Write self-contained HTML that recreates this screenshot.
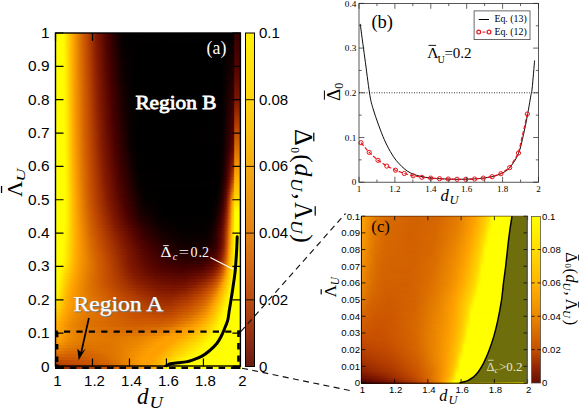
<!DOCTYPE html>
<html><head><meta charset="utf-8"><title>fig</title>
<style>
html,body{margin:0;padding:0;background:#fff;}
svg{display:block;}
text{font-family:"Liberation Sans",sans-serif;}
.se,.se text{font-family:"Liberation Serif",serif;}
</style></head><body>
<svg width="581" height="410" viewBox="0 0 581 410">
<rect width="581" height="410" fill="#fff"/>

<g id="pa">
<clipPath id="clipa"><rect x="55" y="32.5" width="186" height="336.5"/></clipPath><g clip-path="url(#clipa)">
<defs><linearGradient id="ga0"><stop offset="0.000" stop-color="#ffff00"/><stop offset="0.032" stop-color="#ffff00"/><stop offset="0.048" stop-color="#fffa00"/><stop offset="0.095" stop-color="#ffa900"/><stop offset="0.143" stop-color="#d66700"/><stop offset="0.175" stop-color="#bd4600"/><stop offset="0.222" stop-color="#831a00"/><stop offset="0.270" stop-color="#550500"/><stop offset="0.286" stop-color="#470000"/><stop offset="0.349" stop-color="#0d0000"/><stop offset="0.365" stop-color="#040000"/><stop offset="0.476" stop-color="#000000"/><stop offset="0.937" stop-color="#020000"/><stop offset="1.000" stop-color="#040000"/></linearGradient><linearGradient id="ga1"><stop offset="0.000" stop-color="#ffff00"/><stop offset="0.032" stop-color="#ffff00"/><stop offset="0.048" stop-color="#fffa00"/><stop offset="0.079" stop-color="#ffc500"/><stop offset="0.095" stop-color="#ffa900"/><stop offset="0.143" stop-color="#d66700"/><stop offset="0.175" stop-color="#bd4600"/><stop offset="0.222" stop-color="#841a00"/><stop offset="0.270" stop-color="#560500"/><stop offset="0.286" stop-color="#470000"/><stop offset="0.349" stop-color="#0e0000"/><stop offset="0.365" stop-color="#050000"/><stop offset="0.444" stop-color="#000000"/><stop offset="0.921" stop-color="#020000"/><stop offset="1.000" stop-color="#060000"/></linearGradient><linearGradient id="ga2"><stop offset="0.000" stop-color="#ffff00"/><stop offset="0.032" stop-color="#ffff00"/><stop offset="0.048" stop-color="#fffa00"/><stop offset="0.079" stop-color="#ffc600"/><stop offset="0.095" stop-color="#ffa900"/><stop offset="0.143" stop-color="#d66800"/><stop offset="0.175" stop-color="#bd4700"/><stop offset="0.222" stop-color="#841b00"/><stop offset="0.270" stop-color="#560500"/><stop offset="0.317" stop-color="#2a0000"/><stop offset="0.349" stop-color="#0e0000"/><stop offset="0.381" stop-color="#020000"/><stop offset="0.921" stop-color="#020000"/><stop offset="1.000" stop-color="#080000"/></linearGradient><linearGradient id="ga3"><stop offset="0.000" stop-color="#ffff00"/><stop offset="0.032" stop-color="#ffff00"/><stop offset="0.048" stop-color="#fffa00"/><stop offset="0.079" stop-color="#ffc600"/><stop offset="0.095" stop-color="#ffa900"/><stop offset="0.143" stop-color="#d76800"/><stop offset="0.175" stop-color="#be4700"/><stop offset="0.222" stop-color="#851b00"/><stop offset="0.270" stop-color="#570600"/><stop offset="0.302" stop-color="#3a0000"/><stop offset="0.349" stop-color="#0f0000"/><stop offset="0.365" stop-color="#060000"/><stop offset="0.429" stop-color="#000000"/><stop offset="0.905" stop-color="#010000"/><stop offset="0.984" stop-color="#0a0000"/><stop offset="1.000" stop-color="#0a0000"/></linearGradient><linearGradient id="ga4"><stop offset="0.000" stop-color="#ffff00"/><stop offset="0.032" stop-color="#ffff00"/><stop offset="0.048" stop-color="#fffa00"/><stop offset="0.079" stop-color="#ffc600"/><stop offset="0.095" stop-color="#ffaa00"/><stop offset="0.143" stop-color="#d76800"/><stop offset="0.175" stop-color="#be4700"/><stop offset="0.222" stop-color="#861c00"/><stop offset="0.270" stop-color="#580600"/><stop offset="0.302" stop-color="#3b0000"/><stop offset="0.349" stop-color="#100000"/><stop offset="0.365" stop-color="#070000"/><stop offset="0.444" stop-color="#000000"/><stop offset="0.905" stop-color="#010000"/><stop offset="0.984" stop-color="#0d0000"/><stop offset="1.000" stop-color="#0d0000"/></linearGradient><linearGradient id="ga5"><stop offset="0.000" stop-color="#ffff00"/><stop offset="0.032" stop-color="#ffff00"/><stop offset="0.048" stop-color="#fffa00"/><stop offset="0.063" stop-color="#ffe300"/><stop offset="0.095" stop-color="#ffaa00"/><stop offset="0.143" stop-color="#d76900"/><stop offset="0.175" stop-color="#be4800"/><stop offset="0.222" stop-color="#871c00"/><stop offset="0.286" stop-color="#4a0100"/><stop offset="0.349" stop-color="#110000"/><stop offset="0.381" stop-color="#040000"/><stop offset="0.508" stop-color="#000000"/><stop offset="0.905" stop-color="#020000"/><stop offset="0.968" stop-color="#0f0000"/><stop offset="1.000" stop-color="#100000"/></linearGradient><linearGradient id="ga6"><stop offset="0.000" stop-color="#ffff00"/><stop offset="0.032" stop-color="#ffff00"/><stop offset="0.048" stop-color="#fffa00"/><stop offset="0.063" stop-color="#ffe300"/><stop offset="0.095" stop-color="#ffaa00"/><stop offset="0.143" stop-color="#d76900"/><stop offset="0.175" stop-color="#bf4800"/><stop offset="0.222" stop-color="#871d00"/><stop offset="0.270" stop-color="#5a0700"/><stop offset="0.302" stop-color="#3d0000"/><stop offset="0.349" stop-color="#120000"/><stop offset="0.381" stop-color="#050000"/><stop offset="0.476" stop-color="#000000"/><stop offset="0.905" stop-color="#020000"/><stop offset="0.984" stop-color="#120000"/><stop offset="1.000" stop-color="#120000"/></linearGradient><linearGradient id="ga7"><stop offset="0.000" stop-color="#ffff00"/><stop offset="0.032" stop-color="#ffff00"/><stop offset="0.048" stop-color="#fffa00"/><stop offset="0.079" stop-color="#ffc700"/><stop offset="0.095" stop-color="#ffaa00"/><stop offset="0.143" stop-color="#d76900"/><stop offset="0.175" stop-color="#bf4900"/><stop offset="0.222" stop-color="#881d00"/><stop offset="0.286" stop-color="#4c0200"/><stop offset="0.349" stop-color="#140000"/><stop offset="0.365" stop-color="#0a0000"/><stop offset="0.429" stop-color="#000000"/><stop offset="0.905" stop-color="#020000"/><stop offset="0.968" stop-color="#140000"/><stop offset="1.000" stop-color="#150000"/></linearGradient><linearGradient id="ga8"><stop offset="0.000" stop-color="#ffff00"/><stop offset="0.032" stop-color="#ffff00"/><stop offset="0.048" stop-color="#fffb00"/><stop offset="0.063" stop-color="#ffe400"/><stop offset="0.095" stop-color="#ffaa00"/><stop offset="0.143" stop-color="#d86a00"/><stop offset="0.175" stop-color="#c04900"/><stop offset="0.222" stop-color="#891e00"/><stop offset="0.270" stop-color="#5b0700"/><stop offset="0.302" stop-color="#3f0000"/><stop offset="0.349" stop-color="#150000"/><stop offset="0.381" stop-color="#060000"/><stop offset="0.444" stop-color="#000000"/><stop offset="0.889" stop-color="#010000"/><stop offset="0.937" stop-color="#0d0000"/><stop offset="0.968" stop-color="#170000"/><stop offset="1.000" stop-color="#180000"/></linearGradient><linearGradient id="ga9"><stop offset="0.000" stop-color="#ffff00"/><stop offset="0.032" stop-color="#ffff00"/><stop offset="0.048" stop-color="#fffb00"/><stop offset="0.063" stop-color="#ffe400"/><stop offset="0.095" stop-color="#ffab00"/><stop offset="0.143" stop-color="#d86a00"/><stop offset="0.175" stop-color="#c04900"/><stop offset="0.222" stop-color="#8a1f00"/><stop offset="0.270" stop-color="#5c0700"/><stop offset="0.317" stop-color="#310000"/><stop offset="0.365" stop-color="#0c0000"/><stop offset="0.429" stop-color="#000000"/><stop offset="0.889" stop-color="#010000"/><stop offset="0.937" stop-color="#0e0000"/><stop offset="0.968" stop-color="#190000"/><stop offset="1.000" stop-color="#1b0000"/></linearGradient><linearGradient id="ga10"><stop offset="0.000" stop-color="#ffff00"/><stop offset="0.032" stop-color="#ffff00"/><stop offset="0.048" stop-color="#fffb00"/><stop offset="0.063" stop-color="#ffe400"/><stop offset="0.095" stop-color="#ffab00"/><stop offset="0.111" stop-color="#f59300"/><stop offset="0.143" stop-color="#d86a00"/><stop offset="0.175" stop-color="#c14a00"/><stop offset="0.222" stop-color="#8b1f00"/><stop offset="0.270" stop-color="#5d0800"/><stop offset="0.302" stop-color="#410000"/><stop offset="0.349" stop-color="#170000"/><stop offset="0.381" stop-color="#080000"/><stop offset="0.429" stop-color="#000000"/><stop offset="0.889" stop-color="#010000"/><stop offset="0.921" stop-color="#090000"/><stop offset="0.968" stop-color="#1c0000"/><stop offset="1.000" stop-color="#1e0000"/></linearGradient><linearGradient id="ga11"><stop offset="0.000" stop-color="#ffff00"/><stop offset="0.032" stop-color="#ffff00"/><stop offset="0.048" stop-color="#fffb00"/><stop offset="0.063" stop-color="#ffe500"/><stop offset="0.095" stop-color="#ffab00"/><stop offset="0.127" stop-color="#e67f00"/><stop offset="0.175" stop-color="#c14a00"/><stop offset="0.222" stop-color="#8c2000"/><stop offset="0.270" stop-color="#5e0800"/><stop offset="0.302" stop-color="#420000"/><stop offset="0.349" stop-color="#180000"/><stop offset="0.381" stop-color="#090000"/><stop offset="0.429" stop-color="#000000"/><stop offset="0.889" stop-color="#010000"/><stop offset="0.921" stop-color="#0a0000"/><stop offset="0.968" stop-color="#1f0000"/><stop offset="1.000" stop-color="#200000"/></linearGradient><linearGradient id="ga12"><stop offset="0.000" stop-color="#ffff00"/><stop offset="0.032" stop-color="#ffff00"/><stop offset="0.048" stop-color="#fffb00"/><stop offset="0.063" stop-color="#ffe500"/><stop offset="0.095" stop-color="#ffab00"/><stop offset="0.127" stop-color="#e67f00"/><stop offset="0.159" stop-color="#ce5a00"/><stop offset="0.175" stop-color="#c24b00"/><stop offset="0.222" stop-color="#8c2000"/><stop offset="0.270" stop-color="#5f0800"/><stop offset="0.302" stop-color="#430000"/><stop offset="0.349" stop-color="#190000"/><stop offset="0.381" stop-color="#090000"/><stop offset="0.429" stop-color="#000000"/><stop offset="0.889" stop-color="#010000"/><stop offset="0.921" stop-color="#0b0000"/><stop offset="0.968" stop-color="#210000"/><stop offset="1.000" stop-color="#230000"/></linearGradient><linearGradient id="ga13"><stop offset="0.000" stop-color="#ffff00"/><stop offset="0.032" stop-color="#ffff00"/><stop offset="0.048" stop-color="#fffb00"/><stop offset="0.063" stop-color="#ffe500"/><stop offset="0.095" stop-color="#ffac00"/><stop offset="0.127" stop-color="#e67f00"/><stop offset="0.159" stop-color="#ce5a00"/><stop offset="0.175" stop-color="#c24b00"/><stop offset="0.222" stop-color="#8d2100"/><stop offset="0.254" stop-color="#6e0f00"/><stop offset="0.302" stop-color="#440000"/><stop offset="0.349" stop-color="#1a0000"/><stop offset="0.381" stop-color="#0a0000"/><stop offset="0.429" stop-color="#000000"/><stop offset="0.889" stop-color="#010000"/><stop offset="0.921" stop-color="#0b0000"/><stop offset="0.968" stop-color="#240000"/><stop offset="1.000" stop-color="#260000"/></linearGradient><linearGradient id="ga14"><stop offset="0.000" stop-color="#ffff00"/><stop offset="0.032" stop-color="#ffff00"/><stop offset="0.048" stop-color="#fffb00"/><stop offset="0.063" stop-color="#ffe600"/><stop offset="0.095" stop-color="#ffac00"/><stop offset="0.127" stop-color="#e67f00"/><stop offset="0.175" stop-color="#c34b00"/><stop offset="0.222" stop-color="#8e2200"/><stop offset="0.254" stop-color="#6f1000"/><stop offset="0.302" stop-color="#450000"/><stop offset="0.349" stop-color="#1b0000"/><stop offset="0.381" stop-color="#0b0000"/><stop offset="0.429" stop-color="#000000"/><stop offset="0.889" stop-color="#010000"/><stop offset="0.921" stop-color="#0c0000"/><stop offset="0.968" stop-color="#270000"/><stop offset="1.000" stop-color="#290000"/></linearGradient><linearGradient id="ga15"><stop offset="0.000" stop-color="#ffff00"/><stop offset="0.032" stop-color="#ffff00"/><stop offset="0.048" stop-color="#fffb00"/><stop offset="0.063" stop-color="#ffe600"/><stop offset="0.095" stop-color="#ffac00"/><stop offset="0.127" stop-color="#e68000"/><stop offset="0.159" stop-color="#cf5b00"/><stop offset="0.175" stop-color="#c34c00"/><stop offset="0.222" stop-color="#8f2200"/><stop offset="0.254" stop-color="#701000"/><stop offset="0.302" stop-color="#460000"/><stop offset="0.349" stop-color="#1c0000"/><stop offset="0.381" stop-color="#0b0000"/><stop offset="0.429" stop-color="#000000"/><stop offset="0.889" stop-color="#010000"/><stop offset="0.921" stop-color="#0d0000"/><stop offset="0.968" stop-color="#290000"/><stop offset="1.000" stop-color="#2c0000"/></linearGradient><linearGradient id="ga16"><stop offset="0.000" stop-color="#ffff00"/><stop offset="0.032" stop-color="#ffff00"/><stop offset="0.048" stop-color="#fffb00"/><stop offset="0.063" stop-color="#ffe600"/><stop offset="0.095" stop-color="#ffac00"/><stop offset="0.111" stop-color="#f69400"/><stop offset="0.143" stop-color="#da6d00"/><stop offset="0.175" stop-color="#c44c00"/><stop offset="0.222" stop-color="#902300"/><stop offset="0.270" stop-color="#620900"/><stop offset="0.302" stop-color="#470000"/><stop offset="0.349" stop-color="#1d0000"/><stop offset="0.381" stop-color="#0c0000"/><stop offset="0.429" stop-color="#000000"/><stop offset="0.889" stop-color="#010000"/><stop offset="0.921" stop-color="#0e0000"/><stop offset="0.952" stop-color="#250000"/><stop offset="0.968" stop-color="#2c0000"/><stop offset="1.000" stop-color="#2e0000"/></linearGradient><linearGradient id="ga17"><stop offset="0.000" stop-color="#ffff00"/><stop offset="0.048" stop-color="#fffc00"/><stop offset="0.063" stop-color="#ffe700"/><stop offset="0.095" stop-color="#ffac00"/><stop offset="0.111" stop-color="#f69400"/><stop offset="0.159" stop-color="#cf5c00"/><stop offset="0.175" stop-color="#c44d00"/><stop offset="0.222" stop-color="#902300"/><stop offset="0.254" stop-color="#721100"/><stop offset="0.302" stop-color="#480100"/><stop offset="0.349" stop-color="#1e0000"/><stop offset="0.397" stop-color="#070000"/><stop offset="0.429" stop-color="#000000"/><stop offset="0.889" stop-color="#010000"/><stop offset="0.921" stop-color="#0f0000"/><stop offset="0.952" stop-color="#270000"/><stop offset="0.968" stop-color="#2f0000"/><stop offset="1.000" stop-color="#310000"/></linearGradient><linearGradient id="ga18"><stop offset="0.000" stop-color="#ffff00"/><stop offset="0.048" stop-color="#fffc00"/><stop offset="0.063" stop-color="#ffe700"/><stop offset="0.095" stop-color="#ffad00"/><stop offset="0.111" stop-color="#f69500"/><stop offset="0.159" stop-color="#cf5c00"/><stop offset="0.175" stop-color="#c54d00"/><stop offset="0.222" stop-color="#912400"/><stop offset="0.254" stop-color="#721100"/><stop offset="0.302" stop-color="#490100"/><stop offset="0.365" stop-color="#150000"/><stop offset="0.413" stop-color="#030000"/><stop offset="0.508" stop-color="#000000"/><stop offset="0.889" stop-color="#010000"/><stop offset="0.921" stop-color="#100000"/><stop offset="0.952" stop-color="#290000"/><stop offset="0.968" stop-color="#310000"/><stop offset="1.000" stop-color="#340000"/></linearGradient><linearGradient id="ga19"><stop offset="0.000" stop-color="#ffff00"/><stop offset="0.048" stop-color="#fffc00"/><stop offset="0.063" stop-color="#ffe700"/><stop offset="0.095" stop-color="#ffad00"/><stop offset="0.111" stop-color="#f69500"/><stop offset="0.143" stop-color="#da6e00"/><stop offset="0.175" stop-color="#c54d00"/><stop offset="0.238" stop-color="#811900"/><stop offset="0.302" stop-color="#4a0100"/><stop offset="0.365" stop-color="#160000"/><stop offset="0.413" stop-color="#030000"/><stop offset="0.508" stop-color="#000000"/><stop offset="0.889" stop-color="#010000"/><stop offset="0.905" stop-color="#060000"/><stop offset="0.968" stop-color="#340000"/><stop offset="1.000" stop-color="#370000"/></linearGradient><linearGradient id="ga20"><stop offset="0.000" stop-color="#ffff00"/><stop offset="0.048" stop-color="#fffc00"/><stop offset="0.063" stop-color="#ffe800"/><stop offset="0.095" stop-color="#ffad00"/><stop offset="0.111" stop-color="#f69500"/><stop offset="0.159" stop-color="#d05d00"/><stop offset="0.175" stop-color="#c64e00"/><stop offset="0.222" stop-color="#932500"/><stop offset="0.254" stop-color="#741200"/><stop offset="0.302" stop-color="#4b0200"/><stop offset="0.365" stop-color="#170000"/><stop offset="0.413" stop-color="#030000"/><stop offset="0.603" stop-color="#000000"/><stop offset="0.889" stop-color="#010000"/><stop offset="0.921" stop-color="#110000"/><stop offset="0.952" stop-color="#2d0000"/><stop offset="0.968" stop-color="#370000"/><stop offset="1.000" stop-color="#3a0000"/></linearGradient><linearGradient id="ga21"><stop offset="0.000" stop-color="#ffff00"/><stop offset="0.048" stop-color="#fffc00"/><stop offset="0.063" stop-color="#ffe800"/><stop offset="0.095" stop-color="#ffad00"/><stop offset="0.111" stop-color="#f69500"/><stop offset="0.159" stop-color="#d05d00"/><stop offset="0.175" stop-color="#c64e00"/><stop offset="0.238" stop-color="#831a00"/><stop offset="0.286" stop-color="#590600"/><stop offset="0.333" stop-color="#300000"/><stop offset="0.365" stop-color="#180000"/><stop offset="0.413" stop-color="#030000"/><stop offset="0.603" stop-color="#000000"/><stop offset="0.889" stop-color="#010000"/><stop offset="0.921" stop-color="#120000"/><stop offset="0.952" stop-color="#300000"/><stop offset="0.968" stop-color="#390000"/><stop offset="1.000" stop-color="#3c0000"/></linearGradient><linearGradient id="ga22"><stop offset="0.000" stop-color="#ffff00"/><stop offset="0.048" stop-color="#fffc00"/><stop offset="0.063" stop-color="#ffe800"/><stop offset="0.095" stop-color="#ffae00"/><stop offset="0.111" stop-color="#f79600"/><stop offset="0.143" stop-color="#db6f00"/><stop offset="0.175" stop-color="#c64f00"/><stop offset="0.222" stop-color="#942600"/><stop offset="0.254" stop-color="#761300"/><stop offset="0.302" stop-color="#4d0200"/><stop offset="0.365" stop-color="#190000"/><stop offset="0.413" stop-color="#030000"/><stop offset="0.603" stop-color="#000000"/><stop offset="0.889" stop-color="#010000"/><stop offset="0.905" stop-color="#070000"/><stop offset="0.952" stop-color="#320000"/><stop offset="0.968" stop-color="#3c0000"/><stop offset="1.000" stop-color="#3f0000"/></linearGradient><linearGradient id="ga23"><stop offset="0.000" stop-color="#ffff00"/><stop offset="0.048" stop-color="#fffc00"/><stop offset="0.063" stop-color="#ffe900"/><stop offset="0.095" stop-color="#ffae00"/><stop offset="0.111" stop-color="#f79600"/><stop offset="0.159" stop-color="#d05e00"/><stop offset="0.175" stop-color="#c74f00"/><stop offset="0.238" stop-color="#851b00"/><stop offset="0.286" stop-color="#5b0700"/><stop offset="0.333" stop-color="#320000"/><stop offset="0.381" stop-color="#110000"/><stop offset="0.413" stop-color="#030000"/><stop offset="0.603" stop-color="#000000"/><stop offset="0.889" stop-color="#010000"/><stop offset="0.905" stop-color="#070000"/><stop offset="0.952" stop-color="#340000"/><stop offset="0.968" stop-color="#3f0000"/><stop offset="1.000" stop-color="#420000"/></linearGradient><linearGradient id="ga24"><stop offset="0.000" stop-color="#ffff00"/><stop offset="0.048" stop-color="#fffc00"/><stop offset="0.063" stop-color="#ffe900"/><stop offset="0.095" stop-color="#ffae00"/><stop offset="0.111" stop-color="#f79600"/><stop offset="0.143" stop-color="#db6f00"/><stop offset="0.175" stop-color="#c74f00"/><stop offset="0.222" stop-color="#962700"/><stop offset="0.270" stop-color="#690d00"/><stop offset="0.317" stop-color="#410000"/><stop offset="0.365" stop-color="#1b0000"/><stop offset="0.413" stop-color="#030000"/><stop offset="0.603" stop-color="#000000"/><stop offset="0.889" stop-color="#020000"/><stop offset="0.905" stop-color="#080000"/><stop offset="0.952" stop-color="#360000"/><stop offset="0.968" stop-color="#410000"/><stop offset="1.000" stop-color="#450000"/></linearGradient><linearGradient id="ga25"><stop offset="0.000" stop-color="#ffff00"/><stop offset="0.048" stop-color="#fffc00"/><stop offset="0.063" stop-color="#ffe900"/><stop offset="0.095" stop-color="#ffae00"/><stop offset="0.111" stop-color="#f79600"/><stop offset="0.159" stop-color="#d15f00"/><stop offset="0.175" stop-color="#c85000"/><stop offset="0.238" stop-color="#871c00"/><stop offset="0.286" stop-color="#5d0800"/><stop offset="0.317" stop-color="#420000"/><stop offset="0.365" stop-color="#1c0000"/><stop offset="0.413" stop-color="#040000"/><stop offset="0.492" stop-color="#000000"/><stop offset="0.889" stop-color="#020000"/><stop offset="0.905" stop-color="#080000"/><stop offset="0.952" stop-color="#380000"/><stop offset="0.968" stop-color="#440000"/><stop offset="1.000" stop-color="#470000"/></linearGradient><linearGradient id="ga26"><stop offset="0.000" stop-color="#ffff00"/><stop offset="0.048" stop-color="#fffc00"/><stop offset="0.063" stop-color="#ffea00"/><stop offset="0.095" stop-color="#ffae00"/><stop offset="0.111" stop-color="#f79600"/><stop offset="0.159" stop-color="#d15f00"/><stop offset="0.175" stop-color="#c85000"/><stop offset="0.238" stop-color="#881d00"/><stop offset="0.286" stop-color="#5e0800"/><stop offset="0.317" stop-color="#430000"/><stop offset="0.365" stop-color="#1d0000"/><stop offset="0.413" stop-color="#040000"/><stop offset="0.492" stop-color="#000000"/><stop offset="0.889" stop-color="#020000"/><stop offset="0.905" stop-color="#080000"/><stop offset="0.937" stop-color="#280000"/><stop offset="0.952" stop-color="#3b0000"/><stop offset="0.968" stop-color="#470000"/><stop offset="1.000" stop-color="#4a0100"/></linearGradient><linearGradient id="ga27"><stop offset="0.000" stop-color="#ffff00"/><stop offset="0.048" stop-color="#fffd00"/><stop offset="0.063" stop-color="#ffea00"/><stop offset="0.095" stop-color="#ffaf00"/><stop offset="0.111" stop-color="#f89700"/><stop offset="0.143" stop-color="#dc7000"/><stop offset="0.175" stop-color="#c85100"/><stop offset="0.222" stop-color="#982900"/><stop offset="0.270" stop-color="#6c0e00"/><stop offset="0.317" stop-color="#440000"/><stop offset="0.365" stop-color="#1e0000"/><stop offset="0.413" stop-color="#040000"/><stop offset="0.492" stop-color="#000000"/><stop offset="0.889" stop-color="#020000"/><stop offset="0.905" stop-color="#090000"/><stop offset="0.937" stop-color="#2a0000"/><stop offset="0.952" stop-color="#3d0000"/><stop offset="0.968" stop-color="#490100"/><stop offset="1.000" stop-color="#4c0200"/></linearGradient><linearGradient id="ga28"><stop offset="0.000" stop-color="#ffff00"/><stop offset="0.048" stop-color="#fffd00"/><stop offset="0.063" stop-color="#ffea00"/><stop offset="0.095" stop-color="#ffaf00"/><stop offset="0.111" stop-color="#f89700"/><stop offset="0.159" stop-color="#d16000"/><stop offset="0.175" stop-color="#c95100"/><stop offset="0.238" stop-color="#891e00"/><stop offset="0.286" stop-color="#5f0800"/><stop offset="0.317" stop-color="#450000"/><stop offset="0.365" stop-color="#1f0000"/><stop offset="0.413" stop-color="#040000"/><stop offset="0.492" stop-color="#000000"/><stop offset="0.889" stop-color="#020000"/><stop offset="0.905" stop-color="#090000"/><stop offset="0.937" stop-color="#2b0000"/><stop offset="0.952" stop-color="#3f0000"/><stop offset="0.968" stop-color="#4b0200"/><stop offset="1.000" stop-color="#4f0300"/></linearGradient><linearGradient id="ga29"><stop offset="0.000" stop-color="#ffff00"/><stop offset="0.048" stop-color="#fffd00"/><stop offset="0.063" stop-color="#ffeb00"/><stop offset="0.095" stop-color="#ffaf00"/><stop offset="0.111" stop-color="#f89700"/><stop offset="0.159" stop-color="#d26000"/><stop offset="0.175" stop-color="#c95200"/><stop offset="0.222" stop-color="#9a2a00"/><stop offset="0.270" stop-color="#6e0f00"/><stop offset="0.317" stop-color="#460000"/><stop offset="0.365" stop-color="#200000"/><stop offset="0.413" stop-color="#040000"/><stop offset="0.492" stop-color="#000000"/><stop offset="0.889" stop-color="#020000"/><stop offset="0.905" stop-color="#090000"/><stop offset="0.937" stop-color="#2d0000"/><stop offset="0.952" stop-color="#410000"/><stop offset="0.968" stop-color="#4d0200"/><stop offset="1.000" stop-color="#510400"/></linearGradient><linearGradient id="ga30"><stop offset="0.000" stop-color="#ffff00"/><stop offset="0.048" stop-color="#fffd00"/><stop offset="0.063" stop-color="#ffeb00"/><stop offset="0.095" stop-color="#ffaf00"/><stop offset="0.111" stop-color="#f89700"/><stop offset="0.159" stop-color="#d26000"/><stop offset="0.175" stop-color="#c95200"/><stop offset="0.238" stop-color="#8b2000"/><stop offset="0.286" stop-color="#610900"/><stop offset="0.317" stop-color="#470000"/><stop offset="0.381" stop-color="#160000"/><stop offset="0.413" stop-color="#040000"/><stop offset="0.492" stop-color="#000000"/><stop offset="0.889" stop-color="#020000"/><stop offset="0.905" stop-color="#0a0000"/><stop offset="0.937" stop-color="#2e0000"/><stop offset="0.952" stop-color="#440000"/><stop offset="0.968" stop-color="#500300"/><stop offset="1.000" stop-color="#540500"/></linearGradient><linearGradient id="ga31"><stop offset="0.000" stop-color="#ffff00"/><stop offset="0.048" stop-color="#fffd00"/><stop offset="0.063" stop-color="#ffeb00"/><stop offset="0.095" stop-color="#ffaf00"/><stop offset="0.111" stop-color="#f89800"/><stop offset="0.159" stop-color="#d26100"/><stop offset="0.175" stop-color="#ca5300"/><stop offset="0.238" stop-color="#8c2000"/><stop offset="0.286" stop-color="#620900"/><stop offset="0.333" stop-color="#3b0000"/><stop offset="0.397" stop-color="#0d0000"/><stop offset="0.413" stop-color="#040000"/><stop offset="0.492" stop-color="#000000"/><stop offset="0.889" stop-color="#020000"/><stop offset="0.905" stop-color="#0a0000"/><stop offset="0.937" stop-color="#300000"/><stop offset="0.952" stop-color="#460000"/><stop offset="0.968" stop-color="#520400"/><stop offset="1.000" stop-color="#560500"/></linearGradient><linearGradient id="ga32"><stop offset="0.000" stop-color="#ffff00"/><stop offset="0.048" stop-color="#fffd00"/><stop offset="0.063" stop-color="#ffec00"/><stop offset="0.095" stop-color="#ffb000"/><stop offset="0.111" stop-color="#f89800"/><stop offset="0.159" stop-color="#d26100"/><stop offset="0.175" stop-color="#ca5300"/><stop offset="0.238" stop-color="#8d2100"/><stop offset="0.286" stop-color="#630a00"/><stop offset="0.333" stop-color="#3c0000"/><stop offset="0.397" stop-color="#0d0000"/><stop offset="0.429" stop-color="#010000"/><stop offset="0.889" stop-color="#020000"/><stop offset="0.905" stop-color="#0a0000"/><stop offset="0.937" stop-color="#320000"/><stop offset="0.952" stop-color="#480100"/><stop offset="0.968" stop-color="#540500"/><stop offset="1.000" stop-color="#580600"/></linearGradient><linearGradient id="ga33"><stop offset="0.000" stop-color="#ffff00"/><stop offset="0.048" stop-color="#fffd00"/><stop offset="0.063" stop-color="#ffec00"/><stop offset="0.095" stop-color="#ffb000"/><stop offset="0.111" stop-color="#f99800"/><stop offset="0.159" stop-color="#d26100"/><stop offset="0.175" stop-color="#ca5300"/><stop offset="0.254" stop-color="#7f1700"/><stop offset="0.317" stop-color="#4a0100"/><stop offset="0.397" stop-color="#0e0000"/><stop offset="0.413" stop-color="#050000"/><stop offset="0.460" stop-color="#000000"/><stop offset="0.889" stop-color="#020000"/><stop offset="0.905" stop-color="#0b0000"/><stop offset="0.921" stop-color="#1c0000"/><stop offset="0.952" stop-color="#4a0100"/><stop offset="0.968" stop-color="#570600"/><stop offset="1.000" stop-color="#5b0700"/></linearGradient><linearGradient id="ga34"><stop offset="0.000" stop-color="#ffff00"/><stop offset="0.048" stop-color="#fffd00"/><stop offset="0.063" stop-color="#ffec00"/><stop offset="0.095" stop-color="#ffb000"/><stop offset="0.111" stop-color="#f99800"/><stop offset="0.159" stop-color="#d36200"/><stop offset="0.190" stop-color="#bd4700"/><stop offset="0.254" stop-color="#801800"/><stop offset="0.317" stop-color="#4b0200"/><stop offset="0.397" stop-color="#0e0000"/><stop offset="0.413" stop-color="#050000"/><stop offset="0.460" stop-color="#000000"/><stop offset="0.889" stop-color="#020000"/><stop offset="0.905" stop-color="#0b0000"/><stop offset="0.937" stop-color="#350000"/><stop offset="0.952" stop-color="#4c0200"/><stop offset="0.968" stop-color="#5a0700"/><stop offset="1.000" stop-color="#5e0800"/></linearGradient><linearGradient id="ga35"><stop offset="0.000" stop-color="#ffff00"/><stop offset="0.048" stop-color="#fffd00"/><stop offset="0.063" stop-color="#ffed00"/><stop offset="0.095" stop-color="#ffb000"/><stop offset="0.111" stop-color="#f99900"/><stop offset="0.159" stop-color="#d36200"/><stop offset="0.175" stop-color="#cb5400"/><stop offset="0.254" stop-color="#811800"/><stop offset="0.317" stop-color="#4c0200"/><stop offset="0.397" stop-color="#0f0000"/><stop offset="0.429" stop-color="#010000"/><stop offset="0.889" stop-color="#020000"/><stop offset="0.905" stop-color="#0c0000"/><stop offset="0.937" stop-color="#370000"/><stop offset="0.952" stop-color="#4f0300"/><stop offset="0.968" stop-color="#5e0800"/><stop offset="1.000" stop-color="#620900"/></linearGradient><linearGradient id="ga36"><stop offset="0.000" stop-color="#ffff00"/><stop offset="0.048" stop-color="#fffd00"/><stop offset="0.063" stop-color="#ffed00"/><stop offset="0.095" stop-color="#ffb100"/><stop offset="0.111" stop-color="#f99900"/><stop offset="0.159" stop-color="#d36300"/><stop offset="0.175" stop-color="#cb5500"/><stop offset="0.238" stop-color="#912300"/><stop offset="0.286" stop-color="#670c00"/><stop offset="0.333" stop-color="#400000"/><stop offset="0.413" stop-color="#060000"/><stop offset="0.460" stop-color="#000000"/><stop offset="0.889" stop-color="#020000"/><stop offset="0.905" stop-color="#0c0000"/><stop offset="0.921" stop-color="#200000"/><stop offset="0.952" stop-color="#520400"/><stop offset="0.968" stop-color="#620900"/><stop offset="1.000" stop-color="#670b00"/></linearGradient><linearGradient id="ga37"><stop offset="0.000" stop-color="#ffff00"/><stop offset="0.048" stop-color="#fffe00"/><stop offset="0.063" stop-color="#ffed00"/><stop offset="0.095" stop-color="#ffb100"/><stop offset="0.111" stop-color="#fa9900"/><stop offset="0.143" stop-color="#df7400"/><stop offset="0.190" stop-color="#bf4800"/><stop offset="0.254" stop-color="#821900"/><stop offset="0.317" stop-color="#4e0300"/><stop offset="0.397" stop-color="#110000"/><stop offset="0.413" stop-color="#070000"/><stop offset="0.444" stop-color="#010000"/><stop offset="0.873" stop-color="#000000"/><stop offset="0.889" stop-color="#030000"/><stop offset="0.905" stop-color="#0d0000"/><stop offset="0.921" stop-color="#220000"/><stop offset="0.937" stop-color="#3d0000"/><stop offset="0.952" stop-color="#570600"/><stop offset="0.968" stop-color="#670c00"/><stop offset="1.000" stop-color="#6d0e00"/></linearGradient><linearGradient id="ga38"><stop offset="0.000" stop-color="#ffff00"/><stop offset="0.048" stop-color="#fffe00"/><stop offset="0.063" stop-color="#ffee00"/><stop offset="0.095" stop-color="#ffb200"/><stop offset="0.111" stop-color="#fa9a00"/><stop offset="0.159" stop-color="#d46300"/><stop offset="0.190" stop-color="#c04900"/><stop offset="0.254" stop-color="#841a00"/><stop offset="0.317" stop-color="#500300"/><stop offset="0.397" stop-color="#120000"/><stop offset="0.413" stop-color="#080000"/><stop offset="0.460" stop-color="#000000"/><stop offset="0.873" stop-color="#000000"/><stop offset="0.889" stop-color="#030000"/><stop offset="0.905" stop-color="#0e0000"/><stop offset="0.921" stop-color="#240000"/><stop offset="0.937" stop-color="#400000"/><stop offset="0.952" stop-color="#5c0700"/><stop offset="0.968" stop-color="#6e0f00"/><stop offset="0.984" stop-color="#741200"/><stop offset="1.000" stop-color="#741200"/></linearGradient><linearGradient id="ga39"><stop offset="0.000" stop-color="#ffff00"/><stop offset="0.048" stop-color="#fffe00"/><stop offset="0.063" stop-color="#ffee00"/><stop offset="0.095" stop-color="#ffb200"/><stop offset="0.111" stop-color="#fa9a00"/><stop offset="0.159" stop-color="#d46400"/><stop offset="0.190" stop-color="#c04900"/><stop offset="0.254" stop-color="#851b00"/><stop offset="0.302" stop-color="#5e0800"/><stop offset="0.333" stop-color="#450000"/><stop offset="0.413" stop-color="#0a0000"/><stop offset="0.444" stop-color="#020000"/><stop offset="0.873" stop-color="#000000"/><stop offset="0.889" stop-color="#030000"/><stop offset="0.905" stop-color="#0f0000"/><stop offset="0.921" stop-color="#260000"/><stop offset="0.937" stop-color="#450000"/><stop offset="0.952" stop-color="#610900"/><stop offset="0.968" stop-color="#761300"/><stop offset="0.984" stop-color="#7c1600"/><stop offset="1.000" stop-color="#7c1600"/></linearGradient><linearGradient id="ga40"><stop offset="0.000" stop-color="#ffff00"/><stop offset="0.048" stop-color="#fffe00"/><stop offset="0.063" stop-color="#ffee00"/><stop offset="0.095" stop-color="#ffb300"/><stop offset="0.111" stop-color="#fb9b00"/><stop offset="0.159" stop-color="#d46500"/><stop offset="0.190" stop-color="#c14a00"/><stop offset="0.254" stop-color="#861c00"/><stop offset="0.317" stop-color="#530400"/><stop offset="0.349" stop-color="#3a0000"/><stop offset="0.413" stop-color="#0c0000"/><stop offset="0.444" stop-color="#020000"/><stop offset="0.873" stop-color="#000000"/><stop offset="0.889" stop-color="#040000"/><stop offset="0.905" stop-color="#100000"/><stop offset="0.921" stop-color="#280000"/><stop offset="0.937" stop-color="#490100"/><stop offset="0.952" stop-color="#680c00"/><stop offset="0.968" stop-color="#7e1700"/><stop offset="0.984" stop-color="#861c00"/><stop offset="1.000" stop-color="#861c00"/></linearGradient><linearGradient id="ga41"><stop offset="0.000" stop-color="#ffff00"/><stop offset="0.048" stop-color="#fffe00"/><stop offset="0.063" stop-color="#ffef00"/><stop offset="0.095" stop-color="#ffb400"/><stop offset="0.111" stop-color="#fb9c00"/><stop offset="0.159" stop-color="#d56500"/><stop offset="0.190" stop-color="#c24b00"/><stop offset="0.254" stop-color="#871d00"/><stop offset="0.317" stop-color="#540500"/><stop offset="0.365" stop-color="#300000"/><stop offset="0.413" stop-color="#0d0000"/><stop offset="0.460" stop-color="#010000"/><stop offset="0.873" stop-color="#000000"/><stop offset="0.889" stop-color="#040000"/><stop offset="0.905" stop-color="#120000"/><stop offset="0.921" stop-color="#2b0000"/><stop offset="0.937" stop-color="#4d0200"/><stop offset="0.952" stop-color="#6e0f00"/><stop offset="0.968" stop-color="#881d00"/><stop offset="0.984" stop-color="#912400"/><stop offset="1.000" stop-color="#922400"/></linearGradient><linearGradient id="ga42"><stop offset="0.000" stop-color="#ffff00"/><stop offset="0.048" stop-color="#fffe00"/><stop offset="0.063" stop-color="#ffef00"/><stop offset="0.095" stop-color="#ffb400"/><stop offset="0.111" stop-color="#fc9c00"/><stop offset="0.159" stop-color="#d56600"/><stop offset="0.190" stop-color="#c24b00"/><stop offset="0.254" stop-color="#891e00"/><stop offset="0.302" stop-color="#620900"/><stop offset="0.349" stop-color="#3e0000"/><stop offset="0.413" stop-color="#0f0000"/><stop offset="0.444" stop-color="#030000"/><stop offset="0.635" stop-color="#000000"/><stop offset="0.873" stop-color="#000000"/><stop offset="0.889" stop-color="#040000"/><stop offset="0.905" stop-color="#130000"/><stop offset="0.921" stop-color="#2d0000"/><stop offset="0.937" stop-color="#510400"/><stop offset="0.952" stop-color="#751300"/><stop offset="0.968" stop-color="#932500"/><stop offset="0.984" stop-color="#9d2c00"/><stop offset="1.000" stop-color="#9e2d00"/></linearGradient><linearGradient id="ga43"><stop offset="0.000" stop-color="#ffff00"/><stop offset="0.048" stop-color="#fffe00"/><stop offset="0.063" stop-color="#ffef00"/><stop offset="0.095" stop-color="#ffb500"/><stop offset="0.111" stop-color="#fc9d00"/><stop offset="0.159" stop-color="#d66700"/><stop offset="0.190" stop-color="#c34c00"/><stop offset="0.254" stop-color="#8a1f00"/><stop offset="0.302" stop-color="#640a00"/><stop offset="0.349" stop-color="#400000"/><stop offset="0.413" stop-color="#110000"/><stop offset="0.444" stop-color="#040000"/><stop offset="0.524" stop-color="#000000"/><stop offset="0.873" stop-color="#000000"/><stop offset="0.889" stop-color="#050000"/><stop offset="0.905" stop-color="#140000"/><stop offset="0.921" stop-color="#300000"/><stop offset="0.937" stop-color="#550500"/><stop offset="0.952" stop-color="#7c1600"/><stop offset="0.968" stop-color="#9e2d00"/><stop offset="0.984" stop-color="#a93500"/><stop offset="1.000" stop-color="#aa3600"/></linearGradient><linearGradient id="ga44"><stop offset="0.000" stop-color="#ffff00"/><stop offset="0.048" stop-color="#fffe00"/><stop offset="0.063" stop-color="#fff000"/><stop offset="0.095" stop-color="#ffb600"/><stop offset="0.111" stop-color="#fd9d00"/><stop offset="0.143" stop-color="#e27900"/><stop offset="0.175" stop-color="#ce5900"/><stop offset="0.206" stop-color="#b64000"/><stop offset="0.270" stop-color="#7e1700"/><stop offset="0.333" stop-color="#4d0200"/><stop offset="0.413" stop-color="#130000"/><stop offset="0.444" stop-color="#040000"/><stop offset="0.524" stop-color="#000000"/><stop offset="0.873" stop-color="#000000"/><stop offset="0.889" stop-color="#050000"/><stop offset="0.905" stop-color="#160000"/><stop offset="0.921" stop-color="#330000"/><stop offset="0.937" stop-color="#5a0700"/><stop offset="0.952" stop-color="#841a00"/><stop offset="0.968" stop-color="#a93500"/><stop offset="0.984" stop-color="#b53f00"/><stop offset="1.000" stop-color="#b64000"/></linearGradient><linearGradient id="ga45"><stop offset="0.000" stop-color="#ffff00"/><stop offset="0.048" stop-color="#fffe00"/><stop offset="0.063" stop-color="#fff000"/><stop offset="0.095" stop-color="#ffb600"/><stop offset="0.111" stop-color="#fe9e00"/><stop offset="0.143" stop-color="#e27900"/><stop offset="0.190" stop-color="#c44d00"/><stop offset="0.254" stop-color="#8d2100"/><stop offset="0.302" stop-color="#670b00"/><stop offset="0.349" stop-color="#430000"/><stop offset="0.429" stop-color="#0c0000"/><stop offset="0.460" stop-color="#010000"/><stop offset="0.873" stop-color="#010000"/><stop offset="0.889" stop-color="#060000"/><stop offset="0.905" stop-color="#170000"/><stop offset="0.921" stop-color="#360000"/><stop offset="0.937" stop-color="#5e0800"/><stop offset="0.952" stop-color="#8c2000"/><stop offset="0.968" stop-color="#b43f00"/><stop offset="0.984" stop-color="#c14a00"/><stop offset="1.000" stop-color="#c24b00"/></linearGradient><linearGradient id="ga46"><stop offset="0.000" stop-color="#ffff00"/><stop offset="0.048" stop-color="#fffe00"/><stop offset="0.063" stop-color="#fff000"/><stop offset="0.095" stop-color="#ffb700"/><stop offset="0.111" stop-color="#fe9f00"/><stop offset="0.143" stop-color="#e27a00"/><stop offset="0.175" stop-color="#ce5a00"/><stop offset="0.206" stop-color="#b74200"/><stop offset="0.270" stop-color="#801800"/><stop offset="0.333" stop-color="#510400"/><stop offset="0.365" stop-color="#390000"/><stop offset="0.429" stop-color="#0e0000"/><stop offset="0.460" stop-color="#020000"/><stop offset="0.873" stop-color="#010000"/><stop offset="0.889" stop-color="#070000"/><stop offset="0.905" stop-color="#190000"/><stop offset="0.921" stop-color="#390000"/><stop offset="0.937" stop-color="#630a00"/><stop offset="0.952" stop-color="#952700"/><stop offset="0.968" stop-color="#c04900"/><stop offset="0.984" stop-color="#cb5500"/><stop offset="1.000" stop-color="#cc5600"/></linearGradient><linearGradient id="ga47"><stop offset="0.000" stop-color="#ffff00"/><stop offset="0.048" stop-color="#fffe00"/><stop offset="0.063" stop-color="#fff100"/><stop offset="0.095" stop-color="#ffb800"/><stop offset="0.111" stop-color="#ff9f00"/><stop offset="0.143" stop-color="#e37b00"/><stop offset="0.190" stop-color="#c64e00"/><stop offset="0.270" stop-color="#821900"/><stop offset="0.349" stop-color="#470000"/><stop offset="0.429" stop-color="#0f0000"/><stop offset="0.460" stop-color="#020000"/><stop offset="0.873" stop-color="#010000"/><stop offset="0.889" stop-color="#080000"/><stop offset="0.905" stop-color="#1b0000"/><stop offset="0.921" stop-color="#3d0000"/><stop offset="0.937" stop-color="#690c00"/><stop offset="0.952" stop-color="#9f2e00"/><stop offset="0.968" stop-color="#ca5400"/><stop offset="0.984" stop-color="#d26100"/><stop offset="1.000" stop-color="#d36300"/></linearGradient><linearGradient id="ga48"><stop offset="0.000" stop-color="#ffff00"/><stop offset="0.048" stop-color="#fffe00"/><stop offset="0.063" stop-color="#fff100"/><stop offset="0.095" stop-color="#ffb800"/><stop offset="0.111" stop-color="#ffa000"/><stop offset="0.143" stop-color="#e37b00"/><stop offset="0.190" stop-color="#c74f00"/><stop offset="0.270" stop-color="#831a00"/><stop offset="0.349" stop-color="#490100"/><stop offset="0.429" stop-color="#110000"/><stop offset="0.460" stop-color="#030000"/><stop offset="0.651" stop-color="#000000"/><stop offset="0.873" stop-color="#010000"/><stop offset="0.889" stop-color="#090000"/><stop offset="0.905" stop-color="#1e0000"/><stop offset="0.921" stop-color="#420000"/><stop offset="0.937" stop-color="#6f1000"/><stop offset="0.952" stop-color="#aa3600"/><stop offset="0.968" stop-color="#d26000"/><stop offset="0.984" stop-color="#dd7100"/><stop offset="1.000" stop-color="#de7300"/></linearGradient><linearGradient id="ga49"><stop offset="0.000" stop-color="#ffff00"/><stop offset="0.048" stop-color="#fffe00"/><stop offset="0.063" stop-color="#fff100"/><stop offset="0.095" stop-color="#ffb900"/><stop offset="0.111" stop-color="#ffa100"/><stop offset="0.159" stop-color="#d96b00"/><stop offset="0.190" stop-color="#c74f00"/><stop offset="0.270" stop-color="#851b00"/><stop offset="0.333" stop-color="#560500"/><stop offset="0.397" stop-color="#290000"/><stop offset="0.444" stop-color="#0a0000"/><stop offset="0.476" stop-color="#010000"/><stop offset="0.873" stop-color="#020000"/><stop offset="0.889" stop-color="#0a0000"/><stop offset="0.905" stop-color="#210000"/><stop offset="0.921" stop-color="#470000"/><stop offset="0.937" stop-color="#771300"/><stop offset="0.952" stop-color="#b64000"/><stop offset="0.968" stop-color="#dc6f00"/><stop offset="0.984" stop-color="#e88300"/><stop offset="1.000" stop-color="#e98400"/></linearGradient><linearGradient id="ga50"><stop offset="0.000" stop-color="#ffff00"/><stop offset="0.048" stop-color="#fffe00"/><stop offset="0.063" stop-color="#fff200"/><stop offset="0.095" stop-color="#ffba00"/><stop offset="0.111" stop-color="#ffa200"/><stop offset="0.159" stop-color="#d96c00"/><stop offset="0.190" stop-color="#c85000"/><stop offset="0.270" stop-color="#861c00"/><stop offset="0.333" stop-color="#580600"/><stop offset="0.381" stop-color="#360000"/><stop offset="0.444" stop-color="#0c0000"/><stop offset="0.476" stop-color="#020000"/><stop offset="0.873" stop-color="#020000"/><stop offset="0.889" stop-color="#0d0000"/><stop offset="0.905" stop-color="#250000"/><stop offset="0.921" stop-color="#4c0200"/><stop offset="0.937" stop-color="#7f1800"/><stop offset="0.952" stop-color="#c34b00"/><stop offset="0.968" stop-color="#e78100"/><stop offset="0.984" stop-color="#f59400"/><stop offset="1.000" stop-color="#f79500"/></linearGradient><linearGradient id="ga51"><stop offset="0.000" stop-color="#ffff00"/><stop offset="0.048" stop-color="#fffe00"/><stop offset="0.063" stop-color="#fff200"/><stop offset="0.111" stop-color="#ffa200"/><stop offset="0.159" stop-color="#da6d00"/><stop offset="0.190" stop-color="#c95100"/><stop offset="0.270" stop-color="#881d00"/><stop offset="0.333" stop-color="#5a0700"/><stop offset="0.381" stop-color="#380000"/><stop offset="0.444" stop-color="#0e0000"/><stop offset="0.476" stop-color="#020000"/><stop offset="0.857" stop-color="#000000"/><stop offset="0.873" stop-color="#030000"/><stop offset="0.889" stop-color="#0f0000"/><stop offset="0.905" stop-color="#290000"/><stop offset="0.921" stop-color="#520400"/><stop offset="0.937" stop-color="#891e00"/><stop offset="0.952" stop-color="#cd5800"/><stop offset="0.968" stop-color="#f49300"/><stop offset="0.984" stop-color="#ffa500"/><stop offset="1.000" stop-color="#ffa600"/></linearGradient><linearGradient id="ga52"><stop offset="0.000" stop-color="#ffff00"/><stop offset="0.048" stop-color="#fffe00"/><stop offset="0.063" stop-color="#fff200"/><stop offset="0.111" stop-color="#ffa300"/><stop offset="0.159" stop-color="#da6e00"/><stop offset="0.190" stop-color="#c95200"/><stop offset="0.270" stop-color="#8a1e00"/><stop offset="0.333" stop-color="#5c0700"/><stop offset="0.381" stop-color="#3a0000"/><stop offset="0.460" stop-color="#080000"/><stop offset="0.508" stop-color="#000000"/><stop offset="0.857" stop-color="#010000"/><stop offset="0.873" stop-color="#040000"/><stop offset="0.889" stop-color="#120000"/><stop offset="0.905" stop-color="#2d0000"/><stop offset="0.921" stop-color="#580600"/><stop offset="0.937" stop-color="#942600"/><stop offset="0.952" stop-color="#d56500"/><stop offset="0.968" stop-color="#ffa300"/><stop offset="0.984" stop-color="#ffb400"/><stop offset="1.000" stop-color="#ffb500"/></linearGradient><linearGradient id="ga53"><stop offset="0.000" stop-color="#ffff00"/><stop offset="0.048" stop-color="#fffe00"/><stop offset="0.063" stop-color="#fff300"/><stop offset="0.095" stop-color="#ffbc00"/><stop offset="0.111" stop-color="#ffa400"/><stop offset="0.159" stop-color="#db6e00"/><stop offset="0.206" stop-color="#be4700"/><stop offset="0.286" stop-color="#7f1800"/><stop offset="0.349" stop-color="#530400"/><stop offset="0.429" stop-color="#1d0000"/><stop offset="0.476" stop-color="#040000"/><stop offset="0.635" stop-color="#000000"/><stop offset="0.857" stop-color="#010000"/><stop offset="0.873" stop-color="#060000"/><stop offset="0.889" stop-color="#150000"/><stop offset="0.905" stop-color="#320000"/><stop offset="0.921" stop-color="#5e0800"/><stop offset="0.937" stop-color="#9e2d00"/><stop offset="0.952" stop-color="#e07600"/><stop offset="0.968" stop-color="#ffb200"/><stop offset="0.984" stop-color="#ffc200"/><stop offset="1.000" stop-color="#ffc400"/></linearGradient><linearGradient id="ga54"><stop offset="0.000" stop-color="#ffff00"/><stop offset="0.048" stop-color="#fffe00"/><stop offset="0.063" stop-color="#fff300"/><stop offset="0.111" stop-color="#ffa400"/><stop offset="0.159" stop-color="#dc6f00"/><stop offset="0.206" stop-color="#bf4800"/><stop offset="0.286" stop-color="#811800"/><stop offset="0.365" stop-color="#4a0100"/><stop offset="0.460" stop-color="#0c0000"/><stop offset="0.492" stop-color="#020000"/><stop offset="0.857" stop-color="#010000"/><stop offset="0.873" stop-color="#070000"/><stop offset="0.889" stop-color="#180000"/><stop offset="0.905" stop-color="#370000"/><stop offset="0.921" stop-color="#650a00"/><stop offset="0.937" stop-color="#a93500"/><stop offset="0.952" stop-color="#ea8500"/><stop offset="0.968" stop-color="#ffbf00"/><stop offset="0.984" stop-color="#ffcf00"/><stop offset="1.000" stop-color="#ffd100"/></linearGradient><linearGradient id="ga55"><stop offset="0.000" stop-color="#ffff00"/><stop offset="0.048" stop-color="#fffe00"/><stop offset="0.063" stop-color="#fff300"/><stop offset="0.111" stop-color="#ffa500"/><stop offset="0.175" stop-color="#d26100"/><stop offset="0.206" stop-color="#c04900"/><stop offset="0.286" stop-color="#831a00"/><stop offset="0.349" stop-color="#570600"/><stop offset="0.397" stop-color="#370000"/><stop offset="0.460" stop-color="#0f0000"/><stop offset="0.492" stop-color="#040000"/><stop offset="0.698" stop-color="#000000"/><stop offset="0.857" stop-color="#020000"/><stop offset="0.873" stop-color="#090000"/><stop offset="0.889" stop-color="#1c0000"/><stop offset="0.905" stop-color="#3c0000"/><stop offset="0.921" stop-color="#6b0d00"/><stop offset="0.937" stop-color="#b23d00"/><stop offset="0.952" stop-color="#f39100"/><stop offset="0.968" stop-color="#ffca00"/><stop offset="0.984" stop-color="#ffda00"/><stop offset="1.000" stop-color="#ffdb00"/></linearGradient><linearGradient id="ga56"><stop offset="0.000" stop-color="#ffff00"/><stop offset="0.048" stop-color="#fffe00"/><stop offset="0.063" stop-color="#fff300"/><stop offset="0.111" stop-color="#ffa600"/><stop offset="0.175" stop-color="#d36200"/><stop offset="0.222" stop-color="#b54000"/><stop offset="0.302" stop-color="#7a1500"/><stop offset="0.365" stop-color="#4f0300"/><stop offset="0.444" stop-color="#1a0000"/><stop offset="0.476" stop-color="#0a0000"/><stop offset="0.556" stop-color="#010000"/><stop offset="0.841" stop-color="#010000"/><stop offset="0.857" stop-color="#030000"/><stop offset="0.873" stop-color="#0c0000"/><stop offset="0.889" stop-color="#200000"/><stop offset="0.905" stop-color="#420000"/><stop offset="0.921" stop-color="#711000"/><stop offset="0.937" stop-color="#bb4500"/><stop offset="0.952" stop-color="#fc9c00"/><stop offset="0.968" stop-color="#ffd200"/><stop offset="0.984" stop-color="#ffe600"/><stop offset="1.000" stop-color="#ffe900"/></linearGradient><linearGradient id="ga57"><stop offset="0.000" stop-color="#ffff00"/><stop offset="0.048" stop-color="#fffe00"/><stop offset="0.063" stop-color="#fff300"/><stop offset="0.095" stop-color="#ffbe00"/><stop offset="0.111" stop-color="#ffa700"/><stop offset="0.143" stop-color="#e88300"/><stop offset="0.175" stop-color="#d36300"/><stop offset="0.206" stop-color="#c34c00"/><stop offset="0.286" stop-color="#881d00"/><stop offset="0.381" stop-color="#470000"/><stop offset="0.460" stop-color="#140000"/><stop offset="0.492" stop-color="#080000"/><stop offset="0.619" stop-color="#000000"/><stop offset="0.841" stop-color="#010000"/><stop offset="0.857" stop-color="#050000"/><stop offset="0.873" stop-color="#0f0000"/><stop offset="0.889" stop-color="#250000"/><stop offset="0.905" stop-color="#470000"/><stop offset="0.921" stop-color="#771300"/><stop offset="0.937" stop-color="#c24b00"/><stop offset="0.952" stop-color="#ffa400"/><stop offset="0.968" stop-color="#ffd800"/><stop offset="0.984" stop-color="#fff100"/><stop offset="1.000" stop-color="#fff300"/></linearGradient><linearGradient id="ga58"><stop offset="0.000" stop-color="#ffff00"/><stop offset="0.048" stop-color="#fffe00"/><stop offset="0.063" stop-color="#fff300"/><stop offset="0.095" stop-color="#ffbf00"/><stop offset="0.111" stop-color="#ffa700"/><stop offset="0.175" stop-color="#d46400"/><stop offset="0.206" stop-color="#c54d00"/><stop offset="0.302" stop-color="#801800"/><stop offset="0.381" stop-color="#4a0100"/><stop offset="0.460" stop-color="#170000"/><stop offset="0.492" stop-color="#0b0000"/><stop offset="0.603" stop-color="#000000"/><stop offset="0.841" stop-color="#020000"/><stop offset="0.857" stop-color="#070000"/><stop offset="0.873" stop-color="#130000"/><stop offset="0.889" stop-color="#290000"/><stop offset="0.905" stop-color="#4c0200"/><stop offset="0.921" stop-color="#7c1600"/><stop offset="0.937" stop-color="#c95100"/><stop offset="0.952" stop-color="#ffaa00"/><stop offset="0.968" stop-color="#ffdc00"/><stop offset="0.984" stop-color="#fff700"/><stop offset="1.000" stop-color="#fffa00"/></linearGradient><linearGradient id="ga59"><stop offset="0.000" stop-color="#ffff00"/><stop offset="0.048" stop-color="#fffe00"/><stop offset="0.063" stop-color="#fff300"/><stop offset="0.095" stop-color="#ffbf00"/><stop offset="0.111" stop-color="#ffa800"/><stop offset="0.159" stop-color="#e07600"/><stop offset="0.190" stop-color="#ce5a00"/><stop offset="0.254" stop-color="#a43100"/><stop offset="0.317" stop-color="#781400"/><stop offset="0.381" stop-color="#4d0200"/><stop offset="0.460" stop-color="#1a0000"/><stop offset="0.508" stop-color="#0b0000"/><stop offset="0.603" stop-color="#000000"/><stop offset="0.841" stop-color="#020000"/><stop offset="0.857" stop-color="#090000"/><stop offset="0.873" stop-color="#170000"/><stop offset="0.889" stop-color="#2f0000"/><stop offset="0.905" stop-color="#510400"/><stop offset="0.921" stop-color="#821900"/><stop offset="0.937" stop-color="#cc5700"/><stop offset="0.952" stop-color="#ffaf00"/><stop offset="0.968" stop-color="#ffe000"/><stop offset="0.984" stop-color="#fffb00"/><stop offset="1.000" stop-color="#fffd00"/></linearGradient><linearGradient id="ga60"><stop offset="0.000" stop-color="#ffff00"/><stop offset="0.048" stop-color="#fffe00"/><stop offset="0.063" stop-color="#fff300"/><stop offset="0.079" stop-color="#ffd700"/><stop offset="0.111" stop-color="#ffa900"/><stop offset="0.159" stop-color="#e17700"/><stop offset="0.206" stop-color="#c85000"/><stop offset="0.270" stop-color="#9c2b00"/><stop offset="0.349" stop-color="#660b00"/><stop offset="0.397" stop-color="#460000"/><stop offset="0.460" stop-color="#1d0000"/><stop offset="0.524" stop-color="#0b0000"/><stop offset="0.587" stop-color="#010000"/><stop offset="0.825" stop-color="#010000"/><stop offset="0.841" stop-color="#030000"/><stop offset="0.857" stop-color="#0b0000"/><stop offset="0.873" stop-color="#1b0000"/><stop offset="0.889" stop-color="#340000"/><stop offset="0.905" stop-color="#570600"/><stop offset="0.921" stop-color="#881e00"/><stop offset="0.937" stop-color="#d05d00"/><stop offset="0.952" stop-color="#ffb300"/><stop offset="0.968" stop-color="#ffe400"/><stop offset="0.984" stop-color="#fffc00"/><stop offset="1.000" stop-color="#fffe00"/></linearGradient><linearGradient id="ga61"><stop offset="0.000" stop-color="#ffff00"/><stop offset="0.048" stop-color="#fffe00"/><stop offset="0.063" stop-color="#fff300"/><stop offset="0.079" stop-color="#ffd700"/><stop offset="0.111" stop-color="#ffaa00"/><stop offset="0.143" stop-color="#ec8800"/><stop offset="0.190" stop-color="#d05d00"/><stop offset="0.238" stop-color="#b43f00"/><stop offset="0.317" stop-color="#7e1700"/><stop offset="0.397" stop-color="#490100"/><stop offset="0.460" stop-color="#220000"/><stop offset="0.540" stop-color="#0a0000"/><stop offset="0.603" stop-color="#020000"/><stop offset="0.825" stop-color="#020000"/><stop offset="0.841" stop-color="#050000"/><stop offset="0.857" stop-color="#0e0000"/><stop offset="0.873" stop-color="#200000"/><stop offset="0.889" stop-color="#3a0000"/><stop offset="0.905" stop-color="#5c0700"/><stop offset="0.921" stop-color="#8f2200"/><stop offset="0.937" stop-color="#d36200"/><stop offset="0.952" stop-color="#ffb700"/><stop offset="0.968" stop-color="#ffe700"/><stop offset="0.984" stop-color="#fffd00"/><stop offset="1.000" stop-color="#ffff00"/></linearGradient><linearGradient id="ga62"><stop offset="0.000" stop-color="#ffff00"/><stop offset="0.048" stop-color="#fffe00"/><stop offset="0.063" stop-color="#fff200"/><stop offset="0.095" stop-color="#ffc000"/><stop offset="0.111" stop-color="#ffaa00"/><stop offset="0.127" stop-color="#f99800"/><stop offset="0.190" stop-color="#d15f00"/><stop offset="0.238" stop-color="#b64100"/><stop offset="0.317" stop-color="#821900"/><stop offset="0.397" stop-color="#4d0200"/><stop offset="0.460" stop-color="#260000"/><stop offset="0.556" stop-color="#090000"/><stop offset="0.635" stop-color="#020000"/><stop offset="0.825" stop-color="#030000"/><stop offset="0.841" stop-color="#070000"/><stop offset="0.857" stop-color="#120000"/><stop offset="0.873" stop-color="#250000"/><stop offset="0.889" stop-color="#3f0000"/><stop offset="0.905" stop-color="#620900"/><stop offset="0.921" stop-color="#952700"/><stop offset="0.937" stop-color="#d76800"/><stop offset="0.952" stop-color="#ffba00"/><stop offset="0.968" stop-color="#ffe900"/><stop offset="0.984" stop-color="#fffd00"/><stop offset="1.000" stop-color="#ffff00"/></linearGradient><linearGradient id="ga63"><stop offset="0.000" stop-color="#ffff00"/><stop offset="0.048" stop-color="#fffe00"/><stop offset="0.063" stop-color="#fff200"/><stop offset="0.095" stop-color="#ffc000"/><stop offset="0.127" stop-color="#fa9900"/><stop offset="0.190" stop-color="#d26000"/><stop offset="0.238" stop-color="#b84300"/><stop offset="0.317" stop-color="#851b00"/><stop offset="0.397" stop-color="#520400"/><stop offset="0.476" stop-color="#250000"/><stop offset="0.571" stop-color="#080000"/><stop offset="0.714" stop-color="#020000"/><stop offset="0.825" stop-color="#040000"/><stop offset="0.841" stop-color="#0a0000"/><stop offset="0.857" stop-color="#160000"/><stop offset="0.873" stop-color="#2a0000"/><stop offset="0.889" stop-color="#450000"/><stop offset="0.905" stop-color="#670c00"/><stop offset="0.921" stop-color="#9c2b00"/><stop offset="0.937" stop-color="#db6f00"/><stop offset="0.952" stop-color="#ffbe00"/><stop offset="0.968" stop-color="#ffeb00"/><stop offset="0.984" stop-color="#fffe00"/><stop offset="1.000" stop-color="#ffff00"/></linearGradient><linearGradient id="ga64"><stop offset="0.000" stop-color="#ffff00"/><stop offset="0.048" stop-color="#fffd00"/><stop offset="0.063" stop-color="#fff100"/><stop offset="0.095" stop-color="#ffc100"/><stop offset="0.127" stop-color="#fa9a00"/><stop offset="0.190" stop-color="#d36200"/><stop offset="0.238" stop-color="#bb4500"/><stop offset="0.333" stop-color="#7f1700"/><stop offset="0.429" stop-color="#450000"/><stop offset="0.476" stop-color="#2b0000"/><stop offset="0.571" stop-color="#0c0000"/><stop offset="0.683" stop-color="#030000"/><stop offset="0.825" stop-color="#060000"/><stop offset="0.841" stop-color="#0d0000"/><stop offset="0.857" stop-color="#1a0000"/><stop offset="0.873" stop-color="#2f0000"/><stop offset="0.889" stop-color="#4a0100"/><stop offset="0.905" stop-color="#6d0e00"/><stop offset="0.921" stop-color="#a23000"/><stop offset="0.937" stop-color="#df7500"/><stop offset="0.952" stop-color="#ffc100"/><stop offset="0.968" stop-color="#ffed00"/><stop offset="0.984" stop-color="#fffe00"/><stop offset="1.000" stop-color="#ffff00"/></linearGradient><linearGradient id="ga65"><stop offset="0.000" stop-color="#ffff00"/><stop offset="0.048" stop-color="#fffd00"/><stop offset="0.063" stop-color="#fff000"/><stop offset="0.079" stop-color="#ffd600"/><stop offset="0.111" stop-color="#ffac00"/><stop offset="0.127" stop-color="#fb9b00"/><stop offset="0.190" stop-color="#d46300"/><stop offset="0.238" stop-color="#bd4700"/><stop offset="0.333" stop-color="#831a00"/><stop offset="0.413" stop-color="#540500"/><stop offset="0.476" stop-color="#310000"/><stop offset="0.571" stop-color="#100000"/><stop offset="0.667" stop-color="#050000"/><stop offset="0.810" stop-color="#050000"/><stop offset="0.841" stop-color="#110000"/><stop offset="0.857" stop-color="#1e0000"/><stop offset="0.873" stop-color="#330000"/><stop offset="0.889" stop-color="#4f0300"/><stop offset="0.905" stop-color="#711100"/><stop offset="0.921" stop-color="#a83400"/><stop offset="0.937" stop-color="#e37b00"/><stop offset="0.952" stop-color="#ffc400"/><stop offset="0.968" stop-color="#ffef00"/><stop offset="0.984" stop-color="#fffe00"/><stop offset="1.000" stop-color="#ffff00"/></linearGradient><linearGradient id="ga66"><stop offset="0.000" stop-color="#ffff00"/><stop offset="0.048" stop-color="#fffd00"/><stop offset="0.063" stop-color="#ffef00"/><stop offset="0.095" stop-color="#ffc100"/><stop offset="0.127" stop-color="#fc9c00"/><stop offset="0.190" stop-color="#d56500"/><stop offset="0.222" stop-color="#c95100"/><stop offset="0.333" stop-color="#871d00"/><stop offset="0.413" stop-color="#590600"/><stop offset="0.476" stop-color="#370000"/><stop offset="0.571" stop-color="#140000"/><stop offset="0.683" stop-color="#060000"/><stop offset="0.810" stop-color="#070000"/><stop offset="0.841" stop-color="#130000"/><stop offset="0.857" stop-color="#220000"/><stop offset="0.873" stop-color="#370000"/><stop offset="0.889" stop-color="#520400"/><stop offset="0.905" stop-color="#751300"/><stop offset="0.921" stop-color="#ac3800"/><stop offset="0.937" stop-color="#e68000"/><stop offset="0.952" stop-color="#ffc600"/><stop offset="0.968" stop-color="#fff000"/><stop offset="0.984" stop-color="#fffe00"/><stop offset="1.000" stop-color="#ffff00"/></linearGradient><linearGradient id="ga67"><stop offset="0.000" stop-color="#ffff00"/><stop offset="0.048" stop-color="#fffc00"/><stop offset="0.063" stop-color="#ffee00"/><stop offset="0.079" stop-color="#ffd500"/><stop offset="0.111" stop-color="#ffad00"/><stop offset="0.127" stop-color="#fc9d00"/><stop offset="0.190" stop-color="#d66700"/><stop offset="0.238" stop-color="#c24b00"/><stop offset="0.317" stop-color="#952600"/><stop offset="0.381" stop-color="#701000"/><stop offset="0.460" stop-color="#450000"/><stop offset="0.524" stop-color="#290000"/><stop offset="0.603" stop-color="#120000"/><stop offset="0.698" stop-color="#080000"/><stop offset="0.810" stop-color="#090000"/><stop offset="0.841" stop-color="#160000"/><stop offset="0.857" stop-color="#240000"/><stop offset="0.889" stop-color="#550500"/><stop offset="0.905" stop-color="#791400"/><stop offset="0.921" stop-color="#b03c00"/><stop offset="0.937" stop-color="#e98400"/><stop offset="0.952" stop-color="#ffc900"/><stop offset="0.968" stop-color="#fff200"/><stop offset="0.984" stop-color="#fffe00"/><stop offset="1.000" stop-color="#ffff00"/></linearGradient><linearGradient id="ga68"><stop offset="0.000" stop-color="#ffff00"/><stop offset="0.048" stop-color="#fffc00"/><stop offset="0.063" stop-color="#ffec00"/><stop offset="0.111" stop-color="#ffae00"/><stop offset="0.127" stop-color="#fd9d00"/><stop offset="0.175" stop-color="#e07600"/><stop offset="0.222" stop-color="#cb5500"/><stop offset="0.333" stop-color="#8f2200"/><stop offset="0.413" stop-color="#630a00"/><stop offset="0.476" stop-color="#410000"/><stop offset="0.587" stop-color="#190000"/><stop offset="0.698" stop-color="#0a0000"/><stop offset="0.810" stop-color="#0b0000"/><stop offset="0.841" stop-color="#180000"/><stop offset="0.857" stop-color="#260000"/><stop offset="0.873" stop-color="#3c0000"/><stop offset="0.889" stop-color="#570600"/><stop offset="0.905" stop-color="#7b1600"/><stop offset="0.921" stop-color="#b43f00"/><stop offset="0.937" stop-color="#ec8800"/><stop offset="0.952" stop-color="#ffcb00"/><stop offset="0.968" stop-color="#fff300"/><stop offset="0.984" stop-color="#fffe00"/><stop offset="1.000" stop-color="#ffff00"/></linearGradient><linearGradient id="ga69"><stop offset="0.000" stop-color="#ffff00"/><stop offset="0.032" stop-color="#ffff00"/><stop offset="0.048" stop-color="#fffb00"/><stop offset="0.063" stop-color="#ffeb00"/><stop offset="0.095" stop-color="#ffc000"/><stop offset="0.127" stop-color="#fd9e00"/><stop offset="0.190" stop-color="#d96c00"/><stop offset="0.238" stop-color="#c64f00"/><stop offset="0.365" stop-color="#811800"/><stop offset="0.444" stop-color="#560500"/><stop offset="0.508" stop-color="#390000"/><stop offset="0.603" stop-color="#1a0000"/><stop offset="0.698" stop-color="#0d0000"/><stop offset="0.810" stop-color="#0f0000"/><stop offset="0.841" stop-color="#1b0000"/><stop offset="0.857" stop-color="#290000"/><stop offset="0.873" stop-color="#3e0000"/><stop offset="0.889" stop-color="#5a0700"/><stop offset="0.905" stop-color="#7e1700"/><stop offset="0.921" stop-color="#b74200"/><stop offset="0.937" stop-color="#ef8c00"/><stop offset="0.952" stop-color="#ffcd00"/><stop offset="0.968" stop-color="#fff500"/><stop offset="0.984" stop-color="#fffe00"/><stop offset="1.000" stop-color="#ffff00"/></linearGradient><linearGradient id="ga70"><stop offset="0.000" stop-color="#ffff00"/><stop offset="0.032" stop-color="#ffff00"/><stop offset="0.048" stop-color="#fffb00"/><stop offset="0.111" stop-color="#ffae00"/><stop offset="0.127" stop-color="#fd9e00"/><stop offset="0.206" stop-color="#d36200"/><stop offset="0.254" stop-color="#c04900"/><stop offset="0.365" stop-color="#841a00"/><stop offset="0.460" stop-color="#510400"/><stop offset="0.540" stop-color="#320000"/><stop offset="0.619" stop-color="#1c0000"/><stop offset="0.698" stop-color="#100000"/><stop offset="0.810" stop-color="#130000"/><stop offset="0.841" stop-color="#1f0000"/><stop offset="0.857" stop-color="#2d0000"/><stop offset="0.873" stop-color="#420000"/><stop offset="0.889" stop-color="#5d0800"/><stop offset="0.905" stop-color="#821900"/><stop offset="0.921" stop-color="#bb4500"/><stop offset="0.937" stop-color="#f29000"/><stop offset="0.952" stop-color="#ffd000"/><stop offset="0.968" stop-color="#fff600"/><stop offset="0.984" stop-color="#ffff00"/><stop offset="1.000" stop-color="#ffff00"/></linearGradient><linearGradient id="ga71"><stop offset="0.000" stop-color="#ffff00"/><stop offset="0.032" stop-color="#ffff00"/><stop offset="0.048" stop-color="#fffa00"/><stop offset="0.111" stop-color="#ffae00"/><stop offset="0.127" stop-color="#fe9e00"/><stop offset="0.206" stop-color="#d46400"/><stop offset="0.254" stop-color="#c34b00"/><stop offset="0.381" stop-color="#7e1700"/><stop offset="0.476" stop-color="#4e0300"/><stop offset="0.587" stop-color="#280000"/><stop offset="0.698" stop-color="#140000"/><stop offset="0.794" stop-color="#160000"/><stop offset="0.841" stop-color="#250000"/><stop offset="0.857" stop-color="#320000"/><stop offset="0.873" stop-color="#470000"/><stop offset="0.889" stop-color="#620900"/><stop offset="0.905" stop-color="#881d00"/><stop offset="0.921" stop-color="#c14a00"/><stop offset="0.937" stop-color="#f69500"/><stop offset="0.952" stop-color="#ffd200"/><stop offset="0.968" stop-color="#fff700"/><stop offset="0.984" stop-color="#ffff00"/><stop offset="1.000" stop-color="#ffff00"/></linearGradient><linearGradient id="ga72"><stop offset="0.000" stop-color="#ffff00"/><stop offset="0.032" stop-color="#ffff00"/><stop offset="0.048" stop-color="#fffa00"/><stop offset="0.111" stop-color="#ffad00"/><stop offset="0.127" stop-color="#fe9e00"/><stop offset="0.175" stop-color="#e47c00"/><stop offset="0.222" stop-color="#d05d00"/><stop offset="0.286" stop-color="#b53f00"/><stop offset="0.397" stop-color="#791500"/><stop offset="0.492" stop-color="#4c0200"/><stop offset="0.603" stop-color="#290000"/><stop offset="0.698" stop-color="#190000"/><stop offset="0.794" stop-color="#1c0000"/><stop offset="0.841" stop-color="#2d0000"/><stop offset="0.857" stop-color="#3a0000"/><stop offset="0.873" stop-color="#4e0300"/><stop offset="0.889" stop-color="#680c00"/><stop offset="0.905" stop-color="#8f2200"/><stop offset="0.921" stop-color="#c85000"/><stop offset="0.937" stop-color="#fb9b00"/><stop offset="0.952" stop-color="#ffd500"/><stop offset="0.968" stop-color="#fff900"/><stop offset="0.984" stop-color="#ffff00"/><stop offset="1.000" stop-color="#ffff00"/></linearGradient><linearGradient id="ga73"><stop offset="0.000" stop-color="#ffff00"/><stop offset="0.032" stop-color="#fffe00"/><stop offset="0.048" stop-color="#fff900"/><stop offset="0.111" stop-color="#ffad00"/><stop offset="0.127" stop-color="#fe9e00"/><stop offset="0.206" stop-color="#d76900"/><stop offset="0.270" stop-color="#c04900"/><stop offset="0.381" stop-color="#841a00"/><stop offset="0.476" stop-color="#560500"/><stop offset="0.556" stop-color="#3b0000"/><stop offset="0.635" stop-color="#280000"/><stop offset="0.714" stop-color="#1e0000"/><stop offset="0.794" stop-color="#230000"/><stop offset="0.825" stop-color="#2e0000"/><stop offset="0.857" stop-color="#440000"/><stop offset="0.873" stop-color="#560500"/><stop offset="0.889" stop-color="#701000"/><stop offset="0.905" stop-color="#982900"/><stop offset="0.921" stop-color="#cc5700"/><stop offset="0.937" stop-color="#ffa200"/><stop offset="0.952" stop-color="#ffd800"/><stop offset="0.968" stop-color="#fffa00"/><stop offset="1.000" stop-color="#ffff00"/></linearGradient><linearGradient id="ga74"><stop offset="0.000" stop-color="#ffff00"/><stop offset="0.032" stop-color="#fffe00"/><stop offset="0.048" stop-color="#fff800"/><stop offset="0.111" stop-color="#ffac00"/><stop offset="0.127" stop-color="#fd9e00"/><stop offset="0.206" stop-color="#d86a00"/><stop offset="0.270" stop-color="#c24b00"/><stop offset="0.397" stop-color="#7e1700"/><stop offset="0.492" stop-color="#540500"/><stop offset="0.571" stop-color="#3b0000"/><stop offset="0.683" stop-color="#260000"/><stop offset="0.778" stop-color="#270000"/><stop offset="0.810" stop-color="#2f0000"/><stop offset="0.857" stop-color="#4d0200"/><stop offset="0.873" stop-color="#5f0800"/><stop offset="0.889" stop-color="#791400"/><stop offset="0.905" stop-color="#a23000"/><stop offset="0.921" stop-color="#d16000"/><stop offset="0.937" stop-color="#ffa800"/><stop offset="0.952" stop-color="#ffdb00"/><stop offset="0.968" stop-color="#fffb00"/><stop offset="1.000" stop-color="#ffff00"/></linearGradient><linearGradient id="ga75"><stop offset="0.000" stop-color="#ffff00"/><stop offset="0.032" stop-color="#fffe00"/><stop offset="0.048" stop-color="#fff700"/><stop offset="0.095" stop-color="#ffbc00"/><stop offset="0.127" stop-color="#fd9d00"/><stop offset="0.222" stop-color="#d36200"/><stop offset="0.286" stop-color="#bc4600"/><stop offset="0.397" stop-color="#801800"/><stop offset="0.492" stop-color="#570600"/><stop offset="0.587" stop-color="#3b0000"/><stop offset="0.698" stop-color="#2b0000"/><stop offset="0.778" stop-color="#2f0000"/><stop offset="0.810" stop-color="#380000"/><stop offset="0.857" stop-color="#560500"/><stop offset="0.873" stop-color="#680c00"/><stop offset="0.889" stop-color="#831900"/><stop offset="0.905" stop-color="#ac3800"/><stop offset="0.921" stop-color="#d86a00"/><stop offset="0.937" stop-color="#ffaf00"/><stop offset="0.952" stop-color="#ffdd00"/><stop offset="0.968" stop-color="#fffc00"/><stop offset="1.000" stop-color="#ffff00"/></linearGradient><linearGradient id="ga76"><stop offset="0.000" stop-color="#ffff00"/><stop offset="0.032" stop-color="#fffd00"/><stop offset="0.048" stop-color="#fff400"/><stop offset="0.079" stop-color="#ffcd00"/><stop offset="0.111" stop-color="#ffaa00"/><stop offset="0.143" stop-color="#f49200"/><stop offset="0.238" stop-color="#cf5c00"/><stop offset="0.286" stop-color="#be4700"/><stop offset="0.397" stop-color="#821900"/><stop offset="0.492" stop-color="#5a0700"/><stop offset="0.603" stop-color="#3d0000"/><stop offset="0.698" stop-color="#320000"/><stop offset="0.778" stop-color="#370000"/><stop offset="0.810" stop-color="#420000"/><stop offset="0.857" stop-color="#610900"/><stop offset="0.873" stop-color="#731100"/><stop offset="0.889" stop-color="#8f2200"/><stop offset="0.905" stop-color="#b84200"/><stop offset="0.921" stop-color="#e07600"/><stop offset="0.937" stop-color="#ffb600"/><stop offset="0.952" stop-color="#ffe100"/><stop offset="0.968" stop-color="#fffc00"/><stop offset="1.000" stop-color="#ffff00"/></linearGradient><linearGradient id="ga77"><stop offset="0.000" stop-color="#ffff00"/><stop offset="0.032" stop-color="#fffb00"/><stop offset="0.048" stop-color="#fff100"/><stop offset="0.079" stop-color="#ffca00"/><stop offset="0.111" stop-color="#ffa800"/><stop offset="0.159" stop-color="#ec8800"/><stop offset="0.238" stop-color="#d05d00"/><stop offset="0.286" stop-color="#bf4900"/><stop offset="0.397" stop-color="#851b00"/><stop offset="0.492" stop-color="#5e0800"/><stop offset="0.587" stop-color="#460000"/><stop offset="0.698" stop-color="#3a0000"/><stop offset="0.794" stop-color="#450000"/><stop offset="0.841" stop-color="#5f0800"/><stop offset="0.857" stop-color="#6c0e00"/><stop offset="0.873" stop-color="#7e1700"/><stop offset="0.889" stop-color="#9c2b00"/><stop offset="0.905" stop-color="#c34c00"/><stop offset="0.921" stop-color="#e88300"/><stop offset="0.937" stop-color="#ffbc00"/><stop offset="0.952" stop-color="#ffe600"/><stop offset="0.968" stop-color="#fffd00"/><stop offset="1.000" stop-color="#ffff00"/></linearGradient><linearGradient id="ga78"><stop offset="0.000" stop-color="#ffff00"/><stop offset="0.032" stop-color="#fff900"/><stop offset="0.048" stop-color="#ffec00"/><stop offset="0.095" stop-color="#ffb500"/><stop offset="0.127" stop-color="#fa9a00"/><stop offset="0.222" stop-color="#d46400"/><stop offset="0.286" stop-color="#c14a00"/><stop offset="0.413" stop-color="#801800"/><stop offset="0.508" stop-color="#5d0800"/><stop offset="0.587" stop-color="#4c0200"/><stop offset="0.698" stop-color="#430000"/><stop offset="0.794" stop-color="#500300"/><stop offset="0.841" stop-color="#6b0d00"/><stop offset="0.857" stop-color="#771400"/><stop offset="0.873" stop-color="#8c2000"/><stop offset="0.889" stop-color="#a93600"/><stop offset="0.905" stop-color="#cc5700"/><stop offset="0.921" stop-color="#f18f00"/><stop offset="0.937" stop-color="#ffc300"/><stop offset="0.952" stop-color="#ffea00"/><stop offset="0.968" stop-color="#fffd00"/><stop offset="1.000" stop-color="#ffff00"/></linearGradient><linearGradient id="ga79"><stop offset="0.000" stop-color="#ffff00"/><stop offset="0.032" stop-color="#fff600"/><stop offset="0.111" stop-color="#ffa400"/><stop offset="0.159" stop-color="#ea8600"/><stop offset="0.238" stop-color="#d05e00"/><stop offset="0.286" stop-color="#c14a00"/><stop offset="0.413" stop-color="#841a00"/><stop offset="0.508" stop-color="#630a00"/><stop offset="0.587" stop-color="#520400"/><stop offset="0.683" stop-color="#4b0200"/><stop offset="0.778" stop-color="#570600"/><stop offset="0.825" stop-color="#6d0f00"/><stop offset="0.857" stop-color="#851b00"/><stop offset="0.873" stop-color="#9b2b00"/><stop offset="0.889" stop-color="#b84200"/><stop offset="0.905" stop-color="#d46400"/><stop offset="0.921" stop-color="#fb9b00"/><stop offset="0.937" stop-color="#ffc900"/><stop offset="0.952" stop-color="#ffee00"/><stop offset="0.968" stop-color="#fffe00"/><stop offset="1.000" stop-color="#ffff00"/></linearGradient><linearGradient id="ga80"><stop offset="0.000" stop-color="#ffff00"/><stop offset="0.016" stop-color="#fffc00"/><stop offset="0.032" stop-color="#fff300"/><stop offset="0.079" stop-color="#ffbe00"/><stop offset="0.111" stop-color="#ffa100"/><stop offset="0.159" stop-color="#e98400"/><stop offset="0.254" stop-color="#cc5700"/><stop offset="0.286" stop-color="#c24b00"/><stop offset="0.413" stop-color="#881d00"/><stop offset="0.492" stop-color="#6d0e00"/><stop offset="0.571" stop-color="#5b0700"/><stop offset="0.683" stop-color="#540500"/><stop offset="0.762" stop-color="#600900"/><stop offset="0.810" stop-color="#711100"/><stop offset="0.841" stop-color="#861c00"/><stop offset="0.857" stop-color="#952700"/><stop offset="0.873" stop-color="#ab3700"/><stop offset="0.889" stop-color="#c74f00"/><stop offset="0.905" stop-color="#df7400"/><stop offset="0.921" stop-color="#ffa600"/><stop offset="0.937" stop-color="#ffd000"/><stop offset="0.952" stop-color="#fff100"/><stop offset="0.968" stop-color="#fffe00"/><stop offset="1.000" stop-color="#ffff00"/></linearGradient><linearGradient id="ga81"><stop offset="0.000" stop-color="#ffff00"/><stop offset="0.016" stop-color="#fffb00"/><stop offset="0.032" stop-color="#ffef00"/><stop offset="0.079" stop-color="#ffba00"/><stop offset="0.111" stop-color="#fe9e00"/><stop offset="0.175" stop-color="#e27a00"/><stop offset="0.238" stop-color="#d05d00"/><stop offset="0.286" stop-color="#c34c00"/><stop offset="0.429" stop-color="#861c00"/><stop offset="0.540" stop-color="#680c00"/><stop offset="0.635" stop-color="#5d0800"/><stop offset="0.698" stop-color="#5e0800"/><stop offset="0.778" stop-color="#711000"/><stop offset="0.810" stop-color="#7f1800"/><stop offset="0.841" stop-color="#962700"/><stop offset="0.857" stop-color="#a63200"/><stop offset="0.889" stop-color="#d05d00"/><stop offset="0.921" stop-color="#ffb100"/><stop offset="0.952" stop-color="#fff400"/><stop offset="0.968" stop-color="#fffe00"/><stop offset="1.000" stop-color="#ffff00"/></linearGradient><linearGradient id="ga82"><stop offset="0.000" stop-color="#ffff00"/><stop offset="0.016" stop-color="#fffa00"/><stop offset="0.095" stop-color="#ffa700"/><stop offset="0.159" stop-color="#e78100"/><stop offset="0.238" stop-color="#d05e00"/><stop offset="0.302" stop-color="#be4800"/><stop offset="0.444" stop-color="#871c00"/><stop offset="0.556" stop-color="#6c0e00"/><stop offset="0.651" stop-color="#650a00"/><stop offset="0.714" stop-color="#6a0d00"/><stop offset="0.794" stop-color="#851b00"/><stop offset="0.841" stop-color="#a63300"/><stop offset="0.857" stop-color="#b64000"/><stop offset="0.873" stop-color="#ca5300"/><stop offset="0.889" stop-color="#da6e00"/><stop offset="0.905" stop-color="#f59400"/><stop offset="0.921" stop-color="#ffbb00"/><stop offset="0.952" stop-color="#fff700"/><stop offset="0.968" stop-color="#fffe00"/><stop offset="1.000" stop-color="#ffff00"/></linearGradient><linearGradient id="ga83"><stop offset="0.000" stop-color="#fffe00"/><stop offset="0.016" stop-color="#fff900"/><stop offset="0.079" stop-color="#ffb200"/><stop offset="0.095" stop-color="#ffa400"/><stop offset="0.175" stop-color="#e17800"/><stop offset="0.254" stop-color="#cd5900"/><stop offset="0.317" stop-color="#bb4500"/><stop offset="0.444" stop-color="#8d2100"/><stop offset="0.540" stop-color="#761300"/><stop offset="0.635" stop-color="#6d0e00"/><stop offset="0.698" stop-color="#711000"/><stop offset="0.762" stop-color="#851b00"/><stop offset="0.810" stop-color="#9e2d00"/><stop offset="0.841" stop-color="#b54000"/><stop offset="0.857" stop-color="#c54e00"/><stop offset="0.873" stop-color="#d26100"/><stop offset="0.905" stop-color="#ffa200"/><stop offset="0.921" stop-color="#ffc400"/><stop offset="0.952" stop-color="#fffa00"/><stop offset="0.968" stop-color="#ffff00"/><stop offset="1.000" stop-color="#ffff00"/></linearGradient><linearGradient id="ga84"><stop offset="0.000" stop-color="#fffe00"/><stop offset="0.016" stop-color="#fff700"/><stop offset="0.079" stop-color="#ffae00"/><stop offset="0.095" stop-color="#ffa100"/><stop offset="0.175" stop-color="#e17800"/><stop offset="0.270" stop-color="#cb5500"/><stop offset="0.444" stop-color="#942600"/><stop offset="0.556" stop-color="#7a1500"/><stop offset="0.651" stop-color="#761300"/><stop offset="0.698" stop-color="#7b1500"/><stop offset="0.746" stop-color="#8b1f00"/><stop offset="0.810" stop-color="#ac3800"/><stop offset="0.841" stop-color="#c44c00"/><stop offset="0.857" stop-color="#ce5b00"/><stop offset="0.873" stop-color="#dd7100"/><stop offset="0.889" stop-color="#f28f00"/><stop offset="0.905" stop-color="#ffae00"/><stop offset="0.937" stop-color="#ffe900"/><stop offset="0.952" stop-color="#fffb00"/><stop offset="0.984" stop-color="#ffff00"/><stop offset="1.000" stop-color="#ffff00"/></linearGradient><linearGradient id="ga85"><stop offset="0.000" stop-color="#fffd00"/><stop offset="0.016" stop-color="#fff500"/><stop offset="0.032" stop-color="#ffde00"/><stop offset="0.079" stop-color="#ffab00"/><stop offset="0.095" stop-color="#fe9f00"/><stop offset="0.175" stop-color="#e17800"/><stop offset="0.286" stop-color="#ca5300"/><stop offset="0.444" stop-color="#9b2b00"/><stop offset="0.556" stop-color="#811800"/><stop offset="0.635" stop-color="#7d1600"/><stop offset="0.698" stop-color="#851b00"/><stop offset="0.778" stop-color="#a63300"/><stop offset="0.825" stop-color="#c44c00"/><stop offset="0.857" stop-color="#d76800"/><stop offset="0.873" stop-color="#e78100"/><stop offset="0.889" stop-color="#fd9e00"/><stop offset="0.937" stop-color="#ffef00"/><stop offset="0.952" stop-color="#fffd00"/><stop offset="1.000" stop-color="#ffff00"/></linearGradient><linearGradient id="ga86"><stop offset="0.000" stop-color="#fffb00"/><stop offset="0.016" stop-color="#fff200"/><stop offset="0.032" stop-color="#ffdb00"/><stop offset="0.079" stop-color="#ffa800"/><stop offset="0.095" stop-color="#fd9d00"/><stop offset="0.175" stop-color="#e27900"/><stop offset="0.302" stop-color="#c95200"/><stop offset="0.460" stop-color="#9e2d00"/><stop offset="0.571" stop-color="#861c00"/><stop offset="0.635" stop-color="#851b00"/><stop offset="0.698" stop-color="#902300"/><stop offset="0.778" stop-color="#b13c00"/><stop offset="0.825" stop-color="#cc5700"/><stop offset="0.841" stop-color="#d46300"/><stop offset="0.857" stop-color="#e07700"/><stop offset="0.889" stop-color="#ffaa00"/><stop offset="0.937" stop-color="#fff400"/><stop offset="0.952" stop-color="#fffe00"/><stop offset="1.000" stop-color="#ffff00"/></linearGradient><linearGradient id="ga87"><stop offset="0.000" stop-color="#fff800"/><stop offset="0.016" stop-color="#ffed00"/><stop offset="0.063" stop-color="#ffb400"/><stop offset="0.095" stop-color="#fb9b00"/><stop offset="0.190" stop-color="#df7500"/><stop offset="0.349" stop-color="#c14a00"/><stop offset="0.524" stop-color="#962700"/><stop offset="0.587" stop-color="#8d2100"/><stop offset="0.635" stop-color="#8e2100"/><stop offset="0.714" stop-color="#a02e00"/><stop offset="0.794" stop-color="#c44d00"/><stop offset="0.825" stop-color="#d26100"/><stop offset="0.857" stop-color="#e98400"/><stop offset="0.873" stop-color="#fb9b00"/><stop offset="0.905" stop-color="#ffcd00"/><stop offset="0.937" stop-color="#fff800"/><stop offset="0.968" stop-color="#ffff00"/><stop offset="1.000" stop-color="#ffff00"/></linearGradient><linearGradient id="ga88"><stop offset="0.000" stop-color="#fff200"/><stop offset="0.016" stop-color="#ffe600"/><stop offset="0.063" stop-color="#ffb100"/><stop offset="0.079" stop-color="#ffa300"/><stop offset="0.159" stop-color="#e78100"/><stop offset="0.302" stop-color="#cd5900"/><stop offset="0.381" stop-color="#be4700"/><stop offset="0.556" stop-color="#972800"/><stop offset="0.619" stop-color="#942600"/><stop offset="0.714" stop-color="#aa3600"/><stop offset="0.794" stop-color="#cb5600"/><stop offset="0.825" stop-color="#d96c00"/><stop offset="0.857" stop-color="#f29000"/><stop offset="0.873" stop-color="#ffa600"/><stop offset="0.921" stop-color="#ffeb00"/><stop offset="0.937" stop-color="#fffa00"/><stop offset="0.968" stop-color="#ffff00"/><stop offset="1.000" stop-color="#ffff00"/></linearGradient><linearGradient id="ga89"><stop offset="0.000" stop-color="#ffeb00"/><stop offset="0.032" stop-color="#ffcf00"/><stop offset="0.063" stop-color="#ffad00"/><stop offset="0.079" stop-color="#ffa100"/><stop offset="0.159" stop-color="#e78100"/><stop offset="0.333" stop-color="#cb5500"/><stop offset="0.556" stop-color="#9e2d00"/><stop offset="0.619" stop-color="#9c2c00"/><stop offset="0.714" stop-color="#b33e00"/><stop offset="0.778" stop-color="#cc5700"/><stop offset="0.810" stop-color="#d76900"/><stop offset="0.841" stop-color="#ec8800"/><stop offset="0.857" stop-color="#fb9b00"/><stop offset="0.889" stop-color="#ffc700"/><stop offset="0.921" stop-color="#fff200"/><stop offset="0.937" stop-color="#fffc00"/><stop offset="1.000" stop-color="#ffff00"/></linearGradient><linearGradient id="ga90"><stop offset="0.000" stop-color="#ffe200"/><stop offset="0.032" stop-color="#ffc900"/><stop offset="0.063" stop-color="#ffaa00"/><stop offset="0.095" stop-color="#f89700"/><stop offset="0.175" stop-color="#e47d00"/><stop offset="0.349" stop-color="#cb5500"/><stop offset="0.556" stop-color="#a53200"/><stop offset="0.619" stop-color="#a43100"/><stop offset="0.714" stop-color="#bd4600"/><stop offset="0.794" stop-color="#d66700"/><stop offset="0.825" stop-color="#e88200"/><stop offset="0.857" stop-color="#ffa600"/><stop offset="0.921" stop-color="#fff700"/><stop offset="0.952" stop-color="#ffff00"/><stop offset="1.000" stop-color="#ffff00"/></linearGradient><linearGradient id="ga91"><stop offset="0.000" stop-color="#ffdb00"/><stop offset="0.032" stop-color="#ffc400"/><stop offset="0.063" stop-color="#ffa600"/><stop offset="0.111" stop-color="#f28f00"/><stop offset="0.222" stop-color="#dd7100"/><stop offset="0.460" stop-color="#bc4500"/><stop offset="0.571" stop-color="#ab3700"/><stop offset="0.635" stop-color="#af3b00"/><stop offset="0.730" stop-color="#ca5300"/><stop offset="0.794" stop-color="#dd7200"/><stop offset="0.825" stop-color="#ef8c00"/><stop offset="0.841" stop-color="#fc9d00"/><stop offset="0.905" stop-color="#ffed00"/><stop offset="0.921" stop-color="#fffa00"/><stop offset="0.968" stop-color="#ffff00"/><stop offset="1.000" stop-color="#ffff00"/></linearGradient><linearGradient id="ga92"><stop offset="0.000" stop-color="#ffd500"/><stop offset="0.063" stop-color="#ffa300"/><stop offset="0.095" stop-color="#f49300"/><stop offset="0.175" stop-color="#e37b00"/><stop offset="0.365" stop-color="#cc5700"/><stop offset="0.556" stop-color="#b43f00"/><stop offset="0.619" stop-color="#b43f00"/><stop offset="0.714" stop-color="#cc5600"/><stop offset="0.762" stop-color="#d86a00"/><stop offset="0.810" stop-color="#ec8800"/><stop offset="0.841" stop-color="#ffa600"/><stop offset="0.889" stop-color="#ffdd00"/><stop offset="0.905" stop-color="#fff300"/><stop offset="0.921" stop-color="#fffc00"/><stop offset="1.000" stop-color="#ffff00"/></linearGradient><linearGradient id="ga93"><stop offset="0.000" stop-color="#ffce00"/><stop offset="0.032" stop-color="#ffb800"/><stop offset="0.063" stop-color="#fe9f00"/><stop offset="0.111" stop-color="#ee8b00"/><stop offset="0.175" stop-color="#e27900"/><stop offset="0.429" stop-color="#c85000"/><stop offset="0.571" stop-color="#bb4400"/><stop offset="0.619" stop-color="#bc4600"/><stop offset="0.698" stop-color="#ce5a00"/><stop offset="0.746" stop-color="#da6c00"/><stop offset="0.810" stop-color="#f49200"/><stop offset="0.825" stop-color="#ffa000"/><stop offset="0.873" stop-color="#ffd300"/><stop offset="0.905" stop-color="#fff800"/><stop offset="0.921" stop-color="#fffe00"/><stop offset="1.000" stop-color="#ffff00"/></linearGradient><linearGradient id="ga94"><stop offset="0.000" stop-color="#ffc800"/><stop offset="0.048" stop-color="#ffa600"/><stop offset="0.079" stop-color="#f59300"/><stop offset="0.159" stop-color="#e27a00"/><stop offset="0.429" stop-color="#ca5300"/><stop offset="0.587" stop-color="#c34b00"/><stop offset="0.635" stop-color="#c85100"/><stop offset="0.714" stop-color="#d76900"/><stop offset="0.794" stop-color="#f39200"/><stop offset="0.810" stop-color="#fd9d00"/><stop offset="0.873" stop-color="#ffda00"/><stop offset="0.889" stop-color="#ffef00"/><stop offset="0.905" stop-color="#fffb00"/><stop offset="0.984" stop-color="#ffff00"/><stop offset="1.000" stop-color="#ffff00"/></linearGradient><linearGradient id="ga95"><stop offset="0.000" stop-color="#ffc100"/><stop offset="0.032" stop-color="#ffad00"/><stop offset="0.048" stop-color="#ffa100"/><stop offset="0.095" stop-color="#ed8a00"/><stop offset="0.159" stop-color="#e17800"/><stop offset="0.413" stop-color="#cd5800"/><stop offset="0.571" stop-color="#c95200"/><stop offset="0.635" stop-color="#ce5900"/><stop offset="0.714" stop-color="#df7500"/><stop offset="0.778" stop-color="#f59300"/><stop offset="0.794" stop-color="#fd9d00"/><stop offset="0.841" stop-color="#ffc300"/><stop offset="0.873" stop-color="#ffe100"/><stop offset="0.889" stop-color="#fff500"/><stop offset="0.905" stop-color="#fffd00"/><stop offset="1.000" stop-color="#ffff00"/></linearGradient><linearGradient id="ga96"><stop offset="0.000" stop-color="#ffbb00"/><stop offset="0.048" stop-color="#fc9c00"/><stop offset="0.095" stop-color="#eb8700"/><stop offset="0.159" stop-color="#df7500"/><stop offset="0.413" stop-color="#ce5b00"/><stop offset="0.571" stop-color="#ce5900"/><stop offset="0.635" stop-color="#d36200"/><stop offset="0.746" stop-color="#f18f00"/><stop offset="0.778" stop-color="#fe9f00"/><stop offset="0.825" stop-color="#ffbf00"/><stop offset="0.857" stop-color="#ffd900"/><stop offset="0.889" stop-color="#fff900"/><stop offset="0.921" stop-color="#ffff00"/><stop offset="1.000" stop-color="#ffff00"/></linearGradient><linearGradient id="ga97"><stop offset="0.000" stop-color="#ffb500"/><stop offset="0.032" stop-color="#ffa300"/><stop offset="0.079" stop-color="#ed8900"/><stop offset="0.159" stop-color="#de7400"/><stop offset="0.413" stop-color="#d15e00"/><stop offset="0.571" stop-color="#d36200"/><stop offset="0.619" stop-color="#d86900"/><stop offset="0.730" stop-color="#f59400"/><stop offset="0.762" stop-color="#ffa200"/><stop offset="0.825" stop-color="#ffc900"/><stop offset="0.873" stop-color="#fff200"/><stop offset="0.889" stop-color="#fffc00"/><stop offset="1.000" stop-color="#ffff00"/></linearGradient><linearGradient id="ga98"><stop offset="0.000" stop-color="#ffb000"/><stop offset="0.032" stop-color="#ffa000"/><stop offset="0.095" stop-color="#ea8500"/><stop offset="0.159" stop-color="#e07600"/><stop offset="0.429" stop-color="#d46400"/><stop offset="0.571" stop-color="#db6f00"/><stop offset="0.651" stop-color="#ea8500"/><stop offset="0.714" stop-color="#fd9e00"/><stop offset="0.746" stop-color="#ffa500"/><stop offset="0.810" stop-color="#ffc800"/><stop offset="0.841" stop-color="#ffdd00"/><stop offset="0.873" stop-color="#fff800"/><stop offset="0.905" stop-color="#ffff00"/><stop offset="1.000" stop-color="#ffff00"/></linearGradient><linearGradient id="ga99"><stop offset="0.000" stop-color="#ffaa00"/><stop offset="0.016" stop-color="#ffa200"/><stop offset="0.032" stop-color="#ffa000"/><stop offset="0.095" stop-color="#ea8500"/><stop offset="0.159" stop-color="#e17800"/><stop offset="0.365" stop-color="#da6d00"/><stop offset="0.476" stop-color="#dc7000"/><stop offset="0.571" stop-color="#e47d00"/><stop offset="0.651" stop-color="#f69400"/><stop offset="0.683" stop-color="#ffa000"/><stop offset="0.714" stop-color="#ffa300"/><stop offset="0.794" stop-color="#ffc900"/><stop offset="0.825" stop-color="#ffdb00"/><stop offset="0.857" stop-color="#fff400"/><stop offset="0.889" stop-color="#fffe00"/><stop offset="1.000" stop-color="#ffff00"/></linearGradient><linearGradient id="ga100"><stop offset="0.000" stop-color="#ffa400"/><stop offset="0.032" stop-color="#ffa000"/><stop offset="0.079" stop-color="#ee8b00"/><stop offset="0.143" stop-color="#e37b00"/><stop offset="0.333" stop-color="#de7300"/><stop offset="0.460" stop-color="#e17800"/><stop offset="0.571" stop-color="#ed8a00"/><stop offset="0.651" stop-color="#ffa000"/><stop offset="0.683" stop-color="#ffa000"/><stop offset="0.810" stop-color="#ffda00"/><stop offset="0.841" stop-color="#fff200"/><stop offset="0.873" stop-color="#fffd00"/><stop offset="1.000" stop-color="#ffff00"/></linearGradient><linearGradient id="ga101"><stop offset="0.000" stop-color="#ffa000"/><stop offset="0.032" stop-color="#ffa000"/><stop offset="0.063" stop-color="#f29000"/><stop offset="0.127" stop-color="#e67f00"/><stop offset="0.302" stop-color="#e07600"/><stop offset="0.444" stop-color="#e57f00"/><stop offset="0.571" stop-color="#f79600"/><stop offset="0.603" stop-color="#ffa000"/><stop offset="0.667" stop-color="#ffa300"/><stop offset="0.810" stop-color="#ffe400"/><stop offset="0.841" stop-color="#fff800"/><stop offset="0.905" stop-color="#ffff00"/><stop offset="1.000" stop-color="#ffff00"/></linearGradient><linearGradient id="ga102"><stop offset="0.000" stop-color="#ffa000"/><stop offset="0.016" stop-color="#ffa000"/><stop offset="0.079" stop-color="#eb8700"/><stop offset="0.143" stop-color="#e37a00"/><stop offset="0.317" stop-color="#e17700"/><stop offset="0.460" stop-color="#ea8600"/><stop offset="0.587" stop-color="#ffa000"/><stop offset="0.635" stop-color="#ffa100"/><stop offset="0.778" stop-color="#ffdb00"/><stop offset="0.825" stop-color="#fff600"/><stop offset="0.873" stop-color="#ffff00"/><stop offset="1.000" stop-color="#ffff00"/></linearGradient><linearGradient id="ga103"><stop offset="0.000" stop-color="#ffa000"/><stop offset="0.063" stop-color="#ea8500"/><stop offset="0.143" stop-color="#e07600"/><stop offset="0.302" stop-color="#e07600"/><stop offset="0.444" stop-color="#eb8700"/><stop offset="0.556" stop-color="#ffa000"/><stop offset="0.619" stop-color="#ffa300"/><stop offset="0.778" stop-color="#ffe600"/><stop offset="0.810" stop-color="#fff600"/><stop offset="0.857" stop-color="#ffff00"/><stop offset="1.000" stop-color="#ffff00"/></linearGradient><linearGradient id="ga104"><stop offset="0.000" stop-color="#f89700"/><stop offset="0.048" stop-color="#e88200"/><stop offset="0.127" stop-color="#dd7200"/><stop offset="0.286" stop-color="#df7400"/><stop offset="0.429" stop-color="#ec8800"/><stop offset="0.540" stop-color="#ffa000"/><stop offset="0.587" stop-color="#ffa000"/><stop offset="0.810" stop-color="#fffa00"/><stop offset="0.905" stop-color="#ffff00"/><stop offset="1.000" stop-color="#ffff00"/></linearGradient><linearGradient id="ga105"><stop offset="0.000" stop-color="#ed8a00"/><stop offset="0.063" stop-color="#df7500"/><stop offset="0.143" stop-color="#d96c00"/><stop offset="0.317" stop-color="#e17700"/><stop offset="0.444" stop-color="#f18f00"/><stop offset="0.524" stop-color="#ffa000"/><stop offset="0.571" stop-color="#ffa000"/><stop offset="0.778" stop-color="#fff600"/><stop offset="0.841" stop-color="#ffff00"/><stop offset="1.000" stop-color="#ffff00"/></linearGradient><linearGradient id="ga106"><stop offset="0.000" stop-color="#e27900"/><stop offset="0.063" stop-color="#d86a00"/><stop offset="0.159" stop-color="#d56600"/><stop offset="0.333" stop-color="#e27900"/><stop offset="0.460" stop-color="#f79600"/><stop offset="0.508" stop-color="#ffa000"/><stop offset="0.556" stop-color="#ffa000"/><stop offset="0.746" stop-color="#fff300"/><stop offset="0.810" stop-color="#fffe00"/><stop offset="1.000" stop-color="#ffff00"/></linearGradient><linearGradient id="ga107"><stop offset="0.000" stop-color="#d66700"/><stop offset="0.095" stop-color="#d15e00"/><stop offset="0.222" stop-color="#d56600"/><stop offset="0.349" stop-color="#e47c00"/><stop offset="0.492" stop-color="#ffa000"/><stop offset="0.540" stop-color="#ffa000"/><stop offset="0.714" stop-color="#ffee00"/><stop offset="0.778" stop-color="#fffd00"/><stop offset="1.000" stop-color="#ffff00"/></linearGradient><linearGradient id="ga108"><stop offset="0.000" stop-color="#cd5800"/><stop offset="0.127" stop-color="#cd5800"/><stop offset="0.270" stop-color="#d86a00"/><stop offset="0.365" stop-color="#e78000"/><stop offset="0.476" stop-color="#ffa000"/><stop offset="0.524" stop-color="#ffa000"/><stop offset="0.571" stop-color="#ffb200"/><stop offset="0.683" stop-color="#ffef00"/><stop offset="0.762" stop-color="#fffe00"/><stop offset="1.000" stop-color="#ffff00"/></linearGradient><linearGradient id="ga109"><stop offset="0.000" stop-color="#be4700"/><stop offset="0.175" stop-color="#cb5400"/><stop offset="0.317" stop-color="#db6f00"/><stop offset="0.476" stop-color="#ffa000"/><stop offset="0.524" stop-color="#ffa200"/><stop offset="0.571" stop-color="#ffb900"/><stop offset="0.619" stop-color="#ffdd00"/><stop offset="0.635" stop-color="#ffec00"/><stop offset="0.667" stop-color="#fff700"/><stop offset="0.762" stop-color="#ffff00"/><stop offset="1.000" stop-color="#ffff00"/></linearGradient><linearGradient id="ga110"><stop offset="0.000" stop-color="#b43f00"/><stop offset="0.190" stop-color="#c95200"/><stop offset="0.317" stop-color="#d86a00"/><stop offset="0.476" stop-color="#ffa000"/><stop offset="0.524" stop-color="#ffa300"/><stop offset="0.571" stop-color="#ffbd00"/><stop offset="0.603" stop-color="#ffd700"/><stop offset="0.619" stop-color="#ffea00"/><stop offset="0.635" stop-color="#fff600"/><stop offset="0.714" stop-color="#fffe00"/><stop offset="1.000" stop-color="#ffff00"/></linearGradient><linearGradient id="ga111"><stop offset="0.000" stop-color="#881d00"/><stop offset="0.206" stop-color="#b74100"/><stop offset="0.302" stop-color="#cd5800"/><stop offset="0.381" stop-color="#e07600"/><stop offset="0.476" stop-color="#ffa000"/><stop offset="0.508" stop-color="#ffa000"/><stop offset="0.540" stop-color="#ffb000"/><stop offset="0.556" stop-color="#ffbd00"/><stop offset="0.603" stop-color="#fff600"/><stop offset="0.635" stop-color="#fffd00"/><stop offset="1.000" stop-color="#ffff00"/></linearGradient></defs>
<g shape-rendering="crispEdges"><rect x="55.00" y="33.00" width="186.00" height="3.00" fill="url(#ga0)"/><rect x="55.00" y="36.00" width="186.00" height="3.00" fill="url(#ga1)"/><rect x="55.00" y="39.00" width="186.00" height="3.00" fill="url(#ga2)"/><rect x="55.00" y="42.00" width="186.00" height="3.00" fill="url(#ga3)"/><rect x="55.00" y="45.00" width="186.00" height="3.00" fill="url(#ga4)"/><rect x="55.00" y="48.00" width="186.00" height="3.00" fill="url(#ga5)"/><rect x="55.00" y="51.00" width="186.00" height="3.00" fill="url(#ga6)"/><rect x="55.00" y="54.00" width="186.00" height="3.00" fill="url(#ga7)"/><rect x="55.00" y="57.00" width="186.00" height="3.00" fill="url(#ga8)"/><rect x="55.00" y="60.00" width="186.00" height="3.00" fill="url(#ga9)"/><rect x="55.00" y="63.00" width="186.00" height="3.00" fill="url(#ga10)"/><rect x="55.00" y="66.00" width="186.00" height="3.00" fill="url(#ga11)"/><rect x="55.00" y="69.00" width="186.00" height="3.00" fill="url(#ga12)"/><rect x="55.00" y="72.00" width="186.00" height="3.00" fill="url(#ga13)"/><rect x="55.00" y="75.00" width="186.00" height="3.00" fill="url(#ga14)"/><rect x="55.00" y="78.00" width="186.00" height="3.00" fill="url(#ga15)"/><rect x="55.00" y="81.00" width="186.00" height="3.00" fill="url(#ga16)"/><rect x="55.00" y="84.00" width="186.00" height="3.00" fill="url(#ga17)"/><rect x="55.00" y="87.00" width="186.00" height="3.00" fill="url(#ga18)"/><rect x="55.00" y="90.00" width="186.00" height="3.00" fill="url(#ga19)"/><rect x="55.00" y="93.00" width="186.00" height="3.00" fill="url(#ga20)"/><rect x="55.00" y="96.00" width="186.00" height="3.00" fill="url(#ga21)"/><rect x="55.00" y="99.00" width="186.00" height="3.00" fill="url(#ga22)"/><rect x="55.00" y="102.00" width="186.00" height="3.00" fill="url(#ga23)"/><rect x="55.00" y="105.00" width="186.00" height="3.00" fill="url(#ga24)"/><rect x="55.00" y="108.00" width="186.00" height="3.00" fill="url(#ga25)"/><rect x="55.00" y="111.00" width="186.00" height="3.00" fill="url(#ga26)"/><rect x="55.00" y="114.00" width="186.00" height="3.00" fill="url(#ga27)"/><rect x="55.00" y="117.00" width="186.00" height="3.00" fill="url(#ga28)"/><rect x="55.00" y="120.00" width="186.00" height="3.00" fill="url(#ga29)"/><rect x="55.00" y="123.00" width="186.00" height="3.00" fill="url(#ga30)"/><rect x="55.00" y="126.00" width="186.00" height="3.00" fill="url(#ga31)"/><rect x="55.00" y="129.00" width="186.00" height="3.00" fill="url(#ga32)"/><rect x="55.00" y="132.00" width="186.00" height="3.00" fill="url(#ga33)"/><rect x="55.00" y="135.00" width="186.00" height="3.00" fill="url(#ga34)"/><rect x="55.00" y="138.00" width="186.00" height="3.00" fill="url(#ga35)"/><rect x="55.00" y="141.00" width="186.00" height="3.00" fill="url(#ga36)"/><rect x="55.00" y="144.00" width="186.00" height="3.00" fill="url(#ga37)"/><rect x="55.00" y="147.00" width="186.00" height="3.00" fill="url(#ga38)"/><rect x="55.00" y="150.00" width="186.00" height="3.00" fill="url(#ga39)"/><rect x="55.00" y="153.00" width="186.00" height="3.00" fill="url(#ga40)"/><rect x="55.00" y="156.00" width="186.00" height="3.00" fill="url(#ga41)"/><rect x="55.00" y="159.00" width="186.00" height="3.00" fill="url(#ga42)"/><rect x="55.00" y="162.00" width="186.00" height="3.00" fill="url(#ga43)"/><rect x="55.00" y="165.00" width="186.00" height="3.00" fill="url(#ga44)"/><rect x="55.00" y="168.00" width="186.00" height="3.00" fill="url(#ga45)"/><rect x="55.00" y="171.00" width="186.00" height="3.00" fill="url(#ga46)"/><rect x="55.00" y="174.00" width="186.00" height="3.00" fill="url(#ga47)"/><rect x="55.00" y="177.00" width="186.00" height="3.00" fill="url(#ga48)"/><rect x="55.00" y="180.00" width="186.00" height="3.00" fill="url(#ga49)"/><rect x="55.00" y="183.00" width="186.00" height="3.00" fill="url(#ga50)"/><rect x="55.00" y="186.00" width="186.00" height="3.00" fill="url(#ga51)"/><rect x="55.00" y="189.00" width="186.00" height="3.00" fill="url(#ga52)"/><rect x="55.00" y="192.00" width="186.00" height="3.00" fill="url(#ga53)"/><rect x="55.00" y="195.00" width="186.00" height="3.00" fill="url(#ga54)"/><rect x="55.00" y="198.00" width="186.00" height="3.00" fill="url(#ga55)"/><rect x="55.00" y="201.00" width="186.00" height="3.00" fill="url(#ga56)"/><rect x="55.00" y="204.00" width="186.00" height="3.00" fill="url(#ga57)"/><rect x="55.00" y="207.00" width="186.00" height="3.00" fill="url(#ga58)"/><rect x="55.00" y="210.00" width="186.00" height="3.00" fill="url(#ga59)"/><rect x="55.00" y="213.00" width="186.00" height="3.00" fill="url(#ga60)"/><rect x="55.00" y="216.00" width="186.00" height="3.00" fill="url(#ga61)"/><rect x="55.00" y="219.00" width="186.00" height="3.00" fill="url(#ga62)"/><rect x="55.00" y="222.00" width="186.00" height="3.00" fill="url(#ga63)"/><rect x="55.00" y="225.00" width="186.00" height="3.00" fill="url(#ga64)"/><rect x="55.00" y="228.00" width="186.00" height="3.00" fill="url(#ga65)"/><rect x="55.00" y="231.00" width="186.00" height="3.00" fill="url(#ga66)"/><rect x="55.00" y="234.00" width="186.00" height="3.00" fill="url(#ga67)"/><rect x="55.00" y="237.00" width="186.00" height="3.00" fill="url(#ga68)"/><rect x="55.00" y="240.00" width="186.00" height="3.00" fill="url(#ga69)"/><rect x="55.00" y="243.00" width="186.00" height="3.00" fill="url(#ga70)"/><rect x="55.00" y="246.00" width="186.00" height="3.00" fill="url(#ga71)"/><rect x="55.00" y="249.00" width="186.00" height="3.00" fill="url(#ga72)"/><rect x="55.00" y="252.00" width="186.00" height="3.00" fill="url(#ga73)"/><rect x="55.00" y="255.00" width="186.00" height="3.00" fill="url(#ga74)"/><rect x="55.00" y="258.00" width="186.00" height="3.00" fill="url(#ga75)"/><rect x="55.00" y="261.00" width="186.00" height="3.00" fill="url(#ga76)"/><rect x="55.00" y="264.00" width="186.00" height="3.00" fill="url(#ga77)"/><rect x="55.00" y="267.00" width="186.00" height="3.00" fill="url(#ga78)"/><rect x="55.00" y="270.00" width="186.00" height="3.00" fill="url(#ga79)"/><rect x="55.00" y="273.00" width="186.00" height="3.00" fill="url(#ga80)"/><rect x="55.00" y="276.00" width="186.00" height="3.00" fill="url(#ga81)"/><rect x="55.00" y="279.00" width="186.00" height="3.00" fill="url(#ga82)"/><rect x="55.00" y="282.00" width="186.00" height="3.00" fill="url(#ga83)"/><rect x="55.00" y="285.00" width="186.00" height="3.00" fill="url(#ga84)"/><rect x="55.00" y="288.00" width="186.00" height="3.00" fill="url(#ga85)"/><rect x="55.00" y="291.00" width="186.00" height="3.00" fill="url(#ga86)"/><rect x="55.00" y="294.00" width="186.00" height="3.00" fill="url(#ga87)"/><rect x="55.00" y="297.00" width="186.00" height="3.00" fill="url(#ga88)"/><rect x="55.00" y="300.00" width="186.00" height="3.00" fill="url(#ga89)"/><rect x="55.00" y="303.00" width="186.00" height="3.00" fill="url(#ga90)"/><rect x="55.00" y="306.00" width="186.00" height="3.00" fill="url(#ga91)"/><rect x="55.00" y="309.00" width="186.00" height="3.00" fill="url(#ga92)"/><rect x="55.00" y="312.00" width="186.00" height="3.00" fill="url(#ga93)"/><rect x="55.00" y="315.00" width="186.00" height="3.00" fill="url(#ga94)"/><rect x="55.00" y="318.00" width="186.00" height="3.00" fill="url(#ga95)"/><rect x="55.00" y="321.00" width="186.00" height="3.00" fill="url(#ga96)"/><rect x="55.00" y="324.00" width="186.00" height="3.00" fill="url(#ga97)"/><rect x="55.00" y="327.00" width="186.00" height="3.00" fill="url(#ga98)"/><rect x="55.00" y="330.00" width="186.00" height="3.00" fill="url(#ga99)"/><rect x="55.00" y="333.00" width="186.00" height="3.00" fill="url(#ga100)"/><rect x="55.00" y="336.00" width="186.00" height="3.00" fill="url(#ga101)"/><rect x="55.00" y="339.00" width="186.00" height="3.00" fill="url(#ga102)"/><rect x="55.00" y="342.00" width="186.00" height="3.00" fill="url(#ga103)"/><rect x="55.00" y="345.00" width="186.00" height="3.00" fill="url(#ga104)"/><rect x="55.00" y="348.00" width="186.00" height="3.00" fill="url(#ga105)"/><rect x="55.00" y="351.00" width="186.00" height="3.00" fill="url(#ga106)"/><rect x="55.00" y="354.00" width="186.00" height="3.00" fill="url(#ga107)"/><rect x="55.00" y="357.00" width="186.00" height="3.00" fill="url(#ga108)"/><rect x="55.00" y="360.00" width="186.00" height="3.00" fill="url(#ga109)"/><rect x="55.00" y="363.00" width="186.00" height="3.00" fill="url(#ga110)"/><rect x="55.00" y="366.00" width="186.00" height="3.00" fill="url(#ga111)"/></g>
</g>
<defs><linearGradient id="gstrip" x1="0" y1="0" x2="0" y2="1"><stop offset="0.000" stop-color="#340000"/><stop offset="0.111" stop-color="#550500"/><stop offset="0.201" stop-color="#7c1600"/><stop offset="0.291" stop-color="#be4700"/><stop offset="0.381" stop-color="#eb8700"/><stop offset="0.441" stop-color="#ffb300"/><stop offset="0.501" stop-color="#ffda00"/><stop offset="0.537" stop-color="#ffff00"/><stop offset="1.000" stop-color="#ffff00"/></linearGradient></defs>
<rect x="234.2" y="33" width="6.2" height="333.5" fill="url(#gstrip)"/>
<path d="M55.50 366.50h8M240.40 366.50h-8M55.50 333.15h8M240.40 333.15h-8M55.50 299.80h8M240.40 299.80h-8M55.50 266.45h8M240.40 266.45h-8M55.50 233.10h8M240.40 233.10h-8M55.50 199.75h8M240.40 199.75h-8M55.50 166.40h8M240.40 166.40h-8M55.50 133.05h8M240.40 133.05h-8M55.50 99.70h8M240.40 99.70h-8M55.50 66.35h8M240.40 66.35h-8M55.50 33.00h8M240.40 33.00h-8M55.50 366.50v-8M55.50 33.00v8M92.48 366.50v-8M92.48 33.00v8M129.46 366.50v-8M129.46 33.00v8M166.44 366.50v-8M166.44 33.00v8M203.42 366.50v-8M203.42 33.00v8M240.40 366.50v-8M240.40 33.00v8" stroke="#000" stroke-width="1.2" fill="none"/>
<rect x="55.50" y="33.00" width="184.90" height="333.00" fill="none" stroke="#000" stroke-width="1.4"/>
<text x="49.5" y="371.5" font-size="15.4" text-anchor="end">0</text>
<text x="49.5" y="338.1" font-size="15.4" text-anchor="end">0.1</text>
<text x="49.5" y="304.8" font-size="15.4" text-anchor="end">0.2</text>
<text x="49.5" y="271.4" font-size="15.4" text-anchor="end">0.3</text>
<text x="49.5" y="238.1" font-size="15.4" text-anchor="end">0.4</text>
<text x="49.5" y="204.8" font-size="15.4" text-anchor="end">0.5</text>
<text x="49.5" y="171.4" font-size="15.4" text-anchor="end">0.6</text>
<text x="49.5" y="138.1" font-size="15.4" text-anchor="end">0.7</text>
<text x="49.5" y="104.7" font-size="15.4" text-anchor="end">0.8</text>
<text x="49.5" y="71.4" font-size="15.4" text-anchor="end">0.9</text>
<text x="49.5" y="38.0" font-size="15.4" text-anchor="end">1</text>
<text x="57.5" y="386" font-size="15" text-anchor="middle">1</text>
<text x="94.5" y="386" font-size="15" text-anchor="middle">1.2</text>
<text x="131.5" y="386" font-size="15" text-anchor="middle">1.4</text>
<text x="168.4" y="386" font-size="15" text-anchor="middle">1.6</text>
<text x="205.4" y="386" font-size="15" text-anchor="middle">1.8</text>
<text x="242.4" y="386" font-size="15" text-anchor="middle">2</text>
<path d="M56 331.7H240" stroke="#000" stroke-width="2.2" stroke-dasharray="6.2 6.2" stroke-dashoffset="4.4"/>
<path d="M56 367.9H240" stroke="#000" stroke-width="2.2" stroke-dasharray="6.6 5.8" stroke-dashoffset="11"/>
<path d="M57.2 331.7V367" stroke="#000" stroke-width="2.4" stroke-dasharray="5.5 6.9"/>
<path d="M238.5 330.6V367" stroke="#000" stroke-width="2.6" stroke-dasharray="6.4 6"/>
<rect x="233" y="365.6" width="7.4" height="3.4" fill="#000"/><rect x="55" y="364.5" width="3.6" height="4.5" fill="#000"/>
<path d="M166.5 365.6C167.2 365.3 168.6 364.3 170.5 363.8C172.4 363.3 175.6 363.1 178.2 362.8C180.8 362.5 183.4 362.4 186.0 361.9C188.6 361.4 191.1 360.5 193.7 359.6C196.3 358.7 198.9 357.8 201.5 356.4C204.1 355.0 206.6 353.2 209.2 351.0C211.8 348.8 214.9 345.8 217.0 343.2C219.1 340.6 220.2 338.3 221.6 335.5C223.0 332.7 224.5 328.8 225.5 326.2C226.5 323.6 227.1 322.9 227.8 320.0C228.5 317.1 228.7 313.8 229.5 309.0C230.3 304.2 231.5 297.1 232.4 291.0C233.3 284.9 234.3 278.7 235.0 272.6C235.7 266.5 236.0 260.3 236.4 254.3C236.8 248.3 237.1 239.6 237.2 236.7" fill="none" stroke="#000" stroke-width="3" stroke-linecap="round"/>
<path d="M164.5 366.3L172 363.6" stroke="#000" stroke-width="1.6" stroke-linecap="round"/>
<path d="M210.3 257.6L233.2 269.3" stroke="#fff" stroke-width="1.1" fill="none"/>
<text class="se" x="206.6" y="53.7" font-size="17.8" fill="#fff">(a)</text>
<text class="se" x="135.4" y="108.5" font-size="19.8" fill="#fff" stroke="#fff" stroke-width="0.8" textLength="81" lengthAdjust="spacingAndGlyphs">Region B</text>
<text class="se" x="74.1" y="312.1" font-size="21.5" fill="#777" stroke="#777" stroke-width="0.6" textLength="90" lengthAdjust="spacingAndGlyphs">Region A</text>
<text class="se" x="73.4" y="311.4" font-size="21.5" fill="#fff" stroke="#fff" stroke-width="0.25" textLength="90" lengthAdjust="spacingAndGlyphs">Region A</text>
<g fill="#fff" class="se"><text x="160.5" y="257.4" font-size="13.8" textLength="10.9" lengthAdjust="spacingAndGlyphs">Δ</text><rect x="163.2" y="245.2" width="5.5" height="0.9"/><text x="172.8" y="260" font-size="10.5" font-style="italic">c</text><text x="178.8" y="257.4" font-size="14" textLength="10.2" lengthAdjust="spacingAndGlyphs">=</text><text x="190.4" y="257.4" font-size="14">0</text><text x="198.4" y="257.4" font-size="14">.</text><text x="202" y="257.4" font-size="14">2</text></g>
<path d="M88.9 318L81 353.5" stroke="#000" stroke-width="1.7" fill="none"/>
<path d="M78.7 360.2L77.3 348.8L81.4 352.4L85.8 348.4Z" fill="#000"/>
</g>
<defs><linearGradient id="cba" x1="0" y1="0" x2="0" y2="1"><stop offset="0.00" stop-color="#fff00a"/><stop offset="0.20" stop-color="#ffd412"/><stop offset="0.40" stop-color="#f5aa14"/><stop offset="0.60" stop-color="#e18214"/><stop offset="0.70" stop-color="#d06714"/><stop offset="0.80" stop-color="#ba4c12"/><stop offset="0.90" stop-color="#963012"/><stop offset="1.00" stop-color="#681b14"/></linearGradient></defs>
<rect x="245.5" y="33" width="9" height="333.5" fill="url(#cba)" stroke="#000" stroke-width="1"/>
<path d="M245.5 299.80h9M245.5 233.10h9M245.5 166.40h9M245.5 99.70h9" stroke="#000" stroke-width="0.9"/>
<text x="259" y="371.5" font-size="15">0</text>
<text x="259" y="304.8" font-size="15">0.02</text>
<text x="259" y="238.1" font-size="15">0.04</text>
<text x="259" y="171.4" font-size="15">0.06</text>
<text x="259" y="104.7" font-size="15">0.08</text>
<text x="259" y="38.0" font-size="15">0.1</text>
<g transform="translate(294.6 128.9) rotate(90)" class="se" fill="#000"><text x="0" y="0" font-size="26">Δ</text><rect x="3.8" y="-19.8" width="8.6" height="1.2"/><text x="18.4" y="3.6" font-size="11.6">0</text><text x="25.4" y="0" font-size="26">(</text><text x="34.6" y="0" font-size="26" font-style="italic">d</text><text x="49" y="3.6" font-size="17.5" font-style="italic" textLength="13.2" lengthAdjust="spacingAndGlyphs">U</text><text x="64.3" y="0" font-size="26">,</text><text x="73.2" y="0" font-size="26" textLength="17.6" lengthAdjust="spacingAndGlyphs">Λ</text><rect x="77.3" y="-21.2" width="9.4" height="1.2"/><text x="91" y="3.6" font-size="17.5" font-style="italic" textLength="13.4" lengthAdjust="spacingAndGlyphs">U</text><text x="105.4" y="0" font-size="26">)</text></g>
<g transform="translate(21.5 197) rotate(-90)" class="se"><text x="0" y="0" font-size="22">Λ</text><rect x="4" y="-20.6" width="7" height="1.3"/><text x="15.5" y="3.2" font-size="13.5" font-style="italic" textLength="13" lengthAdjust="spacingAndGlyphs">U</text></g>
<text class="se" x="137" y="404.3" font-size="23" font-style="italic">d</text><text class="se" x="149.5" y="408.4" font-size="15.7" font-style="italic" textLength="13.4" lengthAdjust="spacingAndGlyphs">U</text>
<path d="M240.8 331.6L345.5 213.5M242 368.2L354 391.4" stroke="#111" stroke-width="1.15" stroke-dasharray="6 4.4" fill="none"/>
<g id="pb">
<path d="M359.0 92.80H538.5" stroke="#222" stroke-width="0.9" stroke-dasharray="1 1.5"/>
<path d="M360.2 23.9C361.0 29.6 363.2 46.5 364.8 58.0C366.4 69.5 368.2 84.6 369.5 92.9C370.8 101.2 371.2 102.2 372.7 107.6C374.2 113.0 376.7 119.7 378.6 125.1C380.6 130.5 382.4 135.4 384.4 139.8C386.3 144.2 388.4 148.1 390.3 151.5C392.2 154.9 394.2 157.8 396.1 160.3C398.1 162.8 400.1 164.8 402.0 166.7C403.9 168.5 405.9 170.1 407.8 171.4C409.8 172.7 411.7 173.5 413.7 174.3C415.7 175.1 417.7 175.6 419.6 176.1C421.6 176.6 423.4 177.0 425.4 177.3C427.3 177.6 428.9 177.9 431.3 178.1C433.7 178.3 436.6 178.5 439.5 178.7C442.4 178.9 445.9 179.0 448.8 179.1C451.7 179.2 454.2 179.3 457.0 179.3C459.8 179.3 462.9 179.3 465.8 179.2C468.7 179.1 471.7 179.1 474.6 178.9C477.5 178.7 480.4 178.5 483.3 178.1C486.2 177.7 489.2 177.4 492.1 176.7C495.0 176.0 498.0 175.2 500.9 173.7C503.8 172.2 506.8 171.2 509.7 167.8C512.6 164.4 516.2 159.1 518.5 153.5C520.8 147.9 522.0 140.8 523.5 134.5C525.0 128.2 526.1 122.4 527.3 116.0C528.5 109.6 530.0 100.6 530.8 95.9C531.6 91.2 531.6 93.9 532.2 88.0C532.8 82.1 534.2 65.1 534.6 60.5" fill="none" stroke="#000" stroke-width="0.95"/>
<path d="M361.0 142.7L369.2 152.4L378.0 160.3L386.8 166.1L395.5 170.2L404.3 173.5L413.1 175.8L421.9 177.3L430.7 178.1L439.5 178.7L448.2 179.0L457.0 179.3L465.8 179.3L474.6 179.0L483.3 178.1L492.1 176.7L500.9 173.7L509.7 167.6L518.5 153.0L527.3 114.0" fill="none" stroke="#e8141c" stroke-width="1.2" stroke-dasharray="4 2"/>
<g fill="none" stroke="#e8141c" stroke-width="1"><circle cx="361.0" cy="142.7" r="2.1"/><circle cx="369.2" cy="152.4" r="2.1"/><circle cx="378.0" cy="160.3" r="2.1"/><circle cx="386.8" cy="166.1" r="2.1"/><circle cx="395.5" cy="170.2" r="2.1"/><circle cx="404.3" cy="173.5" r="2.1"/><circle cx="413.1" cy="175.8" r="2.1"/><circle cx="421.9" cy="177.3" r="2.1"/><circle cx="430.7" cy="178.1" r="2.1"/><circle cx="439.5" cy="178.7" r="2.1"/><circle cx="448.2" cy="179.0" r="2.1"/><circle cx="457.0" cy="179.3" r="2.1"/><circle cx="465.8" cy="179.3" r="2.1"/><circle cx="474.6" cy="179.0" r="2.1"/><circle cx="483.3" cy="178.1" r="2.1"/><circle cx="492.1" cy="176.7" r="2.1"/><circle cx="500.9" cy="173.7" r="2.1"/><circle cx="509.7" cy="167.6" r="2.1"/><circle cx="518.5" cy="153.0" r="2.1"/><circle cx="527.3" cy="114.0" r="2.1"/></g>
<path d="M359.00 3.40v5.4M359.00 182.20v-5.4M376.95 3.40v2.7M376.95 182.20v-2.7M394.90 3.40v5.4M394.90 182.20v-5.4M412.85 3.40v2.7M412.85 182.20v-2.7M430.80 3.40v5.4M430.80 182.20v-5.4M448.75 3.40v2.7M448.75 182.20v-2.7M466.70 3.40v5.4M466.70 182.20v-5.4M484.65 3.40v2.7M484.65 182.20v-2.7M502.60 3.40v5.4M502.60 182.20v-5.4M520.55 3.40v2.7M520.55 182.20v-2.7M538.50 3.40v5.4M538.50 182.20v-5.4M359.00 182.20h5.4M538.50 182.20h-5.4M359.00 159.85h2.7M538.50 159.85h-2.7M359.00 137.50h5.4M538.50 137.50h-5.4M359.00 115.15h2.7M538.50 115.15h-2.7M359.00 92.80h5.4M538.50 92.80h-5.4M359.00 70.45h2.7M538.50 70.45h-2.7M359.00 48.10h5.4M538.50 48.10h-5.4M359.00 25.75h2.7M538.50 25.75h-2.7M359.00 3.40h5.4M538.50 3.40h-5.4" stroke="#222" stroke-width="0.7" fill="none"/>
<rect x="359.00" y="3.40" width="179.50" height="178.80" fill="none" stroke="#222" stroke-width="0.75"/>
<text class="se" x="356.3" y="185.3" font-size="9.2" text-anchor="end">0</text>
<text class="se" x="356.3" y="140.6" font-size="9.2" text-anchor="end">0.1</text>
<text class="se" x="356.3" y="95.9" font-size="9.2" text-anchor="end">0.2</text>
<text class="se" x="356.3" y="51.2" font-size="9.2" text-anchor="end">0.3</text>
<text class="se" x="356.3" y="6.5" font-size="9.2" text-anchor="end">0.4</text>
<text class="se" x="359.0" y="191.7" font-size="9" text-anchor="middle">1</text>
<text class="se" x="394.9" y="191.7" font-size="9" text-anchor="middle">1.2</text>
<text class="se" x="430.8" y="191.7" font-size="9" text-anchor="middle">1.4</text>
<text class="se" x="466.7" y="191.7" font-size="9" text-anchor="middle">1.6</text>
<text class="se" x="502.6" y="191.7" font-size="9" text-anchor="middle">1.8</text>
<text class="se" x="538.5" y="191.7" font-size="9" text-anchor="middle">2</text>
<rect x="474.1" y="10.9" width="55.9" height="28.7" fill="#fff" stroke="#444" stroke-width="0.8"/>
<path d="M478.7 19.5h10.3" stroke="#000" stroke-width="1"/>
<path d="M482.5 32.1h2.8" stroke="#e8141c" stroke-width="1.1"/>
<g fill="none" stroke="#e8141c" stroke-width="1.2"><circle cx="478.7" cy="32.1" r="1.9"/><circle cx="489" cy="32.1" r="1.9"/></g>
<text class="se" x="494.4" y="21.8" font-size="9.9">Eq. (13)</text><text class="se" x="494.4" y="35" font-size="9.9">Eq. (12)</text>
<text class="se" x="371.4" y="27.7" font-size="18.8" textLength="21.6" lengthAdjust="spacingAndGlyphs">(b)</text>
<g class="se"><text x="427.3" y="57.5" font-size="15.6">Λ</text><rect x="428.5" y="44.9" width="7.6" height="0.9"/><text x="437.6" y="62.9" font-size="10.1">U</text><text x="444.4" y="57.5" font-size="15">=0.2</text></g>
<g transform="translate(340.3 100.9) rotate(-90)" class="se"><text x="0" y="0" font-size="19">Δ</text><rect x="1.2" y="-16.4" width="9.2" height="1"/><text x="12.2" y="3" font-size="12">0</text></g>
<text class="se" x="440.4" y="201.2" font-size="16.7" font-style="italic">d</text><text class="se" x="449.4" y="204.3" font-size="12.5" font-style="italic">U</text>
</g>
<g id="pc">
<defs><linearGradient id="gc0"><stop offset="0.000" stop-color="#ffa700"/><stop offset="0.021" stop-color="#fb9a00"/><stop offset="0.064" stop-color="#e88200"/><stop offset="0.128" stop-color="#da6d00"/><stop offset="0.298" stop-color="#d26100"/><stop offset="0.468" stop-color="#d76800"/><stop offset="0.574" stop-color="#e37b00"/><stop offset="0.681" stop-color="#ffa000"/><stop offset="0.745" stop-color="#ffcb00"/><stop offset="0.766" stop-color="#ffdd00"/><stop offset="0.787" stop-color="#ffff00"/><stop offset="1.000" stop-color="#ffff00"/></linearGradient><linearGradient id="gc1"><stop offset="0.000" stop-color="#ffa700"/><stop offset="0.043" stop-color="#f08d00"/><stop offset="0.106" stop-color="#dd7200"/><stop offset="0.191" stop-color="#d66700"/><stop offset="0.340" stop-color="#d26100"/><stop offset="0.468" stop-color="#d76800"/><stop offset="0.574" stop-color="#e37b00"/><stop offset="0.681" stop-color="#ffa100"/><stop offset="0.766" stop-color="#ffde00"/><stop offset="0.787" stop-color="#ffff00"/><stop offset="1.000" stop-color="#ffff00"/></linearGradient><linearGradient id="gc2"><stop offset="0.000" stop-color="#ffa600"/><stop offset="0.085" stop-color="#e27900"/><stop offset="0.149" stop-color="#d86a00"/><stop offset="0.340" stop-color="#d26100"/><stop offset="0.468" stop-color="#d76800"/><stop offset="0.574" stop-color="#e47c00"/><stop offset="0.681" stop-color="#ffa200"/><stop offset="0.745" stop-color="#ffce00"/><stop offset="0.766" stop-color="#ffe100"/><stop offset="0.787" stop-color="#ffff00"/><stop offset="1.000" stop-color="#ffff00"/></linearGradient><linearGradient id="gc3"><stop offset="0.000" stop-color="#ffa500"/><stop offset="0.085" stop-color="#e17800"/><stop offset="0.149" stop-color="#d86a00"/><stop offset="0.319" stop-color="#d26100"/><stop offset="0.447" stop-color="#d56600"/><stop offset="0.574" stop-color="#e47d00"/><stop offset="0.681" stop-color="#ffa300"/><stop offset="0.745" stop-color="#ffd000"/><stop offset="0.787" stop-color="#ffff00"/><stop offset="1.000" stop-color="#ffff00"/></linearGradient><linearGradient id="gc4"><stop offset="0.000" stop-color="#ffa400"/><stop offset="0.085" stop-color="#e17800"/><stop offset="0.128" stop-color="#d96c00"/><stop offset="0.298" stop-color="#d26100"/><stop offset="0.447" stop-color="#d66600"/><stop offset="0.574" stop-color="#e57d00"/><stop offset="0.681" stop-color="#ffa500"/><stop offset="0.745" stop-color="#ffd200"/><stop offset="0.787" stop-color="#ffff00"/><stop offset="1.000" stop-color="#ffff00"/></linearGradient><linearGradient id="gc5"><stop offset="0.000" stop-color="#ffa300"/><stop offset="0.064" stop-color="#e68000"/><stop offset="0.128" stop-color="#d96c00"/><stop offset="0.298" stop-color="#d26100"/><stop offset="0.447" stop-color="#d66700"/><stop offset="0.574" stop-color="#e57e00"/><stop offset="0.681" stop-color="#ffa600"/><stop offset="0.745" stop-color="#ffd400"/><stop offset="0.766" stop-color="#ffee00"/><stop offset="0.787" stop-color="#ffff00"/><stop offset="1.000" stop-color="#ffff00"/></linearGradient><linearGradient id="gc6"><stop offset="0.000" stop-color="#ffa200"/><stop offset="0.085" stop-color="#e17700"/><stop offset="0.149" stop-color="#d76900"/><stop offset="0.319" stop-color="#d26100"/><stop offset="0.447" stop-color="#d66700"/><stop offset="0.574" stop-color="#e67f00"/><stop offset="0.660" stop-color="#fd9d00"/><stop offset="0.702" stop-color="#ffb600"/><stop offset="0.745" stop-color="#ffd600"/><stop offset="0.766" stop-color="#fff300"/><stop offset="0.787" stop-color="#ffff00"/><stop offset="1.000" stop-color="#ffff00"/></linearGradient><linearGradient id="gc7"><stop offset="0.000" stop-color="#ffa100"/><stop offset="0.085" stop-color="#e07700"/><stop offset="0.128" stop-color="#d96b00"/><stop offset="0.298" stop-color="#d26100"/><stop offset="0.447" stop-color="#d66700"/><stop offset="0.574" stop-color="#e78000"/><stop offset="0.660" stop-color="#fd9e00"/><stop offset="0.723" stop-color="#ffc800"/><stop offset="0.745" stop-color="#ffd900"/><stop offset="0.766" stop-color="#fff800"/><stop offset="0.787" stop-color="#ffff00"/><stop offset="1.000" stop-color="#ffff00"/></linearGradient><linearGradient id="gc8"><stop offset="0.000" stop-color="#ffa000"/><stop offset="0.064" stop-color="#e57f00"/><stop offset="0.128" stop-color="#d96b00"/><stop offset="0.298" stop-color="#d26000"/><stop offset="0.426" stop-color="#d56500"/><stop offset="0.574" stop-color="#e78100"/><stop offset="0.660" stop-color="#fe9f00"/><stop offset="0.723" stop-color="#ffca00"/><stop offset="0.745" stop-color="#ffdb00"/><stop offset="0.766" stop-color="#fffc00"/><stop offset="0.894" stop-color="#ffff00"/><stop offset="1.000" stop-color="#ffff00"/></linearGradient><linearGradient id="gc9"><stop offset="0.000" stop-color="#fe9f00"/><stop offset="0.064" stop-color="#e57e00"/><stop offset="0.128" stop-color="#d86b00"/><stop offset="0.298" stop-color="#d26000"/><stop offset="0.447" stop-color="#d76800"/><stop offset="0.574" stop-color="#e88200"/><stop offset="0.660" stop-color="#ffa000"/><stop offset="0.745" stop-color="#ffdd00"/><stop offset="0.766" stop-color="#ffff00"/><stop offset="1.000" stop-color="#ffff00"/></linearGradient><linearGradient id="gc10"><stop offset="0.000" stop-color="#fd9e00"/><stop offset="0.085" stop-color="#df7500"/><stop offset="0.149" stop-color="#d66800"/><stop offset="0.298" stop-color="#d26000"/><stop offset="0.447" stop-color="#d76800"/><stop offset="0.574" stop-color="#e98300"/><stop offset="0.660" stop-color="#ffa200"/><stop offset="0.723" stop-color="#ffce00"/><stop offset="0.745" stop-color="#ffe100"/><stop offset="0.766" stop-color="#ffff00"/><stop offset="1.000" stop-color="#ffff00"/></linearGradient><linearGradient id="gc11"><stop offset="0.000" stop-color="#fd9d00"/><stop offset="0.064" stop-color="#e47d00"/><stop offset="0.128" stop-color="#d86a00"/><stop offset="0.298" stop-color="#d26000"/><stop offset="0.447" stop-color="#d76900"/><stop offset="0.574" stop-color="#e98400"/><stop offset="0.660" stop-color="#ffa400"/><stop offset="0.723" stop-color="#ffd100"/><stop offset="0.766" stop-color="#ffff00"/><stop offset="1.000" stop-color="#ffff00"/></linearGradient><linearGradient id="gc12"><stop offset="0.000" stop-color="#fc9c00"/><stop offset="0.085" stop-color="#df7400"/><stop offset="0.149" stop-color="#d66700"/><stop offset="0.319" stop-color="#d26000"/><stop offset="0.447" stop-color="#d76900"/><stop offset="0.574" stop-color="#ea8500"/><stop offset="0.660" stop-color="#ffa500"/><stop offset="0.723" stop-color="#ffd300"/><stop offset="0.766" stop-color="#ffff00"/><stop offset="1.000" stop-color="#ffff00"/></linearGradient><linearGradient id="gc13"><stop offset="0.000" stop-color="#fb9b00"/><stop offset="0.085" stop-color="#de7400"/><stop offset="0.149" stop-color="#d66700"/><stop offset="0.319" stop-color="#d26000"/><stop offset="0.426" stop-color="#d66600"/><stop offset="0.553" stop-color="#e68000"/><stop offset="0.660" stop-color="#ffa700"/><stop offset="0.723" stop-color="#ffd500"/><stop offset="0.745" stop-color="#ffef00"/><stop offset="0.766" stop-color="#ffff00"/><stop offset="1.000" stop-color="#ffff00"/></linearGradient><linearGradient id="gc14"><stop offset="0.000" stop-color="#fb9b00"/><stop offset="0.085" stop-color="#de7300"/><stop offset="0.149" stop-color="#d66600"/><stop offset="0.319" stop-color="#d26100"/><stop offset="0.426" stop-color="#d66700"/><stop offset="0.553" stop-color="#e78100"/><stop offset="0.638" stop-color="#fd9e00"/><stop offset="0.681" stop-color="#ffb600"/><stop offset="0.723" stop-color="#ffd700"/><stop offset="0.745" stop-color="#fff300"/><stop offset="0.766" stop-color="#ffff00"/><stop offset="1.000" stop-color="#ffff00"/></linearGradient><linearGradient id="gc15"><stop offset="0.000" stop-color="#fa9a00"/><stop offset="0.064" stop-color="#e37a00"/><stop offset="0.128" stop-color="#d76800"/><stop offset="0.298" stop-color="#d26000"/><stop offset="0.426" stop-color="#d66700"/><stop offset="0.553" stop-color="#e88200"/><stop offset="0.638" stop-color="#fe9f00"/><stop offset="0.681" stop-color="#ffb800"/><stop offset="0.723" stop-color="#ffd900"/><stop offset="0.745" stop-color="#fff800"/><stop offset="0.766" stop-color="#ffff00"/><stop offset="1.000" stop-color="#ffff00"/></linearGradient><linearGradient id="gc16"><stop offset="0.000" stop-color="#f99900"/><stop offset="0.085" stop-color="#dd7200"/><stop offset="0.149" stop-color="#d56600"/><stop offset="0.319" stop-color="#d26100"/><stop offset="0.426" stop-color="#d66800"/><stop offset="0.553" stop-color="#e88300"/><stop offset="0.638" stop-color="#ffa000"/><stop offset="0.702" stop-color="#ffc900"/><stop offset="0.723" stop-color="#ffdb00"/><stop offset="0.745" stop-color="#fffb00"/><stop offset="0.787" stop-color="#ffff00"/><stop offset="1.000" stop-color="#ffff00"/></linearGradient><linearGradient id="gc17"><stop offset="0.000" stop-color="#f99800"/><stop offset="0.064" stop-color="#e27900"/><stop offset="0.128" stop-color="#d66800"/><stop offset="0.298" stop-color="#d26000"/><stop offset="0.426" stop-color="#d76800"/><stop offset="0.553" stop-color="#e98400"/><stop offset="0.638" stop-color="#ffa100"/><stop offset="0.702" stop-color="#ffcb00"/><stop offset="0.723" stop-color="#ffdd00"/><stop offset="0.745" stop-color="#ffff00"/><stop offset="1.000" stop-color="#ffff00"/></linearGradient><linearGradient id="gc18"><stop offset="0.000" stop-color="#f89700"/><stop offset="0.064" stop-color="#e17800"/><stop offset="0.128" stop-color="#d66700"/><stop offset="0.298" stop-color="#d26000"/><stop offset="0.426" stop-color="#d76800"/><stop offset="0.574" stop-color="#ee8b00"/><stop offset="0.638" stop-color="#ffa300"/><stop offset="0.702" stop-color="#ffcd00"/><stop offset="0.723" stop-color="#ffdf00"/><stop offset="0.745" stop-color="#ffff00"/><stop offset="1.000" stop-color="#ffff00"/></linearGradient><linearGradient id="gc19"><stop offset="0.000" stop-color="#f79600"/><stop offset="0.085" stop-color="#dc7000"/><stop offset="0.170" stop-color="#d46300"/><stop offset="0.340" stop-color="#d36200"/><stop offset="0.426" stop-color="#d76900"/><stop offset="0.553" stop-color="#ea8600"/><stop offset="0.638" stop-color="#ffa400"/><stop offset="0.702" stop-color="#ffcf00"/><stop offset="0.723" stop-color="#ffe300"/><stop offset="0.745" stop-color="#ffff00"/><stop offset="1.000" stop-color="#ffff00"/></linearGradient><linearGradient id="gc20"><stop offset="0.000" stop-color="#f69500"/><stop offset="0.085" stop-color="#dc7000"/><stop offset="0.149" stop-color="#d46400"/><stop offset="0.319" stop-color="#d26100"/><stop offset="0.447" stop-color="#da6d00"/><stop offset="0.574" stop-color="#f08d00"/><stop offset="0.638" stop-color="#ffa600"/><stop offset="0.702" stop-color="#ffd100"/><stop offset="0.745" stop-color="#ffff00"/><stop offset="1.000" stop-color="#ffff00"/></linearGradient><linearGradient id="gc21"><stop offset="0.000" stop-color="#f69400"/><stop offset="0.085" stop-color="#db6f00"/><stop offset="0.149" stop-color="#d46400"/><stop offset="0.319" stop-color="#d26100"/><stop offset="0.426" stop-color="#d86a00"/><stop offset="0.553" stop-color="#eb8700"/><stop offset="0.617" stop-color="#fd9d00"/><stop offset="0.681" stop-color="#ffc200"/><stop offset="0.702" stop-color="#ffd300"/><stop offset="0.745" stop-color="#ffff00"/><stop offset="1.000" stop-color="#ffff00"/></linearGradient><linearGradient id="gc22"><stop offset="0.000" stop-color="#f59300"/><stop offset="0.085" stop-color="#db6f00"/><stop offset="0.149" stop-color="#d46300"/><stop offset="0.319" stop-color="#d26100"/><stop offset="0.447" stop-color="#db6e00"/><stop offset="0.574" stop-color="#f28f00"/><stop offset="0.638" stop-color="#ffa900"/><stop offset="0.702" stop-color="#ffd400"/><stop offset="0.723" stop-color="#ffee00"/><stop offset="0.745" stop-color="#ffff00"/><stop offset="1.000" stop-color="#ffff00"/></linearGradient><linearGradient id="gc23"><stop offset="0.000" stop-color="#f49200"/><stop offset="0.085" stop-color="#db6e00"/><stop offset="0.149" stop-color="#d36300"/><stop offset="0.319" stop-color="#d26100"/><stop offset="0.447" stop-color="#db6f00"/><stop offset="0.574" stop-color="#f29000"/><stop offset="0.617" stop-color="#fe9f00"/><stop offset="0.702" stop-color="#ffd600"/><stop offset="0.723" stop-color="#fff100"/><stop offset="0.745" stop-color="#ffff00"/><stop offset="1.000" stop-color="#ffff00"/></linearGradient><linearGradient id="gc24"><stop offset="0.000" stop-color="#f39200"/><stop offset="0.064" stop-color="#df7400"/><stop offset="0.128" stop-color="#d46400"/><stop offset="0.319" stop-color="#d26100"/><stop offset="0.426" stop-color="#d96c00"/><stop offset="0.553" stop-color="#ed8a00"/><stop offset="0.617" stop-color="#ffa000"/><stop offset="0.681" stop-color="#ffc800"/><stop offset="0.702" stop-color="#ffd800"/><stop offset="0.723" stop-color="#fff500"/><stop offset="0.745" stop-color="#ffff00"/><stop offset="1.000" stop-color="#ffff00"/></linearGradient><linearGradient id="gc25"><stop offset="0.000" stop-color="#f39100"/><stop offset="0.064" stop-color="#de7400"/><stop offset="0.128" stop-color="#d46400"/><stop offset="0.298" stop-color="#d26000"/><stop offset="0.447" stop-color="#dc7000"/><stop offset="0.553" stop-color="#ee8b00"/><stop offset="0.617" stop-color="#ffa200"/><stop offset="0.681" stop-color="#ffc900"/><stop offset="0.702" stop-color="#ffda00"/><stop offset="0.723" stop-color="#fff800"/><stop offset="0.745" stop-color="#ffff00"/><stop offset="1.000" stop-color="#ffff00"/></linearGradient><linearGradient id="gc26"><stop offset="0.000" stop-color="#f29000"/><stop offset="0.085" stop-color="#d96c00"/><stop offset="0.170" stop-color="#d26100"/><stop offset="0.298" stop-color="#d26000"/><stop offset="0.426" stop-color="#da6d00"/><stop offset="0.532" stop-color="#ea8600"/><stop offset="0.617" stop-color="#ffa300"/><stop offset="0.702" stop-color="#ffdb00"/><stop offset="0.723" stop-color="#fffc00"/><stop offset="0.851" stop-color="#ffff00"/><stop offset="1.000" stop-color="#ffff00"/></linearGradient><linearGradient id="gc27"><stop offset="0.000" stop-color="#f18f00"/><stop offset="0.064" stop-color="#dd7200"/><stop offset="0.128" stop-color="#d46300"/><stop offset="0.298" stop-color="#d26000"/><stop offset="0.426" stop-color="#da6d00"/><stop offset="0.553" stop-color="#f08d00"/><stop offset="0.617" stop-color="#ffa500"/><stop offset="0.681" stop-color="#ffcd00"/><stop offset="0.702" stop-color="#ffdd00"/><stop offset="0.723" stop-color="#ffff00"/><stop offset="1.000" stop-color="#ffff00"/></linearGradient><linearGradient id="gc28"><stop offset="0.000" stop-color="#f18e00"/><stop offset="0.064" stop-color="#dd7100"/><stop offset="0.128" stop-color="#d36300"/><stop offset="0.277" stop-color="#d15f00"/><stop offset="0.404" stop-color="#d86a00"/><stop offset="0.532" stop-color="#eb8700"/><stop offset="0.617" stop-color="#ffa600"/><stop offset="0.681" stop-color="#ffcf00"/><stop offset="0.702" stop-color="#ffe000"/><stop offset="0.723" stop-color="#ffff00"/><stop offset="1.000" stop-color="#ffff00"/></linearGradient><linearGradient id="gc29"><stop offset="0.000" stop-color="#f08d00"/><stop offset="0.064" stop-color="#dc7100"/><stop offset="0.128" stop-color="#d36200"/><stop offset="0.298" stop-color="#d26100"/><stop offset="0.426" stop-color="#db6e00"/><stop offset="0.553" stop-color="#f18f00"/><stop offset="0.596" stop-color="#fd9d00"/><stop offset="0.660" stop-color="#ffc200"/><stop offset="0.702" stop-color="#ffe400"/><stop offset="0.723" stop-color="#ffff00"/><stop offset="1.000" stop-color="#ffff00"/></linearGradient><linearGradient id="gc30"><stop offset="0.000" stop-color="#ef8c00"/><stop offset="0.064" stop-color="#dc7000"/><stop offset="0.128" stop-color="#d36200"/><stop offset="0.298" stop-color="#d26100"/><stop offset="0.426" stop-color="#db6f00"/><stop offset="0.553" stop-color="#f29000"/><stop offset="0.596" stop-color="#fe9e00"/><stop offset="0.681" stop-color="#ffd200"/><stop offset="0.723" stop-color="#ffff00"/><stop offset="1.000" stop-color="#ffff00"/></linearGradient><linearGradient id="gc31"><stop offset="0.000" stop-color="#ee8b00"/><stop offset="0.064" stop-color="#db6f00"/><stop offset="0.128" stop-color="#d36200"/><stop offset="0.277" stop-color="#d15f00"/><stop offset="0.404" stop-color="#d96c00"/><stop offset="0.532" stop-color="#ed8a00"/><stop offset="0.596" stop-color="#fe9f00"/><stop offset="0.681" stop-color="#ffd400"/><stop offset="0.723" stop-color="#ffff00"/><stop offset="1.000" stop-color="#ffff00"/></linearGradient><linearGradient id="gc32"><stop offset="0.000" stop-color="#ed8a00"/><stop offset="0.085" stop-color="#d76900"/><stop offset="0.149" stop-color="#d26000"/><stop offset="0.319" stop-color="#d36200"/><stop offset="0.426" stop-color="#dc7000"/><stop offset="0.532" stop-color="#ee8b00"/><stop offset="0.596" stop-color="#ffa100"/><stop offset="0.681" stop-color="#ffd600"/><stop offset="0.702" stop-color="#ffef00"/><stop offset="0.723" stop-color="#ffff00"/><stop offset="1.000" stop-color="#ffff00"/></linearGradient><linearGradient id="gc33"><stop offset="0.000" stop-color="#ec8900"/><stop offset="0.085" stop-color="#d76800"/><stop offset="0.149" stop-color="#d16000"/><stop offset="0.277" stop-color="#d15f00"/><stop offset="0.404" stop-color="#da6d00"/><stop offset="0.511" stop-color="#ea8500"/><stop offset="0.596" stop-color="#ffa200"/><stop offset="0.681" stop-color="#ffd800"/><stop offset="0.702" stop-color="#fff300"/><stop offset="0.723" stop-color="#ffff00"/><stop offset="1.000" stop-color="#ffff00"/></linearGradient><linearGradient id="gc34"><stop offset="0.000" stop-color="#eb8800"/><stop offset="0.064" stop-color="#da6d00"/><stop offset="0.128" stop-color="#d26100"/><stop offset="0.277" stop-color="#d15f00"/><stop offset="0.404" stop-color="#da6d00"/><stop offset="0.511" stop-color="#ea8600"/><stop offset="0.596" stop-color="#ffa400"/><stop offset="0.681" stop-color="#ffda00"/><stop offset="0.702" stop-color="#fff700"/><stop offset="0.723" stop-color="#ffff00"/><stop offset="1.000" stop-color="#ffff00"/></linearGradient><linearGradient id="gc35"><stop offset="0.000" stop-color="#ea8600"/><stop offset="0.064" stop-color="#d96c00"/><stop offset="0.128" stop-color="#d26000"/><stop offset="0.277" stop-color="#d15f00"/><stop offset="0.404" stop-color="#da6e00"/><stop offset="0.532" stop-color="#f08e00"/><stop offset="0.596" stop-color="#ffa600"/><stop offset="0.681" stop-color="#ffdc00"/><stop offset="0.702" stop-color="#fffb00"/><stop offset="0.745" stop-color="#ffff00"/><stop offset="1.000" stop-color="#ffff00"/></linearGradient><linearGradient id="gc36"><stop offset="0.000" stop-color="#e98500"/><stop offset="0.064" stop-color="#d96b00"/><stop offset="0.149" stop-color="#d15e00"/><stop offset="0.319" stop-color="#d36200"/><stop offset="0.426" stop-color="#de7300"/><stop offset="0.532" stop-color="#f18f00"/><stop offset="0.574" stop-color="#fd9e00"/><stop offset="0.638" stop-color="#ffc100"/><stop offset="0.681" stop-color="#ffdf00"/><stop offset="0.702" stop-color="#ffff00"/><stop offset="1.000" stop-color="#ffff00"/></linearGradient><linearGradient id="gc37"><stop offset="0.000" stop-color="#e88300"/><stop offset="0.064" stop-color="#d86a00"/><stop offset="0.128" stop-color="#d15f00"/><stop offset="0.277" stop-color="#d15f00"/><stop offset="0.404" stop-color="#db6f00"/><stop offset="0.532" stop-color="#f29000"/><stop offset="0.574" stop-color="#fe9f00"/><stop offset="0.638" stop-color="#ffc300"/><stop offset="0.681" stop-color="#ffe400"/><stop offset="0.702" stop-color="#ffff00"/><stop offset="1.000" stop-color="#ffff00"/></linearGradient><linearGradient id="gc38"><stop offset="0.000" stop-color="#e78100"/><stop offset="0.064" stop-color="#d76900"/><stop offset="0.149" stop-color="#d05d00"/><stop offset="0.319" stop-color="#d36200"/><stop offset="0.447" stop-color="#e27900"/><stop offset="0.553" stop-color="#f99900"/><stop offset="0.574" stop-color="#ffa100"/><stop offset="0.638" stop-color="#ffc600"/><stop offset="0.660" stop-color="#ffd400"/><stop offset="0.702" stop-color="#ffff00"/><stop offset="1.000" stop-color="#ffff00"/></linearGradient><linearGradient id="gc39"><stop offset="0.000" stop-color="#e67f00"/><stop offset="0.064" stop-color="#d66700"/><stop offset="0.149" stop-color="#d05d00"/><stop offset="0.319" stop-color="#d36200"/><stop offset="0.447" stop-color="#e37a00"/><stop offset="0.553" stop-color="#fa9a00"/><stop offset="0.574" stop-color="#ffa300"/><stop offset="0.660" stop-color="#ffd700"/><stop offset="0.681" stop-color="#ffee00"/><stop offset="0.702" stop-color="#ffff00"/><stop offset="1.000" stop-color="#ffff00"/></linearGradient><linearGradient id="gc40"><stop offset="0.000" stop-color="#e47d00"/><stop offset="0.064" stop-color="#d56600"/><stop offset="0.149" stop-color="#cf5c00"/><stop offset="0.319" stop-color="#d36200"/><stop offset="0.447" stop-color="#e37b00"/><stop offset="0.553" stop-color="#fb9b00"/><stop offset="0.596" stop-color="#ffb000"/><stop offset="0.660" stop-color="#ffd900"/><stop offset="0.681" stop-color="#fff400"/><stop offset="0.702" stop-color="#ffff00"/><stop offset="1.000" stop-color="#ffff00"/></linearGradient><linearGradient id="gc41"><stop offset="0.000" stop-color="#e37a00"/><stop offset="0.085" stop-color="#d26100"/><stop offset="0.170" stop-color="#cf5b00"/><stop offset="0.340" stop-color="#d56500"/><stop offset="0.489" stop-color="#eb8700"/><stop offset="0.574" stop-color="#ffa600"/><stop offset="0.660" stop-color="#ffdc00"/><stop offset="0.681" stop-color="#fff900"/><stop offset="0.702" stop-color="#ffff00"/><stop offset="1.000" stop-color="#ffff00"/></linearGradient><linearGradient id="gc42"><stop offset="0.000" stop-color="#e17800"/><stop offset="0.064" stop-color="#d46300"/><stop offset="0.170" stop-color="#ce5b00"/><stop offset="0.319" stop-color="#d36300"/><stop offset="0.426" stop-color="#e17700"/><stop offset="0.532" stop-color="#f79600"/><stop offset="0.574" stop-color="#ffa800"/><stop offset="0.638" stop-color="#ffcf00"/><stop offset="0.660" stop-color="#ffdf00"/><stop offset="0.681" stop-color="#ffff00"/><stop offset="1.000" stop-color="#ffff00"/></linearGradient><linearGradient id="gc43"><stop offset="0.000" stop-color="#e07600"/><stop offset="0.064" stop-color="#d36200"/><stop offset="0.170" stop-color="#ce5a00"/><stop offset="0.340" stop-color="#d56600"/><stop offset="0.489" stop-color="#ed8900"/><stop offset="0.553" stop-color="#fe9e00"/><stop offset="0.638" stop-color="#ffd200"/><stop offset="0.660" stop-color="#ffe400"/><stop offset="0.681" stop-color="#ffff00"/><stop offset="1.000" stop-color="#ffff00"/></linearGradient><linearGradient id="gc44"><stop offset="0.000" stop-color="#de7300"/><stop offset="0.064" stop-color="#d26100"/><stop offset="0.149" stop-color="#ce5900"/><stop offset="0.319" stop-color="#d36300"/><stop offset="0.468" stop-color="#e98400"/><stop offset="0.553" stop-color="#fe9f00"/><stop offset="0.638" stop-color="#ffd400"/><stop offset="0.681" stop-color="#ffff00"/><stop offset="1.000" stop-color="#ffff00"/></linearGradient><linearGradient id="gc45"><stop offset="0.000" stop-color="#dc7100"/><stop offset="0.043" stop-color="#d46300"/><stop offset="0.149" stop-color="#cd5900"/><stop offset="0.319" stop-color="#d46300"/><stop offset="0.447" stop-color="#e67f00"/><stop offset="0.553" stop-color="#ffa000"/><stop offset="0.617" stop-color="#ffc600"/><stop offset="0.638" stop-color="#ffd600"/><stop offset="0.660" stop-color="#ffef00"/><stop offset="0.681" stop-color="#ffff00"/><stop offset="1.000" stop-color="#ffff00"/></linearGradient><linearGradient id="gc46"><stop offset="0.000" stop-color="#db6e00"/><stop offset="0.064" stop-color="#d15e00"/><stop offset="0.170" stop-color="#cd5900"/><stop offset="0.319" stop-color="#d46400"/><stop offset="0.468" stop-color="#ea8500"/><stop offset="0.553" stop-color="#ffa000"/><stop offset="0.617" stop-color="#ffc800"/><stop offset="0.638" stop-color="#ffd800"/><stop offset="0.660" stop-color="#fff400"/><stop offset="0.681" stop-color="#ffff00"/><stop offset="1.000" stop-color="#ffff00"/></linearGradient><linearGradient id="gc47"><stop offset="0.000" stop-color="#d96c00"/><stop offset="0.064" stop-color="#d05d00"/><stop offset="0.170" stop-color="#cd5800"/><stop offset="0.319" stop-color="#d46400"/><stop offset="0.489" stop-color="#ef8c00"/><stop offset="0.553" stop-color="#ffa100"/><stop offset="0.617" stop-color="#ffc900"/><stop offset="0.638" stop-color="#ffda00"/><stop offset="0.660" stop-color="#fff800"/><stop offset="0.681" stop-color="#ffff00"/><stop offset="1.000" stop-color="#ffff00"/></linearGradient><linearGradient id="gc48"><stop offset="0.000" stop-color="#d86900"/><stop offset="0.085" stop-color="#ce5a00"/><stop offset="0.170" stop-color="#cd5800"/><stop offset="0.340" stop-color="#d76800"/><stop offset="0.489" stop-color="#ef8c00"/><stop offset="0.553" stop-color="#ffa200"/><stop offset="0.617" stop-color="#ffca00"/><stop offset="0.638" stop-color="#ffdc00"/><stop offset="0.660" stop-color="#fffd00"/><stop offset="1.000" stop-color="#ffff00"/></linearGradient><linearGradient id="gc49"><stop offset="0.000" stop-color="#d66700"/><stop offset="0.085" stop-color="#cd5900"/><stop offset="0.170" stop-color="#cc5700"/><stop offset="0.340" stop-color="#d76900"/><stop offset="0.489" stop-color="#f08d00"/><stop offset="0.553" stop-color="#ffa300"/><stop offset="0.617" stop-color="#ffcc00"/><stop offset="0.638" stop-color="#ffdd00"/><stop offset="0.660" stop-color="#ffff00"/><stop offset="1.000" stop-color="#ffff00"/></linearGradient><linearGradient id="gc50"><stop offset="0.000" stop-color="#d46400"/><stop offset="0.085" stop-color="#cd5800"/><stop offset="0.191" stop-color="#cd5800"/><stop offset="0.340" stop-color="#d76900"/><stop offset="0.489" stop-color="#f08e00"/><stop offset="0.553" stop-color="#ffa300"/><stop offset="0.617" stop-color="#ffcd00"/><stop offset="0.638" stop-color="#ffe000"/><stop offset="0.660" stop-color="#ffff00"/><stop offset="1.000" stop-color="#ffff00"/></linearGradient><linearGradient id="gc51"><stop offset="0.000" stop-color="#d36200"/><stop offset="0.085" stop-color="#cc5700"/><stop offset="0.170" stop-color="#cc5600"/><stop offset="0.319" stop-color="#d56500"/><stop offset="0.489" stop-color="#f18e00"/><stop offset="0.553" stop-color="#ffa400"/><stop offset="0.596" stop-color="#ffbe00"/><stop offset="0.638" stop-color="#ffe400"/><stop offset="0.660" stop-color="#ffff00"/><stop offset="1.000" stop-color="#ffff00"/></linearGradient><linearGradient id="gc52"><stop offset="0.000" stop-color="#d26000"/><stop offset="0.085" stop-color="#cb5600"/><stop offset="0.170" stop-color="#cc5600"/><stop offset="0.340" stop-color="#d86a00"/><stop offset="0.489" stop-color="#f18f00"/><stop offset="0.553" stop-color="#ffa500"/><stop offset="0.596" stop-color="#ffbf00"/><stop offset="0.617" stop-color="#ffd000"/><stop offset="0.660" stop-color="#ffff00"/><stop offset="1.000" stop-color="#ffff00"/></linearGradient><linearGradient id="gc53"><stop offset="0.000" stop-color="#d15f00"/><stop offset="0.085" stop-color="#cb5500"/><stop offset="0.170" stop-color="#cb5600"/><stop offset="0.340" stop-color="#d86a00"/><stop offset="0.468" stop-color="#ed8900"/><stop offset="0.532" stop-color="#fc9c00"/><stop offset="0.596" stop-color="#ffc000"/><stop offset="0.617" stop-color="#ffd100"/><stop offset="0.638" stop-color="#ffec00"/><stop offset="0.660" stop-color="#ffff00"/><stop offset="1.000" stop-color="#ffff00"/></linearGradient><linearGradient id="gc54"><stop offset="0.000" stop-color="#d05d00"/><stop offset="0.106" stop-color="#ca5300"/><stop offset="0.234" stop-color="#cf5c00"/><stop offset="0.340" stop-color="#d86b00"/><stop offset="0.511" stop-color="#f79600"/><stop offset="0.553" stop-color="#ffa600"/><stop offset="0.596" stop-color="#ffc100"/><stop offset="0.617" stop-color="#ffd300"/><stop offset="0.638" stop-color="#fff000"/><stop offset="0.660" stop-color="#ffff00"/><stop offset="1.000" stop-color="#ffff00"/></linearGradient><linearGradient id="gc55"><stop offset="0.000" stop-color="#ce5b00"/><stop offset="0.085" stop-color="#ca5300"/><stop offset="0.191" stop-color="#cc5700"/><stop offset="0.340" stop-color="#d86b00"/><stop offset="0.489" stop-color="#f29000"/><stop offset="0.553" stop-color="#ffa700"/><stop offset="0.596" stop-color="#ffc200"/><stop offset="0.617" stop-color="#ffd500"/><stop offset="0.638" stop-color="#fff400"/><stop offset="0.660" stop-color="#ffff00"/><stop offset="1.000" stop-color="#ffff00"/></linearGradient><linearGradient id="gc56"><stop offset="0.000" stop-color="#cd5900"/><stop offset="0.106" stop-color="#c95200"/><stop offset="0.277" stop-color="#d26000"/><stop offset="0.383" stop-color="#df7500"/><stop offset="0.511" stop-color="#f89700"/><stop offset="0.553" stop-color="#ffa800"/><stop offset="0.596" stop-color="#ffc400"/><stop offset="0.617" stop-color="#ffd600"/><stop offset="0.638" stop-color="#fff800"/><stop offset="0.660" stop-color="#ffff00"/><stop offset="1.000" stop-color="#ffff00"/></linearGradient><linearGradient id="gc57"><stop offset="0.000" stop-color="#cc5700"/><stop offset="0.106" stop-color="#c95100"/><stop offset="0.234" stop-color="#cf5b00"/><stop offset="0.340" stop-color="#d96b00"/><stop offset="0.468" stop-color="#ee8b00"/><stop offset="0.532" stop-color="#fe9f00"/><stop offset="0.574" stop-color="#ffb600"/><stop offset="0.617" stop-color="#ffd800"/><stop offset="0.638" stop-color="#fffd00"/><stop offset="1.000" stop-color="#ffff00"/></linearGradient><linearGradient id="gc58"><stop offset="0.000" stop-color="#cb5500"/><stop offset="0.106" stop-color="#c85000"/><stop offset="0.298" stop-color="#d36300"/><stop offset="0.468" stop-color="#ee8b00"/><stop offset="0.532" stop-color="#ffa000"/><stop offset="0.574" stop-color="#ffb700"/><stop offset="0.617" stop-color="#ffda00"/><stop offset="0.638" stop-color="#ffff00"/><stop offset="1.000" stop-color="#ffff00"/></linearGradient><linearGradient id="gc59"><stop offset="0.000" stop-color="#c95200"/><stop offset="0.128" stop-color="#c85000"/><stop offset="0.319" stop-color="#d56600"/><stop offset="0.489" stop-color="#f49200"/><stop offset="0.532" stop-color="#ffa000"/><stop offset="0.596" stop-color="#ffc800"/><stop offset="0.617" stop-color="#ffdc00"/><stop offset="0.638" stop-color="#ffff00"/><stop offset="1.000" stop-color="#ffff00"/></linearGradient><linearGradient id="gc60"><stop offset="0.000" stop-color="#c85000"/><stop offset="0.128" stop-color="#c74f00"/><stop offset="0.319" stop-color="#d56600"/><stop offset="0.468" stop-color="#ef8c00"/><stop offset="0.532" stop-color="#ffa100"/><stop offset="0.596" stop-color="#ffca00"/><stop offset="0.617" stop-color="#ffdf00"/><stop offset="0.638" stop-color="#ffff00"/><stop offset="1.000" stop-color="#ffff00"/></linearGradient><linearGradient id="gc61"><stop offset="0.000" stop-color="#c64e00"/><stop offset="0.128" stop-color="#c64f00"/><stop offset="0.319" stop-color="#d56500"/><stop offset="0.468" stop-color="#ef8c00"/><stop offset="0.532" stop-color="#ffa200"/><stop offset="0.574" stop-color="#ffbb00"/><stop offset="0.596" stop-color="#ffcc00"/><stop offset="0.638" stop-color="#ffff00"/><stop offset="1.000" stop-color="#ffff00"/></linearGradient><linearGradient id="gc62"><stop offset="0.000" stop-color="#c34c00"/><stop offset="0.149" stop-color="#c74f00"/><stop offset="0.319" stop-color="#d56500"/><stop offset="0.468" stop-color="#ef8d00"/><stop offset="0.532" stop-color="#ffa300"/><stop offset="0.574" stop-color="#ffbd00"/><stop offset="0.596" stop-color="#ffce00"/><stop offset="0.617" stop-color="#ffeb00"/><stop offset="0.638" stop-color="#ffff00"/><stop offset="1.000" stop-color="#ffff00"/></linearGradient><linearGradient id="gc63"><stop offset="0.000" stop-color="#c14a00"/><stop offset="0.128" stop-color="#c44c00"/><stop offset="0.319" stop-color="#d46400"/><stop offset="0.468" stop-color="#f08d00"/><stop offset="0.532" stop-color="#ffa400"/><stop offset="0.574" stop-color="#ffbe00"/><stop offset="0.596" stop-color="#ffd100"/><stop offset="0.617" stop-color="#fff100"/><stop offset="0.638" stop-color="#ffff00"/><stop offset="1.000" stop-color="#ffff00"/></linearGradient><linearGradient id="gc64"><stop offset="0.000" stop-color="#be4800"/><stop offset="0.149" stop-color="#c44d00"/><stop offset="0.319" stop-color="#d46300"/><stop offset="0.468" stop-color="#f08d00"/><stop offset="0.532" stop-color="#ffa500"/><stop offset="0.574" stop-color="#ffc000"/><stop offset="0.596" stop-color="#ffd400"/><stop offset="0.617" stop-color="#fff900"/><stop offset="0.638" stop-color="#ffff00"/><stop offset="1.000" stop-color="#ffff00"/></linearGradient><linearGradient id="gc65"><stop offset="0.000" stop-color="#bb4500"/><stop offset="0.170" stop-color="#c54d00"/><stop offset="0.340" stop-color="#d76800"/><stop offset="0.468" stop-color="#f08d00"/><stop offset="0.532" stop-color="#ffa600"/><stop offset="0.574" stop-color="#ffc200"/><stop offset="0.596" stop-color="#ffd600"/><stop offset="0.617" stop-color="#ffff00"/><stop offset="1.000" stop-color="#ffff00"/></linearGradient><linearGradient id="gc66"><stop offset="0.000" stop-color="#b94300"/><stop offset="0.170" stop-color="#c34c00"/><stop offset="0.340" stop-color="#d66700"/><stop offset="0.468" stop-color="#f08d00"/><stop offset="0.532" stop-color="#ffa600"/><stop offset="0.574" stop-color="#ffc400"/><stop offset="0.596" stop-color="#ffd900"/><stop offset="0.617" stop-color="#ffff00"/><stop offset="1.000" stop-color="#ffff00"/></linearGradient><linearGradient id="gc67"><stop offset="0.000" stop-color="#b64000"/><stop offset="0.170" stop-color="#c24b00"/><stop offset="0.319" stop-color="#d26100"/><stop offset="0.468" stop-color="#f08d00"/><stop offset="0.532" stop-color="#ffa700"/><stop offset="0.574" stop-color="#ffc600"/><stop offset="0.596" stop-color="#ffdc00"/><stop offset="0.617" stop-color="#ffff00"/><stop offset="1.000" stop-color="#ffff00"/></linearGradient><linearGradient id="gc68"><stop offset="0.000" stop-color="#b33e00"/><stop offset="0.170" stop-color="#c04900"/><stop offset="0.340" stop-color="#d46500"/><stop offset="0.489" stop-color="#f69500"/><stop offset="0.511" stop-color="#fd9d00"/><stop offset="0.553" stop-color="#ffb600"/><stop offset="0.574" stop-color="#ffc800"/><stop offset="0.617" stop-color="#ffff00"/><stop offset="1.000" stop-color="#ffff00"/></linearGradient><linearGradient id="gc69"><stop offset="0.000" stop-color="#b03b00"/><stop offset="0.191" stop-color="#c14a00"/><stop offset="0.340" stop-color="#d46300"/><stop offset="0.468" stop-color="#ef8d00"/><stop offset="0.511" stop-color="#fd9d00"/><stop offset="0.553" stop-color="#ffb700"/><stop offset="0.574" stop-color="#ffca00"/><stop offset="0.596" stop-color="#ffe800"/><stop offset="0.617" stop-color="#ffff00"/><stop offset="1.000" stop-color="#ffff00"/></linearGradient><linearGradient id="gc70"><stop offset="0.000" stop-color="#ac3800"/><stop offset="0.191" stop-color="#bf4800"/><stop offset="0.340" stop-color="#d36200"/><stop offset="0.468" stop-color="#ef8c00"/><stop offset="0.511" stop-color="#fd9d00"/><stop offset="0.553" stop-color="#ffb900"/><stop offset="0.574" stop-color="#ffcd00"/><stop offset="0.596" stop-color="#fff000"/><stop offset="0.617" stop-color="#ffff00"/><stop offset="1.000" stop-color="#ffff00"/></linearGradient><linearGradient id="gc71"><stop offset="0.000" stop-color="#a93500"/><stop offset="0.191" stop-color="#bd4600"/><stop offset="0.340" stop-color="#d26100"/><stop offset="0.468" stop-color="#ef8c00"/><stop offset="0.511" stop-color="#fd9d00"/><stop offset="0.553" stop-color="#ffba00"/><stop offset="0.574" stop-color="#ffd000"/><stop offset="0.596" stop-color="#fff700"/><stop offset="0.617" stop-color="#ffff00"/><stop offset="1.000" stop-color="#ffff00"/></linearGradient><linearGradient id="gc72"><stop offset="0.000" stop-color="#a53200"/><stop offset="0.191" stop-color="#ba4400"/><stop offset="0.340" stop-color="#d16000"/><stop offset="0.468" stop-color="#ef8c00"/><stop offset="0.511" stop-color="#fd9e00"/><stop offset="0.553" stop-color="#ffbc00"/><stop offset="0.574" stop-color="#ffd300"/><stop offset="0.596" stop-color="#fffe00"/><stop offset="1.000" stop-color="#ffff00"/></linearGradient><linearGradient id="gc73"><stop offset="0.000" stop-color="#a02f00"/><stop offset="0.191" stop-color="#b84200"/><stop offset="0.340" stop-color="#d05e00"/><stop offset="0.468" stop-color="#ee8b00"/><stop offset="0.511" stop-color="#fd9e00"/><stop offset="0.553" stop-color="#ffbe00"/><stop offset="0.574" stop-color="#ffd600"/><stop offset="0.596" stop-color="#ffff00"/><stop offset="1.000" stop-color="#ffff00"/></linearGradient><linearGradient id="gc74"><stop offset="0.000" stop-color="#9c2b00"/><stop offset="0.213" stop-color="#b94300"/><stop offset="0.340" stop-color="#cf5c00"/><stop offset="0.447" stop-color="#e78100"/><stop offset="0.511" stop-color="#fe9e00"/><stop offset="0.553" stop-color="#ffc000"/><stop offset="0.574" stop-color="#ffd900"/><stop offset="0.596" stop-color="#ffff00"/><stop offset="1.000" stop-color="#ffff00"/></linearGradient><linearGradient id="gc75"><stop offset="0.000" stop-color="#972800"/><stop offset="0.191" stop-color="#b23d00"/><stop offset="0.340" stop-color="#ce5b00"/><stop offset="0.447" stop-color="#e78000"/><stop offset="0.511" stop-color="#fe9f00"/><stop offset="0.553" stop-color="#ffc300"/><stop offset="0.574" stop-color="#ffdd00"/><stop offset="0.596" stop-color="#ffff00"/><stop offset="1.000" stop-color="#ffff00"/></linearGradient><linearGradient id="gc76"><stop offset="0.000" stop-color="#912400"/><stop offset="0.191" stop-color="#af3b00"/><stop offset="0.340" stop-color="#cd5900"/><stop offset="0.426" stop-color="#e07600"/><stop offset="0.511" stop-color="#fe9f00"/><stop offset="0.553" stop-color="#ffc500"/><stop offset="0.574" stop-color="#ffe500"/><stop offset="0.596" stop-color="#ffff00"/><stop offset="1.000" stop-color="#ffff00"/></linearGradient><linearGradient id="gc77"><stop offset="0.000" stop-color="#8c2000"/><stop offset="0.191" stop-color="#ac3800"/><stop offset="0.340" stop-color="#cc5700"/><stop offset="0.426" stop-color="#df7500"/><stop offset="0.511" stop-color="#ff9f00"/><stop offset="0.553" stop-color="#ffc800"/><stop offset="0.574" stop-color="#ffee00"/><stop offset="0.596" stop-color="#ffff00"/><stop offset="1.000" stop-color="#ffff00"/></linearGradient><linearGradient id="gc78"><stop offset="0.000" stop-color="#831a00"/><stop offset="0.213" stop-color="#ac3800"/><stop offset="0.340" stop-color="#cb5500"/><stop offset="0.426" stop-color="#df7400"/><stop offset="0.511" stop-color="#ffa100"/><stop offset="0.553" stop-color="#ffcc00"/><stop offset="0.574" stop-color="#fff800"/><stop offset="0.596" stop-color="#ffff00"/><stop offset="1.000" stop-color="#ffff00"/></linearGradient><linearGradient id="gc79"><stop offset="0.000" stop-color="#7a1500"/><stop offset="0.149" stop-color="#982800"/><stop offset="0.319" stop-color="#c44d00"/><stop offset="0.404" stop-color="#d86a00"/><stop offset="0.489" stop-color="#f69500"/><stop offset="0.511" stop-color="#ffa200"/><stop offset="0.532" stop-color="#ffb600"/><stop offset="0.553" stop-color="#ffd000"/><stop offset="0.574" stop-color="#ffff00"/><stop offset="1.000" stop-color="#ffff00"/></linearGradient><linearGradient id="gc80"><stop offset="0.000" stop-color="#701000"/><stop offset="0.106" stop-color="#861c00"/><stop offset="0.298" stop-color="#bb4400"/><stop offset="0.383" stop-color="#d26000"/><stop offset="0.468" stop-color="#ed8900"/><stop offset="0.511" stop-color="#ffa400"/><stop offset="0.532" stop-color="#ffb900"/><stop offset="0.553" stop-color="#ffd400"/><stop offset="0.574" stop-color="#ffff00"/><stop offset="1.000" stop-color="#ffff00"/></linearGradient><linearGradient id="gc81"><stop offset="0.000" stop-color="#630a00"/><stop offset="0.149" stop-color="#871c00"/><stop offset="0.319" stop-color="#bc4600"/><stop offset="0.404" stop-color="#d56500"/><stop offset="0.489" stop-color="#f89800"/><stop offset="0.511" stop-color="#ffa900"/><stop offset="0.553" stop-color="#ffdc00"/><stop offset="0.574" stop-color="#ffff00"/><stop offset="1.000" stop-color="#ffff00"/></linearGradient><linearGradient id="gc82"><stop offset="0.000" stop-color="#520400"/><stop offset="0.170" stop-color="#801800"/><stop offset="0.298" stop-color="#ac3800"/><stop offset="0.383" stop-color="#cd5800"/><stop offset="0.447" stop-color="#e27900"/><stop offset="0.489" stop-color="#fb9a00"/><stop offset="0.532" stop-color="#ffcd00"/><stop offset="0.553" stop-color="#fff700"/><stop offset="0.574" stop-color="#ffff00"/><stop offset="1.000" stop-color="#ffff00"/></linearGradient><linearGradient id="gc83"><stop offset="0.000" stop-color="#3e0000"/><stop offset="0.149" stop-color="#6c0e00"/><stop offset="0.234" stop-color="#891e00"/><stop offset="0.319" stop-color="#aa3600"/><stop offset="0.383" stop-color="#c95100"/><stop offset="0.426" stop-color="#d66700"/><stop offset="0.468" stop-color="#ed8900"/><stop offset="0.489" stop-color="#fd9e00"/><stop offset="0.532" stop-color="#ffdc00"/><stop offset="0.553" stop-color="#ffff00"/><stop offset="1.000" stop-color="#ffff00"/></linearGradient></defs>
<g shape-rendering="crispEdges"><rect x="361.00" y="216.00" width="167.00" height="2.00" fill="url(#gc0)"/><rect x="361.00" y="218.00" width="167.00" height="2.00" fill="url(#gc1)"/><rect x="361.00" y="220.00" width="167.00" height="2.00" fill="url(#gc2)"/><rect x="361.00" y="222.00" width="167.00" height="2.00" fill="url(#gc3)"/><rect x="361.00" y="224.00" width="167.00" height="2.00" fill="url(#gc4)"/><rect x="361.00" y="226.00" width="167.00" height="2.00" fill="url(#gc5)"/><rect x="361.00" y="228.00" width="167.00" height="2.00" fill="url(#gc6)"/><rect x="361.00" y="230.00" width="167.00" height="2.00" fill="url(#gc7)"/><rect x="361.00" y="232.00" width="167.00" height="2.00" fill="url(#gc8)"/><rect x="361.00" y="234.00" width="167.00" height="2.00" fill="url(#gc9)"/><rect x="361.00" y="236.00" width="167.00" height="2.00" fill="url(#gc10)"/><rect x="361.00" y="238.00" width="167.00" height="2.00" fill="url(#gc11)"/><rect x="361.00" y="240.00" width="167.00" height="2.00" fill="url(#gc12)"/><rect x="361.00" y="242.00" width="167.00" height="2.00" fill="url(#gc13)"/><rect x="361.00" y="244.00" width="167.00" height="2.00" fill="url(#gc14)"/><rect x="361.00" y="246.00" width="167.00" height="2.00" fill="url(#gc15)"/><rect x="361.00" y="248.00" width="167.00" height="2.00" fill="url(#gc16)"/><rect x="361.00" y="250.00" width="167.00" height="2.00" fill="url(#gc17)"/><rect x="361.00" y="252.00" width="167.00" height="2.00" fill="url(#gc18)"/><rect x="361.00" y="254.00" width="167.00" height="2.00" fill="url(#gc19)"/><rect x="361.00" y="256.00" width="167.00" height="2.00" fill="url(#gc20)"/><rect x="361.00" y="258.00" width="167.00" height="2.00" fill="url(#gc21)"/><rect x="361.00" y="260.00" width="167.00" height="2.00" fill="url(#gc22)"/><rect x="361.00" y="262.00" width="167.00" height="2.00" fill="url(#gc23)"/><rect x="361.00" y="264.00" width="167.00" height="2.00" fill="url(#gc24)"/><rect x="361.00" y="266.00" width="167.00" height="2.00" fill="url(#gc25)"/><rect x="361.00" y="268.00" width="167.00" height="2.00" fill="url(#gc26)"/><rect x="361.00" y="270.00" width="167.00" height="2.00" fill="url(#gc27)"/><rect x="361.00" y="272.00" width="167.00" height="2.00" fill="url(#gc28)"/><rect x="361.00" y="274.00" width="167.00" height="2.00" fill="url(#gc29)"/><rect x="361.00" y="276.00" width="167.00" height="2.00" fill="url(#gc30)"/><rect x="361.00" y="278.00" width="167.00" height="2.00" fill="url(#gc31)"/><rect x="361.00" y="280.00" width="167.00" height="2.00" fill="url(#gc32)"/><rect x="361.00" y="282.00" width="167.00" height="2.00" fill="url(#gc33)"/><rect x="361.00" y="284.00" width="167.00" height="2.00" fill="url(#gc34)"/><rect x="361.00" y="286.00" width="167.00" height="2.00" fill="url(#gc35)"/><rect x="361.00" y="288.00" width="167.00" height="2.00" fill="url(#gc36)"/><rect x="361.00" y="290.00" width="167.00" height="2.00" fill="url(#gc37)"/><rect x="361.00" y="292.00" width="167.00" height="2.00" fill="url(#gc38)"/><rect x="361.00" y="294.00" width="167.00" height="2.00" fill="url(#gc39)"/><rect x="361.00" y="296.00" width="167.00" height="2.00" fill="url(#gc40)"/><rect x="361.00" y="298.00" width="167.00" height="2.00" fill="url(#gc41)"/><rect x="361.00" y="300.00" width="167.00" height="2.00" fill="url(#gc42)"/><rect x="361.00" y="302.00" width="167.00" height="2.00" fill="url(#gc43)"/><rect x="361.00" y="304.00" width="167.00" height="2.00" fill="url(#gc44)"/><rect x="361.00" y="306.00" width="167.00" height="2.00" fill="url(#gc45)"/><rect x="361.00" y="308.00" width="167.00" height="2.00" fill="url(#gc46)"/><rect x="361.00" y="310.00" width="167.00" height="2.00" fill="url(#gc47)"/><rect x="361.00" y="312.00" width="167.00" height="2.00" fill="url(#gc48)"/><rect x="361.00" y="314.00" width="167.00" height="2.00" fill="url(#gc49)"/><rect x="361.00" y="316.00" width="167.00" height="2.00" fill="url(#gc50)"/><rect x="361.00" y="318.00" width="167.00" height="2.00" fill="url(#gc51)"/><rect x="361.00" y="320.00" width="167.00" height="2.00" fill="url(#gc52)"/><rect x="361.00" y="322.00" width="167.00" height="2.00" fill="url(#gc53)"/><rect x="361.00" y="324.00" width="167.00" height="2.00" fill="url(#gc54)"/><rect x="361.00" y="326.00" width="167.00" height="2.00" fill="url(#gc55)"/><rect x="361.00" y="328.00" width="167.00" height="2.00" fill="url(#gc56)"/><rect x="361.00" y="330.00" width="167.00" height="2.00" fill="url(#gc57)"/><rect x="361.00" y="332.00" width="167.00" height="2.00" fill="url(#gc58)"/><rect x="361.00" y="334.00" width="167.00" height="2.00" fill="url(#gc59)"/><rect x="361.00" y="336.00" width="167.00" height="2.00" fill="url(#gc60)"/><rect x="361.00" y="338.00" width="167.00" height="2.00" fill="url(#gc61)"/><rect x="361.00" y="340.00" width="167.00" height="2.00" fill="url(#gc62)"/><rect x="361.00" y="342.00" width="167.00" height="2.00" fill="url(#gc63)"/><rect x="361.00" y="344.00" width="167.00" height="2.00" fill="url(#gc64)"/><rect x="361.00" y="346.00" width="167.00" height="2.00" fill="url(#gc65)"/><rect x="361.00" y="348.00" width="167.00" height="2.00" fill="url(#gc66)"/><rect x="361.00" y="350.00" width="167.00" height="2.00" fill="url(#gc67)"/><rect x="361.00" y="352.00" width="167.00" height="2.00" fill="url(#gc68)"/><rect x="361.00" y="354.00" width="167.00" height="2.00" fill="url(#gc69)"/><rect x="361.00" y="356.00" width="167.00" height="2.00" fill="url(#gc70)"/><rect x="361.00" y="358.00" width="167.00" height="2.00" fill="url(#gc71)"/><rect x="361.00" y="360.00" width="167.00" height="2.00" fill="url(#gc72)"/><rect x="361.00" y="362.00" width="167.00" height="2.00" fill="url(#gc73)"/><rect x="361.00" y="364.00" width="167.00" height="2.00" fill="url(#gc74)"/><rect x="361.00" y="366.00" width="167.00" height="2.00" fill="url(#gc75)"/><rect x="361.00" y="368.00" width="167.00" height="2.00" fill="url(#gc76)"/><rect x="361.00" y="370.00" width="167.00" height="2.00" fill="url(#gc77)"/><rect x="361.00" y="372.00" width="167.00" height="2.00" fill="url(#gc78)"/><rect x="361.00" y="374.00" width="167.00" height="2.00" fill="url(#gc79)"/><rect x="361.00" y="376.00" width="167.00" height="2.00" fill="url(#gc80)"/><rect x="361.00" y="378.00" width="167.00" height="2.00" fill="url(#gc81)"/><rect x="361.00" y="380.00" width="167.00" height="2.00" fill="url(#gc82)"/><rect x="361.00" y="382.00" width="167.00" height="2.00" fill="url(#gc83)"/></g>
<path d="M459.5 382.7C460.3 382.5 463.0 382.2 464.4 381.8C465.9 381.4 466.8 381.1 468.3 380.3C469.7 379.6 471.5 378.6 473.3 377.2C475.0 375.7 476.9 373.8 478.6 371.5C480.3 369.2 481.9 366.5 483.6 363.2C485.2 359.8 487.0 356.0 488.7 351.5C490.4 347.0 492.4 341.2 493.9 336.1C495.4 331.0 496.4 326.8 497.7 320.8C499.0 314.8 500.5 306.6 501.5 300.3C502.5 294.0 502.8 288.6 503.5 282.9C504.2 277.2 505.0 271.8 505.7 266.2C506.3 260.7 506.9 255.1 507.5 249.6C508.1 244.0 508.7 238.4 509.5 232.9C510.2 227.3 511.6 219.0 512.0 216.2L527.6 216.2L527.6 382.0Z" fill="#6e6e0c"/>
<path d="M459.5 382.7C460.3 382.5 463.0 382.2 464.4 381.8C465.9 381.4 466.8 381.1 468.3 380.3C469.7 379.6 471.5 378.6 473.3 377.2C475.0 375.7 476.9 373.8 478.6 371.5C480.3 369.2 481.9 366.5 483.6 363.2C485.2 359.8 487.0 356.0 488.7 351.5C490.4 347.0 492.4 341.2 493.9 336.1C495.4 331.0 496.4 326.8 497.7 320.8C499.0 314.8 500.5 306.6 501.5 300.3C502.5 294.0 502.8 288.6 503.5 282.9C504.2 277.2 505.0 271.8 505.7 266.2C506.3 260.7 506.9 255.1 507.5 249.6C508.1 244.0 508.7 238.4 509.5 232.9C510.2 227.3 511.6 219.0 512.0 216.2" fill="none" stroke="#000" stroke-width="1.5"/>
<path d="M361.40 383.00h4M527.60 383.00h-4M361.40 366.32h4M527.60 366.32h-4M361.40 349.64h4M527.60 349.64h-4M361.40 332.96h4M527.60 332.96h-4M361.40 316.28h4M527.60 316.28h-4M361.40 299.60h4M527.60 299.60h-4M361.40 282.92h4M527.60 282.92h-4M361.40 266.24h4M527.60 266.24h-4M361.40 249.56h4M527.60 249.56h-4M361.40 232.88h4M527.60 232.88h-4M361.40 216.20h4M527.60 216.20h-4M361.40 383.00v-4M361.40 216.20v4M394.64 383.00v-4M394.64 216.20v4M427.88 383.00v-4M427.88 216.20v4M461.12 383.00v-4M461.12 216.20v4M494.36 383.00v-4M494.36 216.20v4M527.60 383.00v-4M527.60 216.20v4" stroke="#000" stroke-width="0.8" fill="none"/>
<path d="M527.1 216.2V383.0" stroke="#4c4c55" stroke-width="1.2"/>
<path d="M361.4 216.2V383.2H527.6" stroke="#1a0800" stroke-width="1" fill="none"/>
<path d="M361.4 216.2H527.6" stroke="#3a1a00" stroke-width="0.6" fill="none"/>
<text x="360" y="386.4" font-size="9.6" text-anchor="end">0</text>
<text x="360" y="369.7" font-size="9.6" text-anchor="end">0.01</text>
<text x="360" y="353.0" font-size="9.6" text-anchor="end">0.02</text>
<text x="360" y="336.4" font-size="9.6" text-anchor="end">0.03</text>
<text x="360" y="319.7" font-size="9.6" text-anchor="end">0.04</text>
<text x="360" y="303.0" font-size="9.6" text-anchor="end">0.05</text>
<text x="360" y="286.3" font-size="9.6" text-anchor="end">0.06</text>
<text x="360" y="269.6" font-size="9.6" text-anchor="end">0.07</text>
<text x="360" y="253.0" font-size="9.6" text-anchor="end">0.08</text>
<text x="360" y="236.3" font-size="9.6" text-anchor="end">0.09</text>
<text x="360" y="219.6" font-size="9.6" text-anchor="end">0.1</text>
<text x="362.5" y="392.7" font-size="9.6" text-anchor="middle">1</text>
<text x="395.7" y="392.7" font-size="9.6" text-anchor="middle">1.2</text>
<text x="429.0" y="392.7" font-size="9.6" text-anchor="middle">1.4</text>
<text x="462.2" y="392.7" font-size="9.6" text-anchor="middle">1.6</text>
<text x="495.5" y="392.7" font-size="9.6" text-anchor="middle">1.8</text>
<text x="528.7" y="392.7" font-size="9.6" text-anchor="middle">2</text>
<text class="se" x="371.3" y="232" font-size="17.2" textLength="18.6" lengthAdjust="spacingAndGlyphs">(c)</text>
<g fill="#e8e6c8" class="se"><text x="486.4" y="371" font-size="12.5">Δ</text><rect x="488" y="359.8" width="5.5" height="0.8"/><text x="494.6" y="373" font-size="8.5" font-style="italic">c</text><text x="499" y="371" font-size="12.5" textLength="23.5" lengthAdjust="spacingAndGlyphs">&gt;0.2</text></g>
<defs><linearGradient id="cbc" x1="0" y1="0" x2="0" y2="1"><stop offset="0.00" stop-color="#ffff00"/><stop offset="0.20" stop-color="#ffdc00"/><stop offset="0.40" stop-color="#ffb400"/><stop offset="0.60" stop-color="#eb8700"/><stop offset="0.80" stop-color="#c35000"/><stop offset="0.90" stop-color="#962805"/><stop offset="1.00" stop-color="#640f05"/></linearGradient></defs>
<rect x="531.6" y="216.4" width="9" height="166.6" fill="url(#cbc)" stroke="#444" stroke-width="0.7"/>
<path d="M531.6 349.64h3M540.6 349.64h-3M531.6 316.28h3M540.6 316.28h-3M531.6 282.92h3M540.6 282.92h-3M531.6 249.56h3M540.6 249.56h-3" stroke="#000" stroke-width="0.8"/>
<text x="542.1" y="386.4" font-size="9.6">0</text>
<text x="542.1" y="353.0" font-size="9.6">0.02</text>
<text x="542.1" y="319.7" font-size="9.6">0.04</text>
<text x="542.1" y="286.3" font-size="9.6">0.06</text>
<text x="542.1" y="253.0" font-size="9.6">0.08</text>
<text x="542.1" y="219.6" font-size="9.6">0.1</text>
<g transform="translate(566.4 252.2) rotate(90)" class="se" fill="#000"><text x="0" y="0" font-size="16.2">Δ</text><rect x="2.4" y="-12.6" width="5.9" height="0.8"/><text x="11.2" y="1.6" font-size="8.6">0</text><text x="16.2" y="0" font-size="16.2">(</text><text x="22.2" y="0" font-size="16.2" font-style="italic">d</text><text x="30.4" y="3" font-size="11" font-style="italic">U</text><text x="39.2" y="0" font-size="16.2">,</text><text x="46.6" y="0" font-size="16.2">Λ</text><rect x="49.4" y="-12.6" width="5.9" height="0.8"/><text x="57.8" y="3" font-size="11" font-style="italic">U</text><text x="67.5" y="0" font-size="16.2">)</text></g>
<g transform="translate(336.3 297.6) rotate(-90)" class="se"><text x="0" y="0" font-size="17.5">Λ</text><rect x="3.2" y="-15.7" width="5.2" height="1.2"/><text x="12.4" y="2.9" font-size="11.5" font-style="italic" textLength="8.2" lengthAdjust="spacingAndGlyphs">U</text></g>
<text class="se" x="439.2" y="401.1" font-size="16.3" font-style="italic">d</text><text class="se" x="448.4" y="404.3" font-size="12.3" font-style="italic">U</text>
</g>
</svg></body></html>
